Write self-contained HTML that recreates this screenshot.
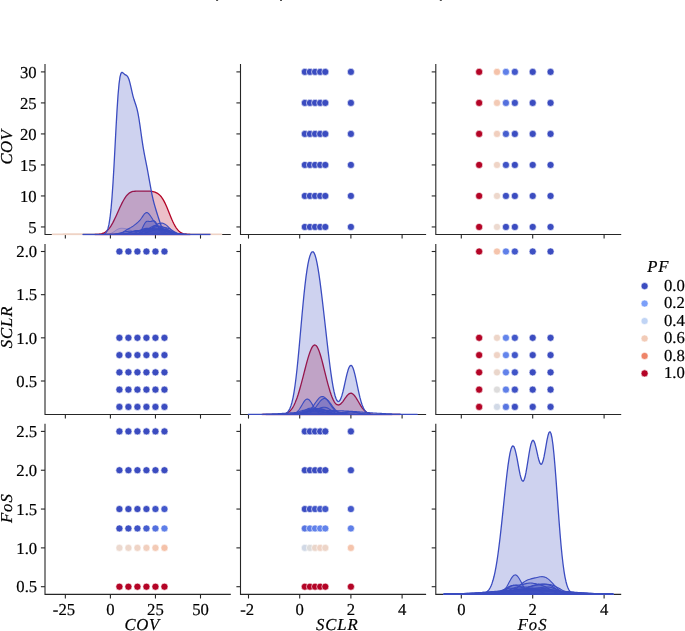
<!DOCTYPE html>
<html lang="en"><head><meta charset="utf-8"><title>Pairplot</title>
<style>html,body{margin:0;padding:0;background:#fff}svg text{font-family:"Liberation Serif","DejaVu Serif",serif;font-size:16.67px;fill:#000;stroke:#000;stroke-width:0.2px;text-rendering:geometricPrecision}body{width:685px;height:631px;overflow:hidden}</style>
</head><body>
<svg width="685" height="631" viewBox="0 0 685 631" style="display:block;will-change:transform">
<rect width="685" height="631" fill="#fff"/>
<rect x="216.1" y="0" width="2.0" height="1" fill="#505050"/>
<rect x="280.0" y="0" width="2.0" height="1" fill="#505050"/>
<rect x="439.8" y="0" width="2.0" height="1" fill="#505050"/>
<circle cx="304.82" cy="226.95" r="3.55" fill="#3b4cc0" stroke="#fff" stroke-width="0.6"/>
<circle cx="309.94" cy="226.95" r="3.55" fill="#3b4cc0" stroke="#fff" stroke-width="0.6"/>
<circle cx="315.06" cy="226.95" r="3.55" fill="#3b4cc0" stroke="#fff" stroke-width="0.6"/>
<circle cx="320.18" cy="226.95" r="3.55" fill="#3b4cc0" stroke="#fff" stroke-width="0.6"/>
<circle cx="325.30" cy="226.95" r="3.55" fill="#3b4cc0" stroke="#fff" stroke-width="0.6"/>
<circle cx="350.90" cy="226.95" r="3.55" fill="#3b4cc0" stroke="#fff" stroke-width="0.6"/>
<circle cx="304.82" cy="195.94" r="3.55" fill="#3b4cc0" stroke="#fff" stroke-width="0.6"/>
<circle cx="309.94" cy="195.94" r="3.55" fill="#3b4cc0" stroke="#fff" stroke-width="0.6"/>
<circle cx="315.06" cy="195.94" r="3.55" fill="#3b4cc0" stroke="#fff" stroke-width="0.6"/>
<circle cx="320.18" cy="195.94" r="3.55" fill="#3b4cc0" stroke="#fff" stroke-width="0.6"/>
<circle cx="325.30" cy="195.94" r="3.55" fill="#3b4cc0" stroke="#fff" stroke-width="0.6"/>
<circle cx="350.90" cy="195.94" r="3.55" fill="#3b4cc0" stroke="#fff" stroke-width="0.6"/>
<circle cx="304.82" cy="164.93" r="3.55" fill="#3b4cc0" stroke="#fff" stroke-width="0.6"/>
<circle cx="309.94" cy="164.93" r="3.55" fill="#3b4cc0" stroke="#fff" stroke-width="0.6"/>
<circle cx="315.06" cy="164.93" r="3.55" fill="#3b4cc0" stroke="#fff" stroke-width="0.6"/>
<circle cx="320.18" cy="164.93" r="3.55" fill="#3b4cc0" stroke="#fff" stroke-width="0.6"/>
<circle cx="325.30" cy="164.93" r="3.55" fill="#3b4cc0" stroke="#fff" stroke-width="0.6"/>
<circle cx="350.90" cy="164.93" r="3.55" fill="#3b4cc0" stroke="#fff" stroke-width="0.6"/>
<circle cx="304.82" cy="133.92" r="3.55" fill="#3b4cc0" stroke="#fff" stroke-width="0.6"/>
<circle cx="309.94" cy="133.92" r="3.55" fill="#3b4cc0" stroke="#fff" stroke-width="0.6"/>
<circle cx="315.06" cy="133.92" r="3.55" fill="#3b4cc0" stroke="#fff" stroke-width="0.6"/>
<circle cx="320.18" cy="133.92" r="3.55" fill="#3b4cc0" stroke="#fff" stroke-width="0.6"/>
<circle cx="325.30" cy="133.92" r="3.55" fill="#3b4cc0" stroke="#fff" stroke-width="0.6"/>
<circle cx="350.90" cy="133.92" r="3.55" fill="#3b4cc0" stroke="#fff" stroke-width="0.6"/>
<circle cx="304.82" cy="102.91" r="3.55" fill="#3b4cc0" stroke="#fff" stroke-width="0.6"/>
<circle cx="309.94" cy="102.91" r="3.55" fill="#3b4cc0" stroke="#fff" stroke-width="0.6"/>
<circle cx="315.06" cy="102.91" r="3.55" fill="#3b4cc0" stroke="#fff" stroke-width="0.6"/>
<circle cx="320.18" cy="102.91" r="3.55" fill="#3b4cc0" stroke="#fff" stroke-width="0.6"/>
<circle cx="325.30" cy="102.91" r="3.55" fill="#3b4cc0" stroke="#fff" stroke-width="0.6"/>
<circle cx="350.90" cy="102.91" r="3.55" fill="#3b4cc0" stroke="#fff" stroke-width="0.6"/>
<circle cx="304.82" cy="71.90" r="3.55" fill="#3b4cc0" stroke="#fff" stroke-width="0.6"/>
<circle cx="309.94" cy="71.90" r="3.55" fill="#3b4cc0" stroke="#fff" stroke-width="0.6"/>
<circle cx="315.06" cy="71.90" r="3.55" fill="#3b4cc0" stroke="#fff" stroke-width="0.6"/>
<circle cx="320.18" cy="71.90" r="3.55" fill="#3b4cc0" stroke="#fff" stroke-width="0.6"/>
<circle cx="325.30" cy="71.90" r="3.55" fill="#3b4cc0" stroke="#fff" stroke-width="0.6"/>
<circle cx="350.90" cy="71.90" r="3.55" fill="#3b4cc0" stroke="#fff" stroke-width="0.6"/>
<circle cx="479.15" cy="226.95" r="3.55" fill="#b40426" stroke="#fff" stroke-width="0.6"/>
<circle cx="497.00" cy="226.95" r="3.55" fill="#ecd9cf" stroke="#fff" stroke-width="0.6"/>
<circle cx="505.93" cy="226.95" r="3.55" fill="#3c4ec2" stroke="#fff" stroke-width="0.6"/>
<circle cx="514.85" cy="226.95" r="3.55" fill="#3b4cc0" stroke="#fff" stroke-width="0.6"/>
<circle cx="532.70" cy="226.95" r="3.55" fill="#3b4cc0" stroke="#fff" stroke-width="0.6"/>
<circle cx="550.55" cy="226.95" r="3.55" fill="#3b4cc0" stroke="#fff" stroke-width="0.6"/>
<circle cx="479.15" cy="195.94" r="3.55" fill="#b40426" stroke="#fff" stroke-width="0.6"/>
<circle cx="497.00" cy="195.94" r="3.55" fill="#edd7cb" stroke="#fff" stroke-width="0.6"/>
<circle cx="505.93" cy="195.94" r="3.55" fill="#3d50c3" stroke="#fff" stroke-width="0.6"/>
<circle cx="514.85" cy="195.94" r="3.55" fill="#3b4cc0" stroke="#fff" stroke-width="0.6"/>
<circle cx="532.70" cy="195.94" r="3.55" fill="#3b4cc0" stroke="#fff" stroke-width="0.6"/>
<circle cx="550.55" cy="195.94" r="3.55" fill="#3b4cc0" stroke="#fff" stroke-width="0.6"/>
<circle cx="479.15" cy="164.93" r="3.55" fill="#b40426" stroke="#fff" stroke-width="0.6"/>
<circle cx="497.00" cy="164.93" r="3.55" fill="#efd4c6" stroke="#fff" stroke-width="0.6"/>
<circle cx="505.93" cy="164.93" r="3.55" fill="#3f53c6" stroke="#fff" stroke-width="0.6"/>
<circle cx="514.85" cy="164.93" r="3.55" fill="#3b4cc0" stroke="#fff" stroke-width="0.6"/>
<circle cx="532.70" cy="164.93" r="3.55" fill="#3b4cc0" stroke="#fff" stroke-width="0.6"/>
<circle cx="550.55" cy="164.93" r="3.55" fill="#3b4cc0" stroke="#fff" stroke-width="0.6"/>
<circle cx="479.15" cy="133.92" r="3.55" fill="#b40426" stroke="#fff" stroke-width="0.6"/>
<circle cx="497.00" cy="133.92" r="3.55" fill="#f1cfbe" stroke="#fff" stroke-width="0.6"/>
<circle cx="505.93" cy="133.92" r="3.55" fill="#465ecf" stroke="#fff" stroke-width="0.6"/>
<circle cx="514.85" cy="133.92" r="3.55" fill="#3c4ec2" stroke="#fff" stroke-width="0.6"/>
<circle cx="532.70" cy="133.92" r="3.55" fill="#3b4cc0" stroke="#fff" stroke-width="0.6"/>
<circle cx="550.55" cy="133.92" r="3.55" fill="#3b4cc0" stroke="#fff" stroke-width="0.6"/>
<circle cx="479.15" cy="102.91" r="3.55" fill="#b40426" stroke="#fff" stroke-width="0.6"/>
<circle cx="497.00" cy="102.91" r="3.55" fill="#f3cab5" stroke="#fff" stroke-width="0.6"/>
<circle cx="505.93" cy="102.91" r="3.55" fill="#5470de" stroke="#fff" stroke-width="0.6"/>
<circle cx="514.85" cy="102.91" r="3.55" fill="#3f53c6" stroke="#fff" stroke-width="0.6"/>
<circle cx="532.70" cy="102.91" r="3.55" fill="#3b4cc0" stroke="#fff" stroke-width="0.6"/>
<circle cx="550.55" cy="102.91" r="3.55" fill="#3b4cc0" stroke="#fff" stroke-width="0.6"/>
<circle cx="479.15" cy="71.90" r="3.55" fill="#b40426" stroke="#fff" stroke-width="0.6"/>
<circle cx="497.00" cy="71.90" r="3.55" fill="#f5c2a9" stroke="#fff" stroke-width="0.6"/>
<circle cx="505.93" cy="71.90" r="3.55" fill="#5f7fe8" stroke="#fff" stroke-width="0.6"/>
<circle cx="514.85" cy="71.90" r="3.55" fill="#4358cb" stroke="#fff" stroke-width="0.6"/>
<circle cx="532.70" cy="71.90" r="3.55" fill="#3b4cc0" stroke="#fff" stroke-width="0.6"/>
<circle cx="550.55" cy="71.90" r="3.55" fill="#3b4cc0" stroke="#fff" stroke-width="0.6"/>
<circle cx="119.41" cy="406.90" r="3.55" fill="#3b4cc0" stroke="#fff" stroke-width="0.6"/>
<circle cx="128.42" cy="406.90" r="3.55" fill="#3b4cc0" stroke="#fff" stroke-width="0.6"/>
<circle cx="137.43" cy="406.90" r="3.55" fill="#3b4cc0" stroke="#fff" stroke-width="0.6"/>
<circle cx="146.44" cy="406.90" r="3.55" fill="#3b4cc0" stroke="#fff" stroke-width="0.6"/>
<circle cx="155.45" cy="406.90" r="3.55" fill="#3b4cc0" stroke="#fff" stroke-width="0.6"/>
<circle cx="164.46" cy="406.90" r="3.55" fill="#3b4cc0" stroke="#fff" stroke-width="0.6"/>
<circle cx="119.41" cy="389.63" r="3.55" fill="#3b4cc0" stroke="#fff" stroke-width="0.6"/>
<circle cx="128.42" cy="389.63" r="3.55" fill="#3b4cc0" stroke="#fff" stroke-width="0.6"/>
<circle cx="137.43" cy="389.63" r="3.55" fill="#3b4cc0" stroke="#fff" stroke-width="0.6"/>
<circle cx="146.44" cy="389.63" r="3.55" fill="#3b4cc0" stroke="#fff" stroke-width="0.6"/>
<circle cx="155.45" cy="389.63" r="3.55" fill="#3b4cc0" stroke="#fff" stroke-width="0.6"/>
<circle cx="164.46" cy="389.63" r="3.55" fill="#3b4cc0" stroke="#fff" stroke-width="0.6"/>
<circle cx="119.41" cy="372.37" r="3.55" fill="#3b4cc0" stroke="#fff" stroke-width="0.6"/>
<circle cx="128.42" cy="372.37" r="3.55" fill="#3b4cc0" stroke="#fff" stroke-width="0.6"/>
<circle cx="137.43" cy="372.37" r="3.55" fill="#3b4cc0" stroke="#fff" stroke-width="0.6"/>
<circle cx="146.44" cy="372.37" r="3.55" fill="#3b4cc0" stroke="#fff" stroke-width="0.6"/>
<circle cx="155.45" cy="372.37" r="3.55" fill="#3b4cc0" stroke="#fff" stroke-width="0.6"/>
<circle cx="164.46" cy="372.37" r="3.55" fill="#3b4cc0" stroke="#fff" stroke-width="0.6"/>
<circle cx="119.41" cy="355.10" r="3.55" fill="#3b4cc0" stroke="#fff" stroke-width="0.6"/>
<circle cx="128.42" cy="355.10" r="3.55" fill="#3b4cc0" stroke="#fff" stroke-width="0.6"/>
<circle cx="137.43" cy="355.10" r="3.55" fill="#3b4cc0" stroke="#fff" stroke-width="0.6"/>
<circle cx="146.44" cy="355.10" r="3.55" fill="#3b4cc0" stroke="#fff" stroke-width="0.6"/>
<circle cx="155.45" cy="355.10" r="3.55" fill="#3b4cc0" stroke="#fff" stroke-width="0.6"/>
<circle cx="164.46" cy="355.10" r="3.55" fill="#3b4cc0" stroke="#fff" stroke-width="0.6"/>
<circle cx="119.41" cy="337.83" r="3.55" fill="#3b4cc0" stroke="#fff" stroke-width="0.6"/>
<circle cx="128.42" cy="337.83" r="3.55" fill="#3b4cc0" stroke="#fff" stroke-width="0.6"/>
<circle cx="137.43" cy="337.83" r="3.55" fill="#3b4cc0" stroke="#fff" stroke-width="0.6"/>
<circle cx="146.44" cy="337.83" r="3.55" fill="#3b4cc0" stroke="#fff" stroke-width="0.6"/>
<circle cx="155.45" cy="337.83" r="3.55" fill="#3b4cc0" stroke="#fff" stroke-width="0.6"/>
<circle cx="164.46" cy="337.83" r="3.55" fill="#3b4cc0" stroke="#fff" stroke-width="0.6"/>
<circle cx="119.41" cy="251.50" r="3.55" fill="#3b4cc0" stroke="#fff" stroke-width="0.6"/>
<circle cx="128.42" cy="251.50" r="3.55" fill="#3b4cc0" stroke="#fff" stroke-width="0.6"/>
<circle cx="137.43" cy="251.50" r="3.55" fill="#3b4cc0" stroke="#fff" stroke-width="0.6"/>
<circle cx="146.44" cy="251.50" r="3.55" fill="#3b4cc0" stroke="#fff" stroke-width="0.6"/>
<circle cx="155.45" cy="251.50" r="3.55" fill="#3b4cc0" stroke="#fff" stroke-width="0.6"/>
<circle cx="164.46" cy="251.50" r="3.55" fill="#3b4cc0" stroke="#fff" stroke-width="0.6"/>
<circle cx="479.15" cy="406.90" r="3.55" fill="#b40426" stroke="#fff" stroke-width="0.6"/>
<circle cx="497.00" cy="406.90" r="3.55" fill="#d1d9e6" stroke="#fff" stroke-width="0.6"/>
<circle cx="505.93" cy="406.90" r="3.55" fill="#5875e1" stroke="#fff" stroke-width="0.6"/>
<circle cx="514.85" cy="406.90" r="3.55" fill="#3c4ec2" stroke="#fff" stroke-width="0.6"/>
<circle cx="532.70" cy="406.90" r="3.55" fill="#3b4cc0" stroke="#fff" stroke-width="0.6"/>
<circle cx="550.55" cy="406.90" r="3.55" fill="#3b4cc0" stroke="#fff" stroke-width="0.6"/>
<circle cx="479.15" cy="389.63" r="3.55" fill="#b40426" stroke="#fff" stroke-width="0.6"/>
<circle cx="497.00" cy="389.63" r="3.55" fill="#dddcdc" stroke="#fff" stroke-width="0.6"/>
<circle cx="505.93" cy="389.63" r="3.55" fill="#5f7fe8" stroke="#fff" stroke-width="0.6"/>
<circle cx="514.85" cy="389.63" r="3.55" fill="#3e51c5" stroke="#fff" stroke-width="0.6"/>
<circle cx="532.70" cy="389.63" r="3.55" fill="#3b4cc0" stroke="#fff" stroke-width="0.6"/>
<circle cx="550.55" cy="389.63" r="3.55" fill="#3b4cc0" stroke="#fff" stroke-width="0.6"/>
<circle cx="479.15" cy="372.37" r="3.55" fill="#b40426" stroke="#fff" stroke-width="0.6"/>
<circle cx="497.00" cy="372.37" r="3.55" fill="#ead6cb" stroke="#fff" stroke-width="0.6"/>
<circle cx="505.93" cy="372.37" r="3.55" fill="#6282ea" stroke="#fff" stroke-width="0.6"/>
<circle cx="514.85" cy="372.37" r="3.55" fill="#4055c8" stroke="#fff" stroke-width="0.6"/>
<circle cx="532.70" cy="372.37" r="3.55" fill="#3b4cc0" stroke="#fff" stroke-width="0.6"/>
<circle cx="550.55" cy="372.37" r="3.55" fill="#3b4cc0" stroke="#fff" stroke-width="0.6"/>
<circle cx="479.15" cy="355.10" r="3.55" fill="#b40426" stroke="#fff" stroke-width="0.6"/>
<circle cx="497.00" cy="355.10" r="3.55" fill="#efd3c5" stroke="#fff" stroke-width="0.6"/>
<circle cx="505.93" cy="355.10" r="3.55" fill="#6485ec" stroke="#fff" stroke-width="0.6"/>
<circle cx="514.85" cy="355.10" r="3.55" fill="#4257c9" stroke="#fff" stroke-width="0.6"/>
<circle cx="532.70" cy="355.10" r="3.55" fill="#3b4cc0" stroke="#fff" stroke-width="0.6"/>
<circle cx="550.55" cy="355.10" r="3.55" fill="#3b4cc0" stroke="#fff" stroke-width="0.6"/>
<circle cx="479.15" cy="337.83" r="3.55" fill="#b40426" stroke="#fff" stroke-width="0.6"/>
<circle cx="497.00" cy="337.83" r="3.55" fill="#edd5c8" stroke="#fff" stroke-width="0.6"/>
<circle cx="505.93" cy="337.83" r="3.55" fill="#6384eb" stroke="#fff" stroke-width="0.6"/>
<circle cx="514.85" cy="337.83" r="3.55" fill="#4257c9" stroke="#fff" stroke-width="0.6"/>
<circle cx="532.70" cy="337.83" r="3.55" fill="#3b4cc0" stroke="#fff" stroke-width="0.6"/>
<circle cx="550.55" cy="337.83" r="3.55" fill="#3b4cc0" stroke="#fff" stroke-width="0.6"/>
<circle cx="479.15" cy="251.50" r="3.55" fill="#b40426" stroke="#fff" stroke-width="0.6"/>
<circle cx="497.00" cy="251.50" r="3.55" fill="#f5c4ac" stroke="#fff" stroke-width="0.6"/>
<circle cx="505.93" cy="251.50" r="3.55" fill="#5f7fe8" stroke="#fff" stroke-width="0.6"/>
<circle cx="514.85" cy="251.50" r="3.55" fill="#4358cb" stroke="#fff" stroke-width="0.6"/>
<circle cx="532.70" cy="251.50" r="3.55" fill="#3d50c3" stroke="#fff" stroke-width="0.6"/>
<circle cx="550.55" cy="251.50" r="3.55" fill="#3b4cc0" stroke="#fff" stroke-width="0.6"/>
<circle cx="119.41" cy="586.70" r="3.55" fill="#b40426" stroke="#fff" stroke-width="0.6"/>
<circle cx="128.42" cy="586.70" r="3.55" fill="#b40426" stroke="#fff" stroke-width="0.6"/>
<circle cx="137.43" cy="586.70" r="3.55" fill="#b40426" stroke="#fff" stroke-width="0.6"/>
<circle cx="146.44" cy="586.70" r="3.55" fill="#b40426" stroke="#fff" stroke-width="0.6"/>
<circle cx="155.45" cy="586.70" r="3.55" fill="#b40426" stroke="#fff" stroke-width="0.6"/>
<circle cx="164.46" cy="586.70" r="3.55" fill="#b40426" stroke="#fff" stroke-width="0.6"/>
<circle cx="119.41" cy="547.88" r="3.55" fill="#ecd9cf" stroke="#fff" stroke-width="0.6"/>
<circle cx="128.42" cy="547.88" r="3.55" fill="#edd7cb" stroke="#fff" stroke-width="0.6"/>
<circle cx="137.43" cy="547.88" r="3.55" fill="#efd4c6" stroke="#fff" stroke-width="0.6"/>
<circle cx="146.44" cy="547.88" r="3.55" fill="#f1cfbe" stroke="#fff" stroke-width="0.6"/>
<circle cx="155.45" cy="547.88" r="3.55" fill="#f3cab5" stroke="#fff" stroke-width="0.6"/>
<circle cx="164.46" cy="547.88" r="3.55" fill="#f5c2a9" stroke="#fff" stroke-width="0.6"/>
<circle cx="119.41" cy="528.46" r="3.55" fill="#3c4ec2" stroke="#fff" stroke-width="0.6"/>
<circle cx="128.42" cy="528.46" r="3.55" fill="#3d50c3" stroke="#fff" stroke-width="0.6"/>
<circle cx="137.43" cy="528.46" r="3.55" fill="#3f53c6" stroke="#fff" stroke-width="0.6"/>
<circle cx="146.44" cy="528.46" r="3.55" fill="#465ecf" stroke="#fff" stroke-width="0.6"/>
<circle cx="155.45" cy="528.46" r="3.55" fill="#5470de" stroke="#fff" stroke-width="0.6"/>
<circle cx="164.46" cy="528.46" r="3.55" fill="#5f7fe8" stroke="#fff" stroke-width="0.6"/>
<circle cx="119.41" cy="509.05" r="3.55" fill="#3b4cc0" stroke="#fff" stroke-width="0.6"/>
<circle cx="128.42" cy="509.05" r="3.55" fill="#3b4cc0" stroke="#fff" stroke-width="0.6"/>
<circle cx="137.43" cy="509.05" r="3.55" fill="#3b4cc0" stroke="#fff" stroke-width="0.6"/>
<circle cx="146.44" cy="509.05" r="3.55" fill="#3c4ec2" stroke="#fff" stroke-width="0.6"/>
<circle cx="155.45" cy="509.05" r="3.55" fill="#3f53c6" stroke="#fff" stroke-width="0.6"/>
<circle cx="164.46" cy="509.05" r="3.55" fill="#4358cb" stroke="#fff" stroke-width="0.6"/>
<circle cx="119.41" cy="470.23" r="3.55" fill="#3b4cc0" stroke="#fff" stroke-width="0.6"/>
<circle cx="128.42" cy="470.23" r="3.55" fill="#3b4cc0" stroke="#fff" stroke-width="0.6"/>
<circle cx="137.43" cy="470.23" r="3.55" fill="#3b4cc0" stroke="#fff" stroke-width="0.6"/>
<circle cx="146.44" cy="470.23" r="3.55" fill="#3b4cc0" stroke="#fff" stroke-width="0.6"/>
<circle cx="155.45" cy="470.23" r="3.55" fill="#3b4cc0" stroke="#fff" stroke-width="0.6"/>
<circle cx="164.46" cy="470.23" r="3.55" fill="#3b4cc0" stroke="#fff" stroke-width="0.6"/>
<circle cx="119.41" cy="431.40" r="3.55" fill="#3b4cc0" stroke="#fff" stroke-width="0.6"/>
<circle cx="128.42" cy="431.40" r="3.55" fill="#3b4cc0" stroke="#fff" stroke-width="0.6"/>
<circle cx="137.43" cy="431.40" r="3.55" fill="#3b4cc0" stroke="#fff" stroke-width="0.6"/>
<circle cx="146.44" cy="431.40" r="3.55" fill="#3b4cc0" stroke="#fff" stroke-width="0.6"/>
<circle cx="155.45" cy="431.40" r="3.55" fill="#3b4cc0" stroke="#fff" stroke-width="0.6"/>
<circle cx="164.46" cy="431.40" r="3.55" fill="#3b4cc0" stroke="#fff" stroke-width="0.6"/>
<circle cx="304.82" cy="586.70" r="3.55" fill="#b40426" stroke="#fff" stroke-width="0.6"/>
<circle cx="309.94" cy="586.70" r="3.55" fill="#b40426" stroke="#fff" stroke-width="0.6"/>
<circle cx="315.06" cy="586.70" r="3.55" fill="#b40426" stroke="#fff" stroke-width="0.6"/>
<circle cx="320.18" cy="586.70" r="3.55" fill="#b40426" stroke="#fff" stroke-width="0.6"/>
<circle cx="325.30" cy="586.70" r="3.55" fill="#b40426" stroke="#fff" stroke-width="0.6"/>
<circle cx="350.90" cy="586.70" r="3.55" fill="#b40426" stroke="#fff" stroke-width="0.6"/>
<circle cx="304.82" cy="547.88" r="3.55" fill="#d1d9e6" stroke="#fff" stroke-width="0.6"/>
<circle cx="309.94" cy="547.88" r="3.55" fill="#dddcdc" stroke="#fff" stroke-width="0.6"/>
<circle cx="315.06" cy="547.88" r="3.55" fill="#ead6cb" stroke="#fff" stroke-width="0.6"/>
<circle cx="320.18" cy="547.88" r="3.55" fill="#efd3c5" stroke="#fff" stroke-width="0.6"/>
<circle cx="325.30" cy="547.88" r="3.55" fill="#edd5c8" stroke="#fff" stroke-width="0.6"/>
<circle cx="350.90" cy="547.88" r="3.55" fill="#f5c4ac" stroke="#fff" stroke-width="0.6"/>
<circle cx="304.82" cy="528.46" r="3.55" fill="#5875e1" stroke="#fff" stroke-width="0.6"/>
<circle cx="309.94" cy="528.46" r="3.55" fill="#5f7fe8" stroke="#fff" stroke-width="0.6"/>
<circle cx="315.06" cy="528.46" r="3.55" fill="#6282ea" stroke="#fff" stroke-width="0.6"/>
<circle cx="320.18" cy="528.46" r="3.55" fill="#6485ec" stroke="#fff" stroke-width="0.6"/>
<circle cx="325.30" cy="528.46" r="3.55" fill="#6384eb" stroke="#fff" stroke-width="0.6"/>
<circle cx="350.90" cy="528.46" r="3.55" fill="#5f7fe8" stroke="#fff" stroke-width="0.6"/>
<circle cx="304.82" cy="509.05" r="3.55" fill="#3c4ec2" stroke="#fff" stroke-width="0.6"/>
<circle cx="309.94" cy="509.05" r="3.55" fill="#3e51c5" stroke="#fff" stroke-width="0.6"/>
<circle cx="315.06" cy="509.05" r="3.55" fill="#4055c8" stroke="#fff" stroke-width="0.6"/>
<circle cx="320.18" cy="509.05" r="3.55" fill="#4257c9" stroke="#fff" stroke-width="0.6"/>
<circle cx="325.30" cy="509.05" r="3.55" fill="#4257c9" stroke="#fff" stroke-width="0.6"/>
<circle cx="350.90" cy="509.05" r="3.55" fill="#4358cb" stroke="#fff" stroke-width="0.6"/>
<circle cx="304.82" cy="470.23" r="3.55" fill="#3b4cc0" stroke="#fff" stroke-width="0.6"/>
<circle cx="309.94" cy="470.23" r="3.55" fill="#3b4cc0" stroke="#fff" stroke-width="0.6"/>
<circle cx="315.06" cy="470.23" r="3.55" fill="#3b4cc0" stroke="#fff" stroke-width="0.6"/>
<circle cx="320.18" cy="470.23" r="3.55" fill="#3b4cc0" stroke="#fff" stroke-width="0.6"/>
<circle cx="325.30" cy="470.23" r="3.55" fill="#3b4cc0" stroke="#fff" stroke-width="0.6"/>
<circle cx="350.90" cy="470.23" r="3.55" fill="#3d50c3" stroke="#fff" stroke-width="0.6"/>
<circle cx="304.82" cy="431.40" r="3.55" fill="#3b4cc0" stroke="#fff" stroke-width="0.6"/>
<circle cx="309.94" cy="431.40" r="3.55" fill="#3b4cc0" stroke="#fff" stroke-width="0.6"/>
<circle cx="315.06" cy="431.40" r="3.55" fill="#3b4cc0" stroke="#fff" stroke-width="0.6"/>
<circle cx="320.18" cy="431.40" r="3.55" fill="#3b4cc0" stroke="#fff" stroke-width="0.6"/>
<circle cx="325.30" cy="431.40" r="3.55" fill="#3b4cc0" stroke="#fff" stroke-width="0.6"/>
<circle cx="350.90" cy="431.40" r="3.55" fill="#3b4cc0" stroke="#fff" stroke-width="0.6"/>
<path d="M45.0,64.0 V234.5 H230.8" fill="none" stroke="#262626" stroke-width="1.1"/>
<path d="M65.35,234.5 v4.1" stroke="#262626" stroke-width="1.1"/>
<path d="M110.40,234.5 v4.1" stroke="#262626" stroke-width="1.1"/>
<path d="M155.45,234.5 v4.1" stroke="#262626" stroke-width="1.1"/>
<path d="M200.50,234.5 v4.1" stroke="#262626" stroke-width="1.1"/>
<path d="M45.0,226.95 h-4.1" stroke="#262626" stroke-width="1.1"/>
<path d="M45.0,195.94 h-4.1" stroke="#262626" stroke-width="1.1"/>
<path d="M45.0,164.93 h-4.1" stroke="#262626" stroke-width="1.1"/>
<path d="M45.0,133.92 h-4.1" stroke="#262626" stroke-width="1.1"/>
<path d="M45.0,102.91 h-4.1" stroke="#262626" stroke-width="1.1"/>
<path d="M45.0,71.90 h-4.1" stroke="#262626" stroke-width="1.1"/>
<path d="M240.5,64.0 V234.5 H426.1" fill="none" stroke="#262626" stroke-width="1.1"/>
<path d="M248.50,234.5 v4.1" stroke="#262626" stroke-width="1.1"/>
<path d="M299.70,234.5 v4.1" stroke="#262626" stroke-width="1.1"/>
<path d="M350.90,234.5 v4.1" stroke="#262626" stroke-width="1.1"/>
<path d="M402.10,234.5 v4.1" stroke="#262626" stroke-width="1.1"/>
<path d="M240.5,226.95 h-4.1" stroke="#262626" stroke-width="1.1"/>
<path d="M240.5,195.94 h-4.1" stroke="#262626" stroke-width="1.1"/>
<path d="M240.5,164.93 h-4.1" stroke="#262626" stroke-width="1.1"/>
<path d="M240.5,133.92 h-4.1" stroke="#262626" stroke-width="1.1"/>
<path d="M240.5,102.91 h-4.1" stroke="#262626" stroke-width="1.1"/>
<path d="M240.5,71.90 h-4.1" stroke="#262626" stroke-width="1.1"/>
<path d="M435.8,64.0 V234.5 H621.2" fill="none" stroke="#262626" stroke-width="1.1"/>
<path d="M461.30,234.5 v4.1" stroke="#262626" stroke-width="1.1"/>
<path d="M532.70,234.5 v4.1" stroke="#262626" stroke-width="1.1"/>
<path d="M604.10,234.5 v4.1" stroke="#262626" stroke-width="1.1"/>
<path d="M435.8,226.95 h-4.1" stroke="#262626" stroke-width="1.1"/>
<path d="M435.8,195.94 h-4.1" stroke="#262626" stroke-width="1.1"/>
<path d="M435.8,164.93 h-4.1" stroke="#262626" stroke-width="1.1"/>
<path d="M435.8,133.92 h-4.1" stroke="#262626" stroke-width="1.1"/>
<path d="M435.8,102.91 h-4.1" stroke="#262626" stroke-width="1.1"/>
<path d="M435.8,71.90 h-4.1" stroke="#262626" stroke-width="1.1"/>
<path d="M45.0,244.0 V414.5 H230.8" fill="none" stroke="#262626" stroke-width="1.1"/>
<path d="M65.35,414.5 v4.1" stroke="#262626" stroke-width="1.1"/>
<path d="M110.40,414.5 v4.1" stroke="#262626" stroke-width="1.1"/>
<path d="M155.45,414.5 v4.1" stroke="#262626" stroke-width="1.1"/>
<path d="M200.50,414.5 v4.1" stroke="#262626" stroke-width="1.1"/>
<path d="M45.0,381.00 h-4.1" stroke="#262626" stroke-width="1.1"/>
<path d="M45.0,337.83 h-4.1" stroke="#262626" stroke-width="1.1"/>
<path d="M45.0,294.67 h-4.1" stroke="#262626" stroke-width="1.1"/>
<path d="M45.0,251.50 h-4.1" stroke="#262626" stroke-width="1.1"/>
<path d="M240.5,244.0 V414.5 H426.1" fill="none" stroke="#262626" stroke-width="1.1"/>
<path d="M248.50,414.5 v4.1" stroke="#262626" stroke-width="1.1"/>
<path d="M299.70,414.5 v4.1" stroke="#262626" stroke-width="1.1"/>
<path d="M350.90,414.5 v4.1" stroke="#262626" stroke-width="1.1"/>
<path d="M402.10,414.5 v4.1" stroke="#262626" stroke-width="1.1"/>
<path d="M240.5,381.00 h-4.1" stroke="#262626" stroke-width="1.1"/>
<path d="M240.5,337.83 h-4.1" stroke="#262626" stroke-width="1.1"/>
<path d="M240.5,294.67 h-4.1" stroke="#262626" stroke-width="1.1"/>
<path d="M240.5,251.50 h-4.1" stroke="#262626" stroke-width="1.1"/>
<path d="M435.8,244.0 V414.5 H621.2" fill="none" stroke="#262626" stroke-width="1.1"/>
<path d="M461.30,414.5 v4.1" stroke="#262626" stroke-width="1.1"/>
<path d="M532.70,414.5 v4.1" stroke="#262626" stroke-width="1.1"/>
<path d="M604.10,414.5 v4.1" stroke="#262626" stroke-width="1.1"/>
<path d="M435.8,381.00 h-4.1" stroke="#262626" stroke-width="1.1"/>
<path d="M435.8,337.83 h-4.1" stroke="#262626" stroke-width="1.1"/>
<path d="M435.8,294.67 h-4.1" stroke="#262626" stroke-width="1.1"/>
<path d="M435.8,251.50 h-4.1" stroke="#262626" stroke-width="1.1"/>
<path d="M45.0,423.7 V594.4 H230.8" fill="none" stroke="#262626" stroke-width="1.1"/>
<path d="M65.35,594.4 v4.1" stroke="#262626" stroke-width="1.1"/>
<path d="M110.40,594.4 v4.1" stroke="#262626" stroke-width="1.1"/>
<path d="M155.45,594.4 v4.1" stroke="#262626" stroke-width="1.1"/>
<path d="M200.50,594.4 v4.1" stroke="#262626" stroke-width="1.1"/>
<path d="M45.0,586.70 h-4.1" stroke="#262626" stroke-width="1.1"/>
<path d="M45.0,547.88 h-4.1" stroke="#262626" stroke-width="1.1"/>
<path d="M45.0,509.05 h-4.1" stroke="#262626" stroke-width="1.1"/>
<path d="M45.0,470.23 h-4.1" stroke="#262626" stroke-width="1.1"/>
<path d="M45.0,431.40 h-4.1" stroke="#262626" stroke-width="1.1"/>
<path d="M240.5,423.7 V594.4 H426.1" fill="none" stroke="#262626" stroke-width="1.1"/>
<path d="M248.50,594.4 v4.1" stroke="#262626" stroke-width="1.1"/>
<path d="M299.70,594.4 v4.1" stroke="#262626" stroke-width="1.1"/>
<path d="M350.90,594.4 v4.1" stroke="#262626" stroke-width="1.1"/>
<path d="M402.10,594.4 v4.1" stroke="#262626" stroke-width="1.1"/>
<path d="M240.5,586.70 h-4.1" stroke="#262626" stroke-width="1.1"/>
<path d="M240.5,547.88 h-4.1" stroke="#262626" stroke-width="1.1"/>
<path d="M240.5,509.05 h-4.1" stroke="#262626" stroke-width="1.1"/>
<path d="M240.5,470.23 h-4.1" stroke="#262626" stroke-width="1.1"/>
<path d="M240.5,431.40 h-4.1" stroke="#262626" stroke-width="1.1"/>
<path d="M435.8,423.7 V594.4 H621.2" fill="none" stroke="#262626" stroke-width="1.1"/>
<path d="M461.30,594.4 v4.1" stroke="#262626" stroke-width="1.1"/>
<path d="M532.70,594.4 v4.1" stroke="#262626" stroke-width="1.1"/>
<path d="M604.10,594.4 v4.1" stroke="#262626" stroke-width="1.1"/>
<path d="M435.8,586.70 h-4.1" stroke="#262626" stroke-width="1.1"/>
<path d="M435.8,547.88 h-4.1" stroke="#262626" stroke-width="1.1"/>
<path d="M435.8,509.05 h-4.1" stroke="#262626" stroke-width="1.1"/>
<path d="M435.8,470.23 h-4.1" stroke="#262626" stroke-width="1.1"/>
<path d="M435.8,431.40 h-4.1" stroke="#262626" stroke-width="1.1"/>
<clipPath id="c0"><rect x="45.0" y="62.0" width="185.8" height="173.5"/></clipPath>
<clipPath id="c1"><rect x="240.5" y="242.0" width="185.60000000000002" height="173.5"/></clipPath>
<clipPath id="c2"><rect x="435.8" y="421.7" width="185.40000000000003" height="173.7"/></clipPath>
<g clip-path="url(#c0)">
<path d="M52.5,234.5 L52.5,234.24 53.5,234.23 54.5,234.23 55.5,234.22 56.5,234.22 57.5,234.21 58.5,234.20 59.5,234.20 60.5,234.19 61.5,234.18 62.5,234.18 63.5,234.17 64.5,234.16 65.5,234.16 66.5,234.15 67.5,234.14 68.5,234.14 69.5,234.13 70.5,234.12 71.5,234.11 72.5,234.11 73.5,234.10 74.5,234.09 75.5,234.09 76.5,234.08 77.5,234.07 78.5,234.06 79.5,234.06 80.5,234.05 81.5,234.04 82.5,234.04 83.5,234.03 84.5,234.02 85.5,234.02 86.5,234.01 87.5,234.00 88.5,234.00 89.5,233.99 90.5,233.98 91.5,233.97 92.5,233.97 93.5,233.96 94.5,233.96 95.5,233.95 96.5,233.94 97.5,233.94 98.5,233.93 99.5,233.92 100.5,233.92 101.5,233.91 102.5,233.91 103.5,233.90 104.5,233.90 105.5,233.89 106.5,233.88 107.5,233.88 108.5,233.87 109.5,233.87 110.5,233.87 111.5,233.86 112.5,233.86 113.5,233.85 114.5,233.85 115.5,233.84 116.5,233.84 117.5,233.84 118.5,233.83 119.5,233.83 120.5,233.83 121.5,233.82 122.5,233.82 123.5,233.82 124.5,233.82 125.5,233.81 126.5,233.81 127.5,233.81 128.5,233.81 129.5,233.81 130.5,233.80 131.5,233.80 132.5,233.80 133.5,233.80 134.5,233.80 135.5,233.80 136.5,233.80 137.5,233.80 138.5,233.80 139.5,233.80 140.5,233.80 141.5,233.80 142.5,233.80 143.5,233.80 144.5,233.81 145.5,233.81 146.5,233.81 147.5,233.81 148.5,233.81 149.5,233.82 150.5,233.82 151.5,233.82 152.5,233.82 153.5,233.83 154.5,233.83 155.5,233.83 156.5,233.84 157.5,233.84 158.5,233.84 159.5,233.85 160.5,233.85 161.5,233.86 162.5,233.86 163.5,233.87 164.5,233.87 165.5,233.87 166.5,233.88 167.5,233.88 168.5,233.89 169.5,233.90 170.5,233.90 171.5,233.91 172.5,233.91 173.5,233.92 174.5,233.92 175.5,233.93 176.5,233.94 177.5,233.94 178.5,233.95 179.5,233.96 180.5,233.96 181.5,233.97 182.5,233.97 183.5,233.98 184.5,233.99 185.5,234.00 186.5,234.00 187.5,234.01 188.5,234.02 189.5,234.02 190.5,234.03 191.5,234.04 192.5,234.04 193.5,234.05 194.5,234.06 195.5,234.06 196.5,234.07 197.5,234.08 198.5,234.09 199.5,234.09 200.5,234.10 201.5,234.11 202.5,234.11 203.5,234.12 204.5,234.13 205.5,234.14 206.5,234.14 207.5,234.15 208.5,234.16 209.5,234.16 210.5,234.17 211.5,234.18 212.5,234.18 213.5,234.19 214.5,234.20 215.5,234.20 216.5,234.21 217.5,234.22 218.5,234.22 219.5,234.23 220.5,234.23 221.5,234.24 L221.5,234.5 Z" fill="#efd3c5" fill-opacity="0.25" stroke="none"/>
<path d="M52.5,234.5 L52.5,234.24 53.5,234.23 54.5,234.23 55.5,234.22 56.5,234.22 57.5,234.21 58.5,234.20 59.5,234.20 60.5,234.19 61.5,234.18 62.5,234.18 63.5,234.17 64.5,234.16 65.5,234.16 66.5,234.15 67.5,234.14 68.5,234.14 69.5,234.13 70.5,234.12 71.5,234.11 72.5,234.11 73.5,234.10 74.5,234.09 75.5,234.09 76.5,234.08 77.5,234.07 78.5,234.06 79.5,234.06 80.5,234.05 81.5,234.04 82.5,234.04 83.5,234.03 84.5,234.02 85.5,234.02 86.5,234.01 87.5,234.00 88.5,234.00 89.5,233.99 90.5,233.98 91.5,233.97 92.5,233.97 93.5,233.96 94.5,233.96 95.5,233.95 96.5,233.94 97.5,233.94 98.5,233.93 99.5,233.92 100.5,233.92 101.5,233.91 102.5,233.91 103.5,233.90 104.5,233.90 105.5,233.89 106.5,233.88 107.5,233.88 108.5,233.87 109.5,233.87 110.5,233.87 111.5,233.86 112.5,233.86 113.5,233.85 114.5,233.85 115.5,233.84 116.5,233.84 117.5,233.84 118.5,233.83 119.5,233.83 120.5,233.83 121.5,233.82 122.5,233.82 123.5,233.82 124.5,233.82 125.5,233.81 126.5,233.81 127.5,233.81 128.5,233.81 129.5,233.81 130.5,233.80 131.5,233.80 132.5,233.80 133.5,233.80 134.5,233.80 135.5,233.80 136.5,233.80 137.5,233.80 138.5,233.80 139.5,233.80 140.5,233.80 141.5,233.80 142.5,233.80 143.5,233.80 144.5,233.81 145.5,233.81 146.5,233.81 147.5,233.81 148.5,233.81 149.5,233.82 150.5,233.82 151.5,233.82 152.5,233.82 153.5,233.83 154.5,233.83 155.5,233.83 156.5,233.84 157.5,233.84 158.5,233.84 159.5,233.85 160.5,233.85 161.5,233.86 162.5,233.86 163.5,233.87 164.5,233.87 165.5,233.87 166.5,233.88 167.5,233.88 168.5,233.89 169.5,233.90 170.5,233.90 171.5,233.91 172.5,233.91 173.5,233.92 174.5,233.92 175.5,233.93 176.5,233.94 177.5,233.94 178.5,233.95 179.5,233.96 180.5,233.96 181.5,233.97 182.5,233.97 183.5,233.98 184.5,233.99 185.5,234.00 186.5,234.00 187.5,234.01 188.5,234.02 189.5,234.02 190.5,234.03 191.5,234.04 192.5,234.04 193.5,234.05 194.5,234.06 195.5,234.06 196.5,234.07 197.5,234.08 198.5,234.09 199.5,234.09 200.5,234.10 201.5,234.11 202.5,234.11 203.5,234.12 204.5,234.13 205.5,234.14 206.5,234.14 207.5,234.15 208.5,234.16 209.5,234.16 210.5,234.17 211.5,234.18 212.5,234.18 213.5,234.19 214.5,234.20 215.5,234.20 216.5,234.21 217.5,234.22 218.5,234.22 219.5,234.23 220.5,234.23 221.5,234.24 L221.5,234.5 Z" fill="none" stroke="#efd3c5" stroke-width="1.6" stroke-linejoin="round"/>
<path d="M90.0,234.5 L90.0,234.50 91.0,234.50 92.0,234.50 93.0,234.50 94.0,234.50 95.0,234.50 96.0,234.50 97.0,234.50 98.0,234.50 99.0,234.50 100.0,234.50 101.0,234.50 102.0,234.49 103.0,234.48 104.0,234.47 105.0,234.44 106.0,234.39 107.0,234.31 108.0,234.19 109.0,234.00 110.0,233.73 111.0,233.37 112.0,232.90 113.0,232.34 114.0,231.69 115.0,231.00 116.0,230.30 117.0,229.66 118.0,229.11 119.0,228.70 120.0,228.43 121.0,228.30 122.0,228.28 123.0,228.34 124.0,228.46 125.0,228.60 126.0,228.77 127.0,228.99 128.0,229.27 129.0,229.63 130.0,230.07 131.0,230.59 132.0,231.16 133.0,231.75 134.0,232.32 135.0,232.84 136.0,233.29 137.0,233.65 138.0,233.93 139.0,234.13 140.0,234.27 141.0,234.37 142.0,234.42 143.0,234.46 144.0,234.48 145.0,234.49 146.0,234.49 147.0,234.50 148.0,234.50 149.0,234.50 150.0,234.50 151.0,234.50 152.0,234.50 153.0,234.50 154.0,234.50 155.0,234.50 156.0,234.50 157.0,234.50 158.0,234.50 159.0,234.50 160.0,234.50 L160.0,234.5 Z" fill="#aac7fd" fill-opacity="0.3" stroke="none"/>
<path d="M90.0,234.5 L90.0,234.50 91.0,234.50 92.0,234.50 93.0,234.50 94.0,234.50 95.0,234.50 96.0,234.50 97.0,234.50 98.0,234.50 99.0,234.50 100.0,234.50 101.0,234.50 102.0,234.49 103.0,234.48 104.0,234.47 105.0,234.44 106.0,234.39 107.0,234.31 108.0,234.19 109.0,234.00 110.0,233.73 111.0,233.37 112.0,232.90 113.0,232.34 114.0,231.69 115.0,231.00 116.0,230.30 117.0,229.66 118.0,229.11 119.0,228.70 120.0,228.43 121.0,228.30 122.0,228.28 123.0,228.34 124.0,228.46 125.0,228.60 126.0,228.77 127.0,228.99 128.0,229.27 129.0,229.63 130.0,230.07 131.0,230.59 132.0,231.16 133.0,231.75 134.0,232.32 135.0,232.84 136.0,233.29 137.0,233.65 138.0,233.93 139.0,234.13 140.0,234.27 141.0,234.37 142.0,234.42 143.0,234.46 144.0,234.48 145.0,234.49 146.0,234.49 147.0,234.50 148.0,234.50 149.0,234.50 150.0,234.50 151.0,234.50 152.0,234.50 153.0,234.50 154.0,234.50 155.0,234.50 156.0,234.50 157.0,234.50 158.0,234.50 159.0,234.50 160.0,234.50 L160.0,234.5 Z" fill="none" stroke="#aac7fd" stroke-width="1.0" stroke-linejoin="round"/>
<path d="M95.0,234.5 L95.0,234.44 96.0,234.40 97.0,234.35 98.0,234.28 99.0,234.17 100.0,234.03 101.0,233.84 102.0,233.58 103.0,233.24 104.0,232.80 105.0,232.25 106.0,231.58 107.0,230.75 108.0,229.77 109.0,228.62 110.0,227.30 111.0,225.81 112.0,224.15 113.0,222.34 114.0,220.39 115.0,218.33 116.0,216.18 117.0,213.97 118.0,211.73 119.0,209.50 120.0,207.30 121.0,205.18 122.0,203.14 123.0,201.23 124.0,199.47 125.0,197.87 126.0,196.44 127.0,195.21 128.0,194.16 129.0,193.31 130.0,192.62 131.0,192.11 132.0,191.73 133.0,191.48 134.0,191.32 135.0,191.23 136.0,191.19 137.0,191.18 138.0,191.18 139.0,191.18 140.0,191.18 141.0,191.16 142.0,191.13 143.0,191.10 144.0,191.07 145.0,191.04 146.0,191.03 147.0,191.03 148.0,191.05 149.0,191.10 150.0,191.18 151.0,191.30 152.0,191.44 153.0,191.64 154.0,191.88 155.0,192.19 156.0,192.57 157.0,193.06 158.0,193.67 159.0,194.43 160.0,195.36 161.0,196.48 162.0,197.81 163.0,199.36 164.0,201.12 165.0,203.09 166.0,205.25 167.0,207.56 168.0,209.99 169.0,212.47 170.0,214.97 171.0,217.42 172.0,219.78 173.0,222.00 174.0,224.04 175.0,225.89 176.0,227.53 177.0,228.94 178.0,230.14 179.0,231.14 180.0,231.95 181.0,232.60 182.0,233.11 183.0,233.50 184.0,233.79 185.0,234.01 186.0,234.16 187.0,234.27 188.0,234.35 189.0,234.40 190.0,234.44 L190.0,234.5 Z" fill="#b40426" fill-opacity="0.25" stroke="none"/>
<path d="M95.0,234.5 L95.0,234.44 96.0,234.40 97.0,234.35 98.0,234.28 99.0,234.17 100.0,234.03 101.0,233.84 102.0,233.58 103.0,233.24 104.0,232.80 105.0,232.25 106.0,231.58 107.0,230.75 108.0,229.77 109.0,228.62 110.0,227.30 111.0,225.81 112.0,224.15 113.0,222.34 114.0,220.39 115.0,218.33 116.0,216.18 117.0,213.97 118.0,211.73 119.0,209.50 120.0,207.30 121.0,205.18 122.0,203.14 123.0,201.23 124.0,199.47 125.0,197.87 126.0,196.44 127.0,195.21 128.0,194.16 129.0,193.31 130.0,192.62 131.0,192.11 132.0,191.73 133.0,191.48 134.0,191.32 135.0,191.23 136.0,191.19 137.0,191.18 138.0,191.18 139.0,191.18 140.0,191.18 141.0,191.16 142.0,191.13 143.0,191.10 144.0,191.07 145.0,191.04 146.0,191.03 147.0,191.03 148.0,191.05 149.0,191.10 150.0,191.18 151.0,191.30 152.0,191.44 153.0,191.64 154.0,191.88 155.0,192.19 156.0,192.57 157.0,193.06 158.0,193.67 159.0,194.43 160.0,195.36 161.0,196.48 162.0,197.81 163.0,199.36 164.0,201.12 165.0,203.09 166.0,205.25 167.0,207.56 168.0,209.99 169.0,212.47 170.0,214.97 171.0,217.42 172.0,219.78 173.0,222.00 174.0,224.04 175.0,225.89 176.0,227.53 177.0,228.94 178.0,230.14 179.0,231.14 180.0,231.95 181.0,232.60 182.0,233.11 183.0,233.50 184.0,233.79 185.0,234.01 186.0,234.16 187.0,234.27 188.0,234.35 189.0,234.40 190.0,234.44 L190.0,234.5 Z" fill="none" stroke="#b40426" stroke-width="1.3" stroke-linejoin="round"/>
<path d="M83.0,234.5 L83.0,234.50 84.0,234.50 85.0,234.50 86.0,234.50 87.0,234.50 88.0,234.50 89.0,234.50 90.0,234.50 91.0,234.50 92.0,234.50 93.0,234.50 94.0,234.50 95.0,234.50 96.0,234.50 97.0,234.50 98.0,234.50 99.0,234.49 100.0,234.48 101.0,234.46 102.0,234.40 103.0,234.28 104.0,234.03 105.0,233.53 106.0,232.63 107.0,231.03 108.0,228.38 109.0,224.20 110.0,217.97 111.0,209.19 112.0,197.54 113.0,182.98 114.0,165.92 115.0,147.25 116.0,128.30 117.0,110.59 118.0,95.55 119.0,84.21 120.0,76.91 121.0,73.27 122.0,72.33 123.0,72.88 124.0,73.86 125.0,74.64 126.0,75.16 127.0,75.81 128.0,77.13 129.0,79.54 130.0,83.08 131.0,87.41 132.0,91.93 133.0,96.08 134.0,99.58 135.0,102.55 136.0,105.45 137.0,108.88 138.0,113.35 139.0,119.00 140.0,125.64 141.0,132.78 142.0,139.84 143.0,146.38 144.0,152.23 145.0,157.49 146.0,162.46 147.0,167.48 148.0,172.75 149.0,178.29 150.0,183.94 151.0,189.43 152.0,194.53 153.0,199.08 154.0,203.09 155.0,206.67 156.0,209.98 157.0,213.19 158.0,216.35 159.0,219.47 160.0,222.46 161.0,225.22 162.0,227.63 163.0,229.63 164.0,231.20 165.0,232.36 166.0,233.18 167.0,233.72 168.0,234.06 169.0,234.27 170.0,234.38 171.0,234.44 172.0,234.47 173.0,234.49 174.0,234.49 175.0,234.50 176.0,234.50 177.0,234.50 178.0,234.50 179.0,234.50 180.0,234.50 181.0,234.50 182.0,234.50 183.0,234.50 184.0,234.50 185.0,234.50 186.0,234.50 187.0,234.50 188.0,234.50 189.0,234.50 190.0,234.50 191.0,234.50 192.0,234.50 193.0,234.50 194.0,234.50 195.0,234.50 196.0,234.50 197.0,234.50 198.0,234.50 199.0,234.50 200.0,234.50 201.0,234.50 202.0,234.50 203.0,234.50 204.0,234.50 205.0,234.50 206.0,234.50 207.0,234.50 208.0,234.50 209.0,234.50 210.0,234.50 L210.0,234.5 Z" fill="#3b4cc0" fill-opacity="0.25" stroke="none"/>
<path d="M83.0,234.5 L83.0,234.50 84.0,234.50 85.0,234.50 86.0,234.50 87.0,234.50 88.0,234.50 89.0,234.50 90.0,234.50 91.0,234.50 92.0,234.50 93.0,234.50 94.0,234.50 95.0,234.50 96.0,234.50 97.0,234.50 98.0,234.50 99.0,234.49 100.0,234.48 101.0,234.46 102.0,234.40 103.0,234.28 104.0,234.03 105.0,233.53 106.0,232.63 107.0,231.03 108.0,228.38 109.0,224.20 110.0,217.97 111.0,209.19 112.0,197.54 113.0,182.98 114.0,165.92 115.0,147.25 116.0,128.30 117.0,110.59 118.0,95.55 119.0,84.21 120.0,76.91 121.0,73.27 122.0,72.33 123.0,72.88 124.0,73.86 125.0,74.64 126.0,75.16 127.0,75.81 128.0,77.13 129.0,79.54 130.0,83.08 131.0,87.41 132.0,91.93 133.0,96.08 134.0,99.58 135.0,102.55 136.0,105.45 137.0,108.88 138.0,113.35 139.0,119.00 140.0,125.64 141.0,132.78 142.0,139.84 143.0,146.38 144.0,152.23 145.0,157.49 146.0,162.46 147.0,167.48 148.0,172.75 149.0,178.29 150.0,183.94 151.0,189.43 152.0,194.53 153.0,199.08 154.0,203.09 155.0,206.67 156.0,209.98 157.0,213.19 158.0,216.35 159.0,219.47 160.0,222.46 161.0,225.22 162.0,227.63 163.0,229.63 164.0,231.20 165.0,232.36 166.0,233.18 167.0,233.72 168.0,234.06 169.0,234.27 170.0,234.38 171.0,234.44 172.0,234.47 173.0,234.49 174.0,234.49 175.0,234.50 176.0,234.50 177.0,234.50 178.0,234.50 179.0,234.50 180.0,234.50 181.0,234.50 182.0,234.50 183.0,234.50 184.0,234.50 185.0,234.50 186.0,234.50 187.0,234.50 188.0,234.50 189.0,234.50 190.0,234.50 191.0,234.50 192.0,234.50 193.0,234.50 194.0,234.50 195.0,234.50 196.0,234.50 197.0,234.50 198.0,234.50 199.0,234.50 200.0,234.50 201.0,234.50 202.0,234.50 203.0,234.50 204.0,234.50 205.0,234.50 206.0,234.50 207.0,234.50 208.0,234.50 209.0,234.50 210.0,234.50 L210.0,234.5 Z" fill="none" stroke="#3b4cc0" stroke-width="1.3" stroke-linejoin="round"/>
<path d="M100.0,234.5 L100.0,234.50 101.0,234.50 102.0,234.50 103.0,234.50 104.0,234.50 105.0,234.50 106.0,234.50 107.0,234.50 108.0,234.50 109.0,234.50 110.0,234.50 111.0,234.50 112.0,234.49 113.0,234.48 114.0,234.47 115.0,234.44 116.0,234.38 117.0,234.29 118.0,234.15 119.0,233.94 120.0,233.64 121.0,233.25 122.0,232.76 123.0,232.18 124.0,231.53 125.0,230.85 126.0,230.18 127.0,229.54 128.0,228.96 129.0,228.42 130.0,227.90 131.0,227.37 132.0,226.79 133.0,226.14 134.0,225.43 135.0,224.66 136.0,223.86 137.0,223.04 138.0,222.16 139.0,221.19 140.0,220.07 141.0,218.78 142.0,217.35 143.0,215.85 144.0,214.45 145.0,213.34 146.0,212.67 147.0,212.57 148.0,213.03 149.0,214.00 150.0,215.30 151.0,216.78 152.0,218.29 153.0,219.73 154.0,221.08 155.0,222.36 156.0,223.63 157.0,224.93 158.0,226.26 159.0,227.62 160.0,228.95 161.0,230.20 162.0,231.30 163.0,232.22 164.0,232.94 165.0,233.49 166.0,233.87 167.0,234.13 168.0,234.29 169.0,234.39 170.0,234.44 171.0,234.47 172.0,234.49 173.0,234.49 174.0,234.50 175.0,234.50 176.0,234.50 177.0,234.50 178.0,234.50 179.0,234.50 180.0,234.50 181.0,234.50 182.0,234.50 183.0,234.50 184.0,234.50 185.0,234.50 186.0,234.50 187.0,234.50 188.0,234.50 189.0,234.50 190.0,234.50 191.0,234.50 192.0,234.50 193.0,234.50 194.0,234.50 195.0,234.50 196.0,234.50 197.0,234.50 198.0,234.50 199.0,234.50 200.0,234.50 201.0,234.50 202.0,234.50 203.0,234.50 204.0,234.50 205.0,234.50 L205.0,234.5 Z" fill="#3b4cc0" fill-opacity="0.25" stroke="none"/>
<path d="M100.0,234.5 L100.0,234.50 101.0,234.50 102.0,234.50 103.0,234.50 104.0,234.50 105.0,234.50 106.0,234.50 107.0,234.50 108.0,234.50 109.0,234.50 110.0,234.50 111.0,234.50 112.0,234.49 113.0,234.48 114.0,234.47 115.0,234.44 116.0,234.38 117.0,234.29 118.0,234.15 119.0,233.94 120.0,233.64 121.0,233.25 122.0,232.76 123.0,232.18 124.0,231.53 125.0,230.85 126.0,230.18 127.0,229.54 128.0,228.96 129.0,228.42 130.0,227.90 131.0,227.37 132.0,226.79 133.0,226.14 134.0,225.43 135.0,224.66 136.0,223.86 137.0,223.04 138.0,222.16 139.0,221.19 140.0,220.07 141.0,218.78 142.0,217.35 143.0,215.85 144.0,214.45 145.0,213.34 146.0,212.67 147.0,212.57 148.0,213.03 149.0,214.00 150.0,215.30 151.0,216.78 152.0,218.29 153.0,219.73 154.0,221.08 155.0,222.36 156.0,223.63 157.0,224.93 158.0,226.26 159.0,227.62 160.0,228.95 161.0,230.20 162.0,231.30 163.0,232.22 164.0,232.94 165.0,233.49 166.0,233.87 167.0,234.13 168.0,234.29 169.0,234.39 170.0,234.44 171.0,234.47 172.0,234.49 173.0,234.49 174.0,234.50 175.0,234.50 176.0,234.50 177.0,234.50 178.0,234.50 179.0,234.50 180.0,234.50 181.0,234.50 182.0,234.50 183.0,234.50 184.0,234.50 185.0,234.50 186.0,234.50 187.0,234.50 188.0,234.50 189.0,234.50 190.0,234.50 191.0,234.50 192.0,234.50 193.0,234.50 194.0,234.50 195.0,234.50 196.0,234.50 197.0,234.50 198.0,234.50 199.0,234.50 200.0,234.50 201.0,234.50 202.0,234.50 203.0,234.50 204.0,234.50 205.0,234.50 L205.0,234.5 Z" fill="none" stroke="#3b4cc0" stroke-width="1.1" stroke-linejoin="round"/>
<path d="M100.0,234.5 L100.0,234.50 101.0,234.50 102.0,234.50 103.0,234.50 104.0,234.50 105.0,234.50 106.0,234.50 107.0,234.50 108.0,234.50 109.0,234.50 110.0,234.50 111.0,234.50 112.0,234.50 113.0,234.50 114.0,234.50 115.0,234.50 116.0,234.50 117.0,234.50 118.0,234.50 119.0,234.50 120.0,234.50 121.0,234.50 122.0,234.50 123.0,234.50 124.0,234.50 125.0,234.50 126.0,234.50 127.0,234.50 128.0,234.50 129.0,234.50 130.0,234.50 131.0,234.50 132.0,234.50 133.0,234.49 134.0,234.47 135.0,234.42 136.0,234.32 137.0,234.10 138.0,233.71 139.0,233.05 140.0,232.03 141.0,230.59 142.0,228.78 143.0,226.74 144.0,224.71 145.0,222.99 146.0,221.80 147.0,221.24 148.0,221.18 149.0,221.36 150.0,221.50 151.0,221.40 152.0,221.10 153.0,220.80 154.0,220.83 155.0,221.43 156.0,222.70 157.0,224.52 158.0,226.64 159.0,228.75 160.0,230.60 161.0,232.05 162.0,233.07 163.0,233.73 164.0,234.12 165.0,234.32 166.0,234.42 167.0,234.47 168.0,234.49 169.0,234.50 170.0,234.50 171.0,234.50 172.0,234.50 173.0,234.50 174.0,234.50 175.0,234.50 176.0,234.50 177.0,234.50 178.0,234.50 179.0,234.50 180.0,234.50 181.0,234.50 182.0,234.50 183.0,234.50 184.0,234.50 185.0,234.50 186.0,234.50 187.0,234.50 188.0,234.50 189.0,234.50 190.0,234.50 191.0,234.50 192.0,234.50 193.0,234.50 194.0,234.50 195.0,234.50 196.0,234.50 197.0,234.50 198.0,234.50 199.0,234.50 200.0,234.50 201.0,234.50 202.0,234.50 203.0,234.50 204.0,234.50 205.0,234.50 L205.0,234.5 Z" fill="#3b4cc0" fill-opacity="0.25" stroke="none"/>
<path d="M100.0,234.5 L100.0,234.50 101.0,234.50 102.0,234.50 103.0,234.50 104.0,234.50 105.0,234.50 106.0,234.50 107.0,234.50 108.0,234.50 109.0,234.50 110.0,234.50 111.0,234.50 112.0,234.50 113.0,234.50 114.0,234.50 115.0,234.50 116.0,234.50 117.0,234.50 118.0,234.50 119.0,234.50 120.0,234.50 121.0,234.50 122.0,234.50 123.0,234.50 124.0,234.50 125.0,234.50 126.0,234.50 127.0,234.50 128.0,234.50 129.0,234.50 130.0,234.50 131.0,234.50 132.0,234.50 133.0,234.49 134.0,234.47 135.0,234.42 136.0,234.32 137.0,234.10 138.0,233.71 139.0,233.05 140.0,232.03 141.0,230.59 142.0,228.78 143.0,226.74 144.0,224.71 145.0,222.99 146.0,221.80 147.0,221.24 148.0,221.18 149.0,221.36 150.0,221.50 151.0,221.40 152.0,221.10 153.0,220.80 154.0,220.83 155.0,221.43 156.0,222.70 157.0,224.52 158.0,226.64 159.0,228.75 160.0,230.60 161.0,232.05 162.0,233.07 163.0,233.73 164.0,234.12 165.0,234.32 166.0,234.42 167.0,234.47 168.0,234.49 169.0,234.50 170.0,234.50 171.0,234.50 172.0,234.50 173.0,234.50 174.0,234.50 175.0,234.50 176.0,234.50 177.0,234.50 178.0,234.50 179.0,234.50 180.0,234.50 181.0,234.50 182.0,234.50 183.0,234.50 184.0,234.50 185.0,234.50 186.0,234.50 187.0,234.50 188.0,234.50 189.0,234.50 190.0,234.50 191.0,234.50 192.0,234.50 193.0,234.50 194.0,234.50 195.0,234.50 196.0,234.50 197.0,234.50 198.0,234.50 199.0,234.50 200.0,234.50 201.0,234.50 202.0,234.50 203.0,234.50 204.0,234.50 205.0,234.50 L205.0,234.5 Z" fill="none" stroke="#3b4cc0" stroke-width="1.1" stroke-linejoin="round"/>
<path d="M100.0,234.5 L100.0,234.50 101.0,234.50 102.0,234.50 103.0,234.50 104.0,234.50 105.0,234.50 106.0,234.50 107.0,234.50 108.0,234.50 109.0,234.50 110.0,234.50 111.0,234.50 112.0,234.50 113.0,234.50 114.0,234.50 115.0,234.50 116.0,234.50 117.0,234.50 118.0,234.50 119.0,234.50 120.0,234.50 121.0,234.50 122.0,234.50 123.0,234.50 124.0,234.50 125.0,234.50 126.0,234.50 127.0,234.50 128.0,234.50 129.0,234.50 130.0,234.49 131.0,234.49 132.0,234.48 133.0,234.45 134.0,234.41 135.0,234.34 136.0,234.22 137.0,234.05 138.0,233.80 139.0,233.46 140.0,233.02 141.0,232.51 142.0,231.93 143.0,231.32 144.0,230.72 145.0,230.16 146.0,229.65 147.0,229.19 148.0,228.75 149.0,228.29 150.0,227.78 151.0,227.23 152.0,226.66 153.0,226.13 154.0,225.71 155.0,225.47 156.0,225.47 157.0,225.69 158.0,226.09 159.0,226.61 160.0,227.18 161.0,227.73 162.0,228.24 163.0,228.72 164.0,229.18 165.0,229.66 166.0,230.19 167.0,230.77 168.0,231.38 169.0,231.98 170.0,232.56 171.0,233.07 172.0,233.49 173.0,233.82 174.0,234.07 175.0,234.24 176.0,234.35 177.0,234.42 178.0,234.46 179.0,234.48 180.0,234.49 181.0,234.50 182.0,234.50 183.0,234.50 184.0,234.50 185.0,234.50 186.0,234.50 187.0,234.50 188.0,234.50 189.0,234.50 190.0,234.50 191.0,234.50 192.0,234.50 193.0,234.50 194.0,234.50 195.0,234.50 196.0,234.50 197.0,234.50 198.0,234.50 199.0,234.50 200.0,234.50 201.0,234.50 202.0,234.50 203.0,234.50 204.0,234.50 205.0,234.50 L205.0,234.5 Z" fill="#3b4cc0" fill-opacity="0.25" stroke="none"/>
<path d="M100.0,234.5 L100.0,234.50 101.0,234.50 102.0,234.50 103.0,234.50 104.0,234.50 105.0,234.50 106.0,234.50 107.0,234.50 108.0,234.50 109.0,234.50 110.0,234.50 111.0,234.50 112.0,234.50 113.0,234.50 114.0,234.50 115.0,234.50 116.0,234.50 117.0,234.50 118.0,234.50 119.0,234.50 120.0,234.50 121.0,234.50 122.0,234.50 123.0,234.50 124.0,234.50 125.0,234.50 126.0,234.50 127.0,234.50 128.0,234.50 129.0,234.50 130.0,234.49 131.0,234.49 132.0,234.48 133.0,234.45 134.0,234.41 135.0,234.34 136.0,234.22 137.0,234.05 138.0,233.80 139.0,233.46 140.0,233.02 141.0,232.51 142.0,231.93 143.0,231.32 144.0,230.72 145.0,230.16 146.0,229.65 147.0,229.19 148.0,228.75 149.0,228.29 150.0,227.78 151.0,227.23 152.0,226.66 153.0,226.13 154.0,225.71 155.0,225.47 156.0,225.47 157.0,225.69 158.0,226.09 159.0,226.61 160.0,227.18 161.0,227.73 162.0,228.24 163.0,228.72 164.0,229.18 165.0,229.66 166.0,230.19 167.0,230.77 168.0,231.38 169.0,231.98 170.0,232.56 171.0,233.07 172.0,233.49 173.0,233.82 174.0,234.07 175.0,234.24 176.0,234.35 177.0,234.42 178.0,234.46 179.0,234.48 180.0,234.49 181.0,234.50 182.0,234.50 183.0,234.50 184.0,234.50 185.0,234.50 186.0,234.50 187.0,234.50 188.0,234.50 189.0,234.50 190.0,234.50 191.0,234.50 192.0,234.50 193.0,234.50 194.0,234.50 195.0,234.50 196.0,234.50 197.0,234.50 198.0,234.50 199.0,234.50 200.0,234.50 201.0,234.50 202.0,234.50 203.0,234.50 204.0,234.50 205.0,234.50 L205.0,234.5 Z" fill="none" stroke="#3b4cc0" stroke-width="1.1" stroke-linejoin="round"/>
<path d="M100.0,234.5 L100.0,234.50 101.0,234.50 102.0,234.50 103.0,234.50 104.0,234.50 105.0,234.50 106.0,234.50 107.0,234.50 108.0,234.50 109.0,234.50 110.0,234.50 111.0,234.50 112.0,234.50 113.0,234.50 114.0,234.50 115.0,234.50 116.0,234.50 117.0,234.50 118.0,234.50 119.0,234.50 120.0,234.50 121.0,234.50 122.0,234.50 123.0,234.50 124.0,234.50 125.0,234.50 126.0,234.50 127.0,234.50 128.0,234.50 129.0,234.50 130.0,234.50 131.0,234.50 132.0,234.50 133.0,234.49 134.0,234.49 135.0,234.48 136.0,234.47 137.0,234.44 138.0,234.41 139.0,234.35 140.0,234.27 141.0,234.15 142.0,233.98 143.0,233.74 144.0,233.44 145.0,233.05 146.0,232.57 147.0,232.00 148.0,231.33 149.0,230.58 150.0,229.77 151.0,228.92 152.0,228.05 153.0,227.19 154.0,226.36 155.0,225.60 156.0,224.91 157.0,224.31 158.0,223.81 159.0,223.43 160.0,223.18 161.0,223.06 162.0,223.09 163.0,223.29 164.0,223.65 165.0,224.17 166.0,224.86 167.0,225.67 168.0,226.59 169.0,227.57 170.0,228.57 171.0,229.54 172.0,230.46 173.0,231.29 174.0,232.02 175.0,232.63 176.0,233.13 177.0,233.52 178.0,233.82 179.0,234.04 180.0,234.20 181.0,234.31 182.0,234.38 183.0,234.43 184.0,234.46 185.0,234.48 186.0,234.49 187.0,234.49 188.0,234.50 189.0,234.50 190.0,234.50 191.0,234.50 192.0,234.50 193.0,234.50 194.0,234.50 195.0,234.50 196.0,234.50 197.0,234.50 198.0,234.50 199.0,234.50 200.0,234.50 201.0,234.50 202.0,234.50 203.0,234.50 204.0,234.50 205.0,234.50 L205.0,234.5 Z" fill="#3b4cc0" fill-opacity="0.25" stroke="none"/>
<path d="M100.0,234.5 L100.0,234.50 101.0,234.50 102.0,234.50 103.0,234.50 104.0,234.50 105.0,234.50 106.0,234.50 107.0,234.50 108.0,234.50 109.0,234.50 110.0,234.50 111.0,234.50 112.0,234.50 113.0,234.50 114.0,234.50 115.0,234.50 116.0,234.50 117.0,234.50 118.0,234.50 119.0,234.50 120.0,234.50 121.0,234.50 122.0,234.50 123.0,234.50 124.0,234.50 125.0,234.50 126.0,234.50 127.0,234.50 128.0,234.50 129.0,234.50 130.0,234.50 131.0,234.50 132.0,234.50 133.0,234.49 134.0,234.49 135.0,234.48 136.0,234.47 137.0,234.44 138.0,234.41 139.0,234.35 140.0,234.27 141.0,234.15 142.0,233.98 143.0,233.74 144.0,233.44 145.0,233.05 146.0,232.57 147.0,232.00 148.0,231.33 149.0,230.58 150.0,229.77 151.0,228.92 152.0,228.05 153.0,227.19 154.0,226.36 155.0,225.60 156.0,224.91 157.0,224.31 158.0,223.81 159.0,223.43 160.0,223.18 161.0,223.06 162.0,223.09 163.0,223.29 164.0,223.65 165.0,224.17 166.0,224.86 167.0,225.67 168.0,226.59 169.0,227.57 170.0,228.57 171.0,229.54 172.0,230.46 173.0,231.29 174.0,232.02 175.0,232.63 176.0,233.13 177.0,233.52 178.0,233.82 179.0,234.04 180.0,234.20 181.0,234.31 182.0,234.38 183.0,234.43 184.0,234.46 185.0,234.48 186.0,234.49 187.0,234.49 188.0,234.50 189.0,234.50 190.0,234.50 191.0,234.50 192.0,234.50 193.0,234.50 194.0,234.50 195.0,234.50 196.0,234.50 197.0,234.50 198.0,234.50 199.0,234.50 200.0,234.50 201.0,234.50 202.0,234.50 203.0,234.50 204.0,234.50 205.0,234.50 L205.0,234.5 Z" fill="none" stroke="#3b4cc0" stroke-width="1.1" stroke-linejoin="round"/>
<path d="M100.0,234.5 L100.0,234.50 101.0,234.50 102.0,234.50 103.0,234.50 104.0,234.50 105.0,234.50 106.0,234.50 107.0,234.50 108.0,234.50 109.0,234.50 110.0,234.50 111.0,234.50 112.0,234.50 113.0,234.50 114.0,234.50 115.0,234.50 116.0,234.50 117.0,234.50 118.0,234.50 119.0,234.50 120.0,234.50 121.0,234.50 122.0,234.50 123.0,234.50 124.0,234.50 125.0,234.50 126.0,234.49 127.0,234.49 128.0,234.48 129.0,234.47 130.0,234.46 131.0,234.43 132.0,234.39 133.0,234.34 134.0,234.26 135.0,234.15 136.0,234.01 137.0,233.82 138.0,233.59 139.0,233.30 140.0,232.97 141.0,232.58 142.0,232.15 143.0,231.69 144.0,231.21 145.0,230.75 146.0,230.31 147.0,229.91 148.0,229.59 149.0,229.35 150.0,229.19 151.0,229.11 152.0,229.09 153.0,229.13 154.0,229.18 155.0,229.23 156.0,229.24 157.0,229.21 158.0,229.11 159.0,228.94 160.0,228.72 161.0,228.47 162.0,228.21 163.0,227.98 164.0,227.81 165.0,227.73 166.0,227.76 167.0,227.91 168.0,228.19 169.0,228.59 170.0,229.08 171.0,229.64 172.0,230.24 173.0,230.85 174.0,231.45 175.0,232.00 176.0,232.51 177.0,232.95 178.0,233.32 179.0,233.62 180.0,233.86 181.0,234.05 182.0,234.19 183.0,234.29 184.0,234.36 185.0,234.41 186.0,234.44 187.0,234.46 188.0,234.48 189.0,234.49 190.0,234.49 191.0,234.50 192.0,234.50 193.0,234.50 194.0,234.50 195.0,234.50 196.0,234.50 197.0,234.50 198.0,234.50 199.0,234.50 200.0,234.50 201.0,234.50 202.0,234.50 203.0,234.50 204.0,234.50 205.0,234.50 L205.0,234.5 Z" fill="#3b4cc0" fill-opacity="0.25" stroke="none"/>
<path d="M100.0,234.5 L100.0,234.50 101.0,234.50 102.0,234.50 103.0,234.50 104.0,234.50 105.0,234.50 106.0,234.50 107.0,234.50 108.0,234.50 109.0,234.50 110.0,234.50 111.0,234.50 112.0,234.50 113.0,234.50 114.0,234.50 115.0,234.50 116.0,234.50 117.0,234.50 118.0,234.50 119.0,234.50 120.0,234.50 121.0,234.50 122.0,234.50 123.0,234.50 124.0,234.50 125.0,234.50 126.0,234.49 127.0,234.49 128.0,234.48 129.0,234.47 130.0,234.46 131.0,234.43 132.0,234.39 133.0,234.34 134.0,234.26 135.0,234.15 136.0,234.01 137.0,233.82 138.0,233.59 139.0,233.30 140.0,232.97 141.0,232.58 142.0,232.15 143.0,231.69 144.0,231.21 145.0,230.75 146.0,230.31 147.0,229.91 148.0,229.59 149.0,229.35 150.0,229.19 151.0,229.11 152.0,229.09 153.0,229.13 154.0,229.18 155.0,229.23 156.0,229.24 157.0,229.21 158.0,229.11 159.0,228.94 160.0,228.72 161.0,228.47 162.0,228.21 163.0,227.98 164.0,227.81 165.0,227.73 166.0,227.76 167.0,227.91 168.0,228.19 169.0,228.59 170.0,229.08 171.0,229.64 172.0,230.24 173.0,230.85 174.0,231.45 175.0,232.00 176.0,232.51 177.0,232.95 178.0,233.32 179.0,233.62 180.0,233.86 181.0,234.05 182.0,234.19 183.0,234.29 184.0,234.36 185.0,234.41 186.0,234.44 187.0,234.46 188.0,234.48 189.0,234.49 190.0,234.49 191.0,234.50 192.0,234.50 193.0,234.50 194.0,234.50 195.0,234.50 196.0,234.50 197.0,234.50 198.0,234.50 199.0,234.50 200.0,234.50 201.0,234.50 202.0,234.50 203.0,234.50 204.0,234.50 205.0,234.50 L205.0,234.5 Z" fill="none" stroke="#3b4cc0" stroke-width="1.1" stroke-linejoin="round"/>
<path d="M100.0,234.5 L100.0,234.50 101.0,234.50 102.0,234.50 103.0,234.50 104.0,234.50 105.0,234.50 106.0,234.50 107.0,234.50 108.0,234.50 109.0,234.50 110.0,234.50 111.0,234.50 112.0,234.50 113.0,234.50 114.0,234.50 115.0,234.50 116.0,234.49 117.0,234.49 118.0,234.48 119.0,234.46 120.0,234.44 121.0,234.40 122.0,234.35 123.0,234.28 124.0,234.17 125.0,234.03 126.0,233.84 127.0,233.61 128.0,233.33 129.0,233.00 130.0,232.63 131.0,232.23 132.0,231.83 133.0,231.44 134.0,231.08 135.0,230.79 136.0,230.58 137.0,230.46 138.0,230.43 139.0,230.50 140.0,230.64 141.0,230.83 142.0,231.04 143.0,231.22 144.0,231.35 145.0,231.38 146.0,231.31 147.0,231.12 148.0,230.80 149.0,230.37 150.0,229.85 151.0,229.27 152.0,228.66 153.0,228.07 154.0,227.52 155.0,227.04 156.0,226.66 157.0,226.38 158.0,226.21 159.0,226.15 160.0,226.19 161.0,226.34 162.0,226.58 163.0,226.91 164.0,227.32 165.0,227.80 166.0,228.36 167.0,228.96 168.0,229.60 169.0,230.25 170.0,230.89 171.0,231.51 172.0,232.07 173.0,232.58 174.0,233.02 175.0,233.39 176.0,233.69 177.0,233.92 178.0,234.10 179.0,234.23 180.0,234.32 181.0,234.39 182.0,234.43 183.0,234.46 184.0,234.47 185.0,234.49 186.0,234.49 187.0,234.50 188.0,234.50 189.0,234.50 190.0,234.50 191.0,234.50 192.0,234.50 193.0,234.50 194.0,234.50 195.0,234.50 196.0,234.50 197.0,234.50 198.0,234.50 199.0,234.50 200.0,234.50 201.0,234.50 202.0,234.50 203.0,234.50 204.0,234.50 205.0,234.50 L205.0,234.5 Z" fill="#3b4cc0" fill-opacity="0.25" stroke="none"/>
<path d="M100.0,234.5 L100.0,234.50 101.0,234.50 102.0,234.50 103.0,234.50 104.0,234.50 105.0,234.50 106.0,234.50 107.0,234.50 108.0,234.50 109.0,234.50 110.0,234.50 111.0,234.50 112.0,234.50 113.0,234.50 114.0,234.50 115.0,234.50 116.0,234.49 117.0,234.49 118.0,234.48 119.0,234.46 120.0,234.44 121.0,234.40 122.0,234.35 123.0,234.28 124.0,234.17 125.0,234.03 126.0,233.84 127.0,233.61 128.0,233.33 129.0,233.00 130.0,232.63 131.0,232.23 132.0,231.83 133.0,231.44 134.0,231.08 135.0,230.79 136.0,230.58 137.0,230.46 138.0,230.43 139.0,230.50 140.0,230.64 141.0,230.83 142.0,231.04 143.0,231.22 144.0,231.35 145.0,231.38 146.0,231.31 147.0,231.12 148.0,230.80 149.0,230.37 150.0,229.85 151.0,229.27 152.0,228.66 153.0,228.07 154.0,227.52 155.0,227.04 156.0,226.66 157.0,226.38 158.0,226.21 159.0,226.15 160.0,226.19 161.0,226.34 162.0,226.58 163.0,226.91 164.0,227.32 165.0,227.80 166.0,228.36 167.0,228.96 168.0,229.60 169.0,230.25 170.0,230.89 171.0,231.51 172.0,232.07 173.0,232.58 174.0,233.02 175.0,233.39 176.0,233.69 177.0,233.92 178.0,234.10 179.0,234.23 180.0,234.32 181.0,234.39 182.0,234.43 183.0,234.46 184.0,234.47 185.0,234.49 186.0,234.49 187.0,234.50 188.0,234.50 189.0,234.50 190.0,234.50 191.0,234.50 192.0,234.50 193.0,234.50 194.0,234.50 195.0,234.50 196.0,234.50 197.0,234.50 198.0,234.50 199.0,234.50 200.0,234.50 201.0,234.50 202.0,234.50 203.0,234.50 204.0,234.50 205.0,234.50 L205.0,234.5 Z" fill="none" stroke="#3b4cc0" stroke-width="1.1" stroke-linejoin="round"/>
<path d="M100.0,234.5 L100.0,234.50 101.0,234.50 102.0,234.50 103.0,234.50 104.0,234.50 105.0,234.50 106.0,234.50 107.0,234.50 108.0,234.50 109.0,234.50 110.0,234.50 111.0,234.50 112.0,234.50 113.0,234.50 114.0,234.50 115.0,234.50 116.0,234.50 117.0,234.50 118.0,234.50 119.0,234.50 120.0,234.50 121.0,234.49 122.0,234.49 123.0,234.48 124.0,234.46 125.0,234.44 126.0,234.41 127.0,234.37 128.0,234.31 129.0,234.23 130.0,234.11 131.0,233.97 132.0,233.78 133.0,233.54 134.0,233.25 135.0,232.91 136.0,232.51 137.0,232.06 138.0,231.58 139.0,231.06 140.0,230.54 141.0,230.03 142.0,229.55 143.0,229.12 144.0,228.77 145.0,228.52 146.0,228.36 147.0,228.30 148.0,228.34 149.0,228.47 150.0,228.66 151.0,228.89 152.0,229.13 153.0,229.36 154.0,229.55 155.0,229.69 156.0,229.77 157.0,229.78 158.0,229.73 159.0,229.64 160.0,229.52 161.0,229.41 162.0,229.31 163.0,229.25 164.0,229.26 165.0,229.34 166.0,229.49 167.0,229.73 168.0,230.04 169.0,230.40 170.0,230.81 171.0,231.24 172.0,231.68 173.0,232.10 174.0,232.51 175.0,232.88 176.0,233.20 177.0,233.48 178.0,233.72 179.0,233.91 180.0,234.07 181.0,234.19 182.0,234.28 183.0,234.35 184.0,234.40 185.0,234.43 186.0,234.46 187.0,234.47 188.0,234.48 189.0,234.49 190.0,234.49 191.0,234.50 192.0,234.50 193.0,234.50 194.0,234.50 195.0,234.50 196.0,234.50 197.0,234.50 198.0,234.50 199.0,234.50 200.0,234.50 201.0,234.50 202.0,234.50 203.0,234.50 204.0,234.50 205.0,234.50 L205.0,234.5 Z" fill="#3b4cc0" fill-opacity="0.25" stroke="none"/>
<path d="M100.0,234.5 L100.0,234.50 101.0,234.50 102.0,234.50 103.0,234.50 104.0,234.50 105.0,234.50 106.0,234.50 107.0,234.50 108.0,234.50 109.0,234.50 110.0,234.50 111.0,234.50 112.0,234.50 113.0,234.50 114.0,234.50 115.0,234.50 116.0,234.50 117.0,234.50 118.0,234.50 119.0,234.50 120.0,234.50 121.0,234.49 122.0,234.49 123.0,234.48 124.0,234.46 125.0,234.44 126.0,234.41 127.0,234.37 128.0,234.31 129.0,234.23 130.0,234.11 131.0,233.97 132.0,233.78 133.0,233.54 134.0,233.25 135.0,232.91 136.0,232.51 137.0,232.06 138.0,231.58 139.0,231.06 140.0,230.54 141.0,230.03 142.0,229.55 143.0,229.12 144.0,228.77 145.0,228.52 146.0,228.36 147.0,228.30 148.0,228.34 149.0,228.47 150.0,228.66 151.0,228.89 152.0,229.13 153.0,229.36 154.0,229.55 155.0,229.69 156.0,229.77 157.0,229.78 158.0,229.73 159.0,229.64 160.0,229.52 161.0,229.41 162.0,229.31 163.0,229.25 164.0,229.26 165.0,229.34 166.0,229.49 167.0,229.73 168.0,230.04 169.0,230.40 170.0,230.81 171.0,231.24 172.0,231.68 173.0,232.10 174.0,232.51 175.0,232.88 176.0,233.20 177.0,233.48 178.0,233.72 179.0,233.91 180.0,234.07 181.0,234.19 182.0,234.28 183.0,234.35 184.0,234.40 185.0,234.43 186.0,234.46 187.0,234.47 188.0,234.48 189.0,234.49 190.0,234.49 191.0,234.50 192.0,234.50 193.0,234.50 194.0,234.50 195.0,234.50 196.0,234.50 197.0,234.50 198.0,234.50 199.0,234.50 200.0,234.50 201.0,234.50 202.0,234.50 203.0,234.50 204.0,234.50 205.0,234.50 L205.0,234.5 Z" fill="none" stroke="#3b4cc0" stroke-width="1.1" stroke-linejoin="round"/>
<path d="M100.0,234.5 L100.0,234.50 101.0,234.50 102.0,234.50 103.0,234.50 104.0,234.49 105.0,234.49 106.0,234.48 107.0,234.47 108.0,234.46 109.0,234.44 110.0,234.41 111.0,234.36 112.0,234.31 113.0,234.23 114.0,234.14 115.0,234.02 116.0,233.87 117.0,233.70 118.0,233.50 119.0,233.28 120.0,233.04 121.0,232.78 122.0,232.51 123.0,232.26 124.0,232.01 125.0,231.79 126.0,231.61 127.0,231.46 128.0,231.36 129.0,231.31 130.0,231.29 131.0,231.30 132.0,231.33 133.0,231.36 134.0,231.38 135.0,231.37 136.0,231.33 137.0,231.24 138.0,231.11 139.0,230.92 140.0,230.70 141.0,230.45 142.0,230.19 143.0,229.92 144.0,229.68 145.0,229.46 146.0,229.27 147.0,229.13 148.0,229.02 149.0,228.95 150.0,228.91 151.0,228.89 152.0,228.88 153.0,228.88 154.0,228.88 155.0,228.90 156.0,228.92 157.0,228.96 158.0,229.04 159.0,229.15 160.0,229.32 161.0,229.53 162.0,229.80 163.0,230.12 164.0,230.49 165.0,230.88 166.0,231.29 167.0,231.71 168.0,232.12 169.0,232.51 170.0,232.86 171.0,233.18 172.0,233.46 173.0,233.69 174.0,233.89 175.0,234.05 176.0,234.17 177.0,234.26 178.0,234.33 179.0,234.39 180.0,234.42 181.0,234.45 182.0,234.47 183.0,234.48 184.0,234.49 185.0,234.49 186.0,234.50 187.0,234.50 188.0,234.50 189.0,234.50 190.0,234.50 191.0,234.50 192.0,234.50 193.0,234.50 194.0,234.50 195.0,234.50 196.0,234.50 197.0,234.50 198.0,234.50 199.0,234.50 200.0,234.50 201.0,234.50 202.0,234.50 203.0,234.50 204.0,234.50 205.0,234.50 L205.0,234.5 Z" fill="#3b4cc0" fill-opacity="0.25" stroke="none"/>
<path d="M100.0,234.5 L100.0,234.50 101.0,234.50 102.0,234.50 103.0,234.50 104.0,234.49 105.0,234.49 106.0,234.48 107.0,234.47 108.0,234.46 109.0,234.44 110.0,234.41 111.0,234.36 112.0,234.31 113.0,234.23 114.0,234.14 115.0,234.02 116.0,233.87 117.0,233.70 118.0,233.50 119.0,233.28 120.0,233.04 121.0,232.78 122.0,232.51 123.0,232.26 124.0,232.01 125.0,231.79 126.0,231.61 127.0,231.46 128.0,231.36 129.0,231.31 130.0,231.29 131.0,231.30 132.0,231.33 133.0,231.36 134.0,231.38 135.0,231.37 136.0,231.33 137.0,231.24 138.0,231.11 139.0,230.92 140.0,230.70 141.0,230.45 142.0,230.19 143.0,229.92 144.0,229.68 145.0,229.46 146.0,229.27 147.0,229.13 148.0,229.02 149.0,228.95 150.0,228.91 151.0,228.89 152.0,228.88 153.0,228.88 154.0,228.88 155.0,228.90 156.0,228.92 157.0,228.96 158.0,229.04 159.0,229.15 160.0,229.32 161.0,229.53 162.0,229.80 163.0,230.12 164.0,230.49 165.0,230.88 166.0,231.29 167.0,231.71 168.0,232.12 169.0,232.51 170.0,232.86 171.0,233.18 172.0,233.46 173.0,233.69 174.0,233.89 175.0,234.05 176.0,234.17 177.0,234.26 178.0,234.33 179.0,234.39 180.0,234.42 181.0,234.45 182.0,234.47 183.0,234.48 184.0,234.49 185.0,234.49 186.0,234.50 187.0,234.50 188.0,234.50 189.0,234.50 190.0,234.50 191.0,234.50 192.0,234.50 193.0,234.50 194.0,234.50 195.0,234.50 196.0,234.50 197.0,234.50 198.0,234.50 199.0,234.50 200.0,234.50 201.0,234.50 202.0,234.50 203.0,234.50 204.0,234.50 205.0,234.50 L205.0,234.5 Z" fill="none" stroke="#3b4cc0" stroke-width="1.1" stroke-linejoin="round"/>
<path d="M100.0,234.5 L100.0,234.50 101.0,234.50 102.0,234.50 103.0,234.50 104.0,234.50 105.0,234.50 106.0,234.50 107.0,234.50 108.0,234.50 109.0,234.50 110.0,234.50 111.0,234.50 112.0,234.50 113.0,234.50 114.0,234.50 115.0,234.50 116.0,234.50 117.0,234.50 118.0,234.50 119.0,234.50 120.0,234.50 121.0,234.50 122.0,234.50 123.0,234.50 124.0,234.50 125.0,234.50 126.0,234.50 127.0,234.49 128.0,234.49 129.0,234.49 130.0,234.48 131.0,234.47 132.0,234.46 133.0,234.44 134.0,234.42 135.0,234.38 136.0,234.34 137.0,234.29 138.0,234.22 139.0,234.14 140.0,234.03 141.0,233.91 142.0,233.76 143.0,233.58 144.0,233.37 145.0,233.13 146.0,232.86 147.0,232.56 148.0,232.24 149.0,231.89 150.0,231.53 151.0,231.16 152.0,230.79 153.0,230.44 154.0,230.10 155.0,229.79 156.0,229.52 157.0,229.30 158.0,229.13 159.0,229.03 160.0,229.00 161.0,229.03 162.0,229.13 163.0,229.30 164.0,229.52 165.0,229.79 166.0,230.10 167.0,230.44 168.0,230.79 169.0,231.16 170.0,231.53 171.0,231.89 172.0,232.24 173.0,232.56 174.0,232.86 175.0,233.13 176.0,233.37 177.0,233.58 178.0,233.76 179.0,233.91 180.0,234.03 181.0,234.14 182.0,234.22 183.0,234.29 184.0,234.34 185.0,234.38 186.0,234.42 187.0,234.44 188.0,234.46 189.0,234.47 190.0,234.48 191.0,234.49 192.0,234.49 193.0,234.49 194.0,234.50 195.0,234.50 196.0,234.50 197.0,234.50 198.0,234.50 199.0,234.50 200.0,234.50 201.0,234.50 202.0,234.50 203.0,234.50 204.0,234.50 205.0,234.50 L205.0,234.5 Z" fill="#3b4cc0" fill-opacity="0.25" stroke="none"/>
<path d="M100.0,234.5 L100.0,234.50 101.0,234.50 102.0,234.50 103.0,234.50 104.0,234.50 105.0,234.50 106.0,234.50 107.0,234.50 108.0,234.50 109.0,234.50 110.0,234.50 111.0,234.50 112.0,234.50 113.0,234.50 114.0,234.50 115.0,234.50 116.0,234.50 117.0,234.50 118.0,234.50 119.0,234.50 120.0,234.50 121.0,234.50 122.0,234.50 123.0,234.50 124.0,234.50 125.0,234.50 126.0,234.50 127.0,234.49 128.0,234.49 129.0,234.49 130.0,234.48 131.0,234.47 132.0,234.46 133.0,234.44 134.0,234.42 135.0,234.38 136.0,234.34 137.0,234.29 138.0,234.22 139.0,234.14 140.0,234.03 141.0,233.91 142.0,233.76 143.0,233.58 144.0,233.37 145.0,233.13 146.0,232.86 147.0,232.56 148.0,232.24 149.0,231.89 150.0,231.53 151.0,231.16 152.0,230.79 153.0,230.44 154.0,230.10 155.0,229.79 156.0,229.52 157.0,229.30 158.0,229.13 159.0,229.03 160.0,229.00 161.0,229.03 162.0,229.13 163.0,229.30 164.0,229.52 165.0,229.79 166.0,230.10 167.0,230.44 168.0,230.79 169.0,231.16 170.0,231.53 171.0,231.89 172.0,232.24 173.0,232.56 174.0,232.86 175.0,233.13 176.0,233.37 177.0,233.58 178.0,233.76 179.0,233.91 180.0,234.03 181.0,234.14 182.0,234.22 183.0,234.29 184.0,234.34 185.0,234.38 186.0,234.42 187.0,234.44 188.0,234.46 189.0,234.47 190.0,234.48 191.0,234.49 192.0,234.49 193.0,234.49 194.0,234.50 195.0,234.50 196.0,234.50 197.0,234.50 198.0,234.50 199.0,234.50 200.0,234.50 201.0,234.50 202.0,234.50 203.0,234.50 204.0,234.50 205.0,234.50 L205.0,234.5 Z" fill="none" stroke="#3b4cc0" stroke-width="1.1" stroke-linejoin="round"/>
<path d="M100.0,234.5 L100.0,234.50 101.0,234.50 102.0,234.50 103.0,234.50 104.0,234.50 105.0,234.50 106.0,234.50 107.0,234.50 108.0,234.49 109.0,234.49 110.0,234.49 111.0,234.48 112.0,234.47 113.0,234.46 114.0,234.45 115.0,234.43 116.0,234.40 117.0,234.37 118.0,234.32 119.0,234.27 120.0,234.20 121.0,234.12 122.0,234.02 123.0,233.91 124.0,233.78 125.0,233.62 126.0,233.45 127.0,233.25 128.0,233.04 129.0,232.82 130.0,232.58 131.0,232.33 132.0,232.07 133.0,231.82 134.0,231.57 135.0,231.33 136.0,231.10 137.0,230.89 138.0,230.70 139.0,230.54 140.0,230.39 141.0,230.27 142.0,230.16 143.0,230.07 144.0,229.99 145.0,229.92 146.0,229.85 147.0,229.78 148.0,229.71 149.0,229.65 150.0,229.58 151.0,229.52 152.0,229.46 153.0,229.41 154.0,229.38 155.0,229.37 156.0,229.39 157.0,229.44 158.0,229.53 159.0,229.65 160.0,229.81 161.0,230.01 162.0,230.25 163.0,230.51 164.0,230.80 165.0,231.10 166.0,231.41 167.0,231.73 168.0,232.04 169.0,232.35 170.0,232.64 171.0,232.91 172.0,233.15 173.0,233.37 174.0,233.57 175.0,233.74 176.0,233.89 177.0,234.01 178.0,234.12 179.0,234.20 180.0,234.27 181.0,234.33 182.0,234.37 183.0,234.40 184.0,234.43 185.0,234.45 186.0,234.46 187.0,234.47 188.0,234.48 189.0,234.49 190.0,234.49 191.0,234.49 192.0,234.50 193.0,234.50 194.0,234.50 195.0,234.50 196.0,234.50 197.0,234.50 198.0,234.50 199.0,234.50 200.0,234.50 201.0,234.50 202.0,234.50 203.0,234.50 204.0,234.50 205.0,234.50 L205.0,234.5 Z" fill="#3b4cc0" fill-opacity="0.25" stroke="none"/>
<path d="M100.0,234.5 L100.0,234.50 101.0,234.50 102.0,234.50 103.0,234.50 104.0,234.50 105.0,234.50 106.0,234.50 107.0,234.50 108.0,234.49 109.0,234.49 110.0,234.49 111.0,234.48 112.0,234.47 113.0,234.46 114.0,234.45 115.0,234.43 116.0,234.40 117.0,234.37 118.0,234.32 119.0,234.27 120.0,234.20 121.0,234.12 122.0,234.02 123.0,233.91 124.0,233.78 125.0,233.62 126.0,233.45 127.0,233.25 128.0,233.04 129.0,232.82 130.0,232.58 131.0,232.33 132.0,232.07 133.0,231.82 134.0,231.57 135.0,231.33 136.0,231.10 137.0,230.89 138.0,230.70 139.0,230.54 140.0,230.39 141.0,230.27 142.0,230.16 143.0,230.07 144.0,229.99 145.0,229.92 146.0,229.85 147.0,229.78 148.0,229.71 149.0,229.65 150.0,229.58 151.0,229.52 152.0,229.46 153.0,229.41 154.0,229.38 155.0,229.37 156.0,229.39 157.0,229.44 158.0,229.53 159.0,229.65 160.0,229.81 161.0,230.01 162.0,230.25 163.0,230.51 164.0,230.80 165.0,231.10 166.0,231.41 167.0,231.73 168.0,232.04 169.0,232.35 170.0,232.64 171.0,232.91 172.0,233.15 173.0,233.37 174.0,233.57 175.0,233.74 176.0,233.89 177.0,234.01 178.0,234.12 179.0,234.20 180.0,234.27 181.0,234.33 182.0,234.37 183.0,234.40 184.0,234.43 185.0,234.45 186.0,234.46 187.0,234.47 188.0,234.48 189.0,234.49 190.0,234.49 191.0,234.49 192.0,234.50 193.0,234.50 194.0,234.50 195.0,234.50 196.0,234.50 197.0,234.50 198.0,234.50 199.0,234.50 200.0,234.50 201.0,234.50 202.0,234.50 203.0,234.50 204.0,234.50 205.0,234.50 L205.0,234.5 Z" fill="none" stroke="#3b4cc0" stroke-width="1.1" stroke-linejoin="round"/>
</g>
<g clip-path="url(#c1)">
<path d="M262.0,414.5 L262.0,414.50 263.0,414.50 264.0,414.50 265.0,414.50 266.0,414.50 267.0,414.50 268.0,414.50 269.0,414.50 270.0,414.50 271.0,414.50 272.0,414.50 273.0,414.50 274.0,414.50 275.0,414.49 276.0,414.49 277.0,414.48 278.0,414.46 279.0,414.44 280.0,414.41 281.0,414.35 282.0,414.28 283.0,414.17 284.0,414.01 285.0,413.79 286.0,413.49 287.0,413.09 288.0,412.56 289.0,411.87 290.0,411.00 291.0,409.93 292.0,408.61 293.0,407.04 294.0,405.19 295.0,403.05 296.0,400.62 297.0,397.92 298.0,394.94 299.0,391.72 300.0,388.28 301.0,384.66 302.0,380.90 303.0,377.05 304.0,373.14 305.0,369.24 306.0,365.40 307.0,361.67 308.0,358.14 309.0,354.86 310.0,351.93 311.0,349.42 312.0,347.40 313.0,345.95 314.0,345.13 315.0,344.96 316.0,345.47 317.0,346.65 318.0,348.45 319.0,350.84 320.0,353.73 321.0,357.03 322.0,360.67 323.0,364.53 324.0,368.54 325.0,372.60 326.0,376.64 327.0,380.58 328.0,384.37 329.0,387.95 330.0,391.27 331.0,394.31 332.0,397.01 333.0,399.35 334.0,401.30 335.0,402.85 336.0,403.98 337.0,404.69 338.0,404.99 339.0,404.89 340.0,404.43 341.0,403.63 342.0,402.57 343.0,401.30 344.0,399.89 345.0,398.44 346.0,397.03 347.0,395.75 348.0,394.66 349.0,393.85 350.0,393.37 351.0,393.24 352.0,393.49 353.0,394.10 354.0,395.04 355.0,396.27 356.0,397.72 357.0,399.34 358.0,401.04 359.0,402.77 360.0,404.45 361.0,406.05 362.0,407.52 363.0,408.84 364.0,409.99 365.0,410.97 366.0,411.79 367.0,412.46 368.0,412.99 369.0,413.40 370.0,413.71 371.0,413.95 372.0,414.12 373.0,414.24 374.0,414.33 375.0,414.39 376.0,414.43 377.0,414.45 378.0,414.47 379.0,414.48 380.0,414.49 381.0,414.49 382.0,414.50 383.0,414.50 384.0,414.50 385.0,414.50 386.0,414.50 387.0,414.50 388.0,414.50 389.0,414.50 390.0,414.50 391.0,414.50 392.0,414.50 393.0,414.50 394.0,414.50 395.0,414.50 396.0,414.50 397.0,414.50 398.0,414.50 399.0,414.50 400.0,414.50 L400.0,414.5 Z" fill="#b40426" fill-opacity="0.25" stroke="none"/>
<path d="M262.0,414.5 L262.0,414.50 263.0,414.50 264.0,414.50 265.0,414.50 266.0,414.50 267.0,414.50 268.0,414.50 269.0,414.50 270.0,414.50 271.0,414.50 272.0,414.50 273.0,414.50 274.0,414.50 275.0,414.49 276.0,414.49 277.0,414.48 278.0,414.46 279.0,414.44 280.0,414.41 281.0,414.35 282.0,414.28 283.0,414.17 284.0,414.01 285.0,413.79 286.0,413.49 287.0,413.09 288.0,412.56 289.0,411.87 290.0,411.00 291.0,409.93 292.0,408.61 293.0,407.04 294.0,405.19 295.0,403.05 296.0,400.62 297.0,397.92 298.0,394.94 299.0,391.72 300.0,388.28 301.0,384.66 302.0,380.90 303.0,377.05 304.0,373.14 305.0,369.24 306.0,365.40 307.0,361.67 308.0,358.14 309.0,354.86 310.0,351.93 311.0,349.42 312.0,347.40 313.0,345.95 314.0,345.13 315.0,344.96 316.0,345.47 317.0,346.65 318.0,348.45 319.0,350.84 320.0,353.73 321.0,357.03 322.0,360.67 323.0,364.53 324.0,368.54 325.0,372.60 326.0,376.64 327.0,380.58 328.0,384.37 329.0,387.95 330.0,391.27 331.0,394.31 332.0,397.01 333.0,399.35 334.0,401.30 335.0,402.85 336.0,403.98 337.0,404.69 338.0,404.99 339.0,404.89 340.0,404.43 341.0,403.63 342.0,402.57 343.0,401.30 344.0,399.89 345.0,398.44 346.0,397.03 347.0,395.75 348.0,394.66 349.0,393.85 350.0,393.37 351.0,393.24 352.0,393.49 353.0,394.10 354.0,395.04 355.0,396.27 356.0,397.72 357.0,399.34 358.0,401.04 359.0,402.77 360.0,404.45 361.0,406.05 362.0,407.52 363.0,408.84 364.0,409.99 365.0,410.97 366.0,411.79 367.0,412.46 368.0,412.99 369.0,413.40 370.0,413.71 371.0,413.95 372.0,414.12 373.0,414.24 374.0,414.33 375.0,414.39 376.0,414.43 377.0,414.45 378.0,414.47 379.0,414.48 380.0,414.49 381.0,414.49 382.0,414.50 383.0,414.50 384.0,414.50 385.0,414.50 386.0,414.50 387.0,414.50 388.0,414.50 389.0,414.50 390.0,414.50 391.0,414.50 392.0,414.50 393.0,414.50 394.0,414.50 395.0,414.50 396.0,414.50 397.0,414.50 398.0,414.50 399.0,414.50 400.0,414.50 L400.0,414.5 Z" fill="none" stroke="#b40426" stroke-width="1.3" stroke-linejoin="round"/>
<path d="M248.3,414.5 L248.3,414.40 249.3,414.39 250.3,414.38 251.3,414.37 252.3,414.36 253.3,414.35 254.3,414.33 255.3,414.32 256.3,414.30 257.3,414.29 258.3,414.27 259.3,414.25 260.3,414.23 261.3,414.21 262.3,414.19 263.3,414.17 264.3,414.14 265.3,414.12 266.3,414.09 267.3,414.06 268.3,414.03 269.3,414.00 270.3,413.96 271.3,413.93 272.3,413.89 273.3,413.85 274.3,413.81 275.3,413.77 276.3,413.72 277.3,413.68 278.3,413.63 279.3,413.58 280.3,413.53 281.3,413.47 282.3,413.42 283.3,413.36 284.3,413.30 285.3,413.24 286.3,413.18 287.3,413.12 288.3,413.05 289.3,412.98 290.3,412.92 291.3,412.85 292.3,412.78 293.3,412.71 294.3,412.63 295.3,412.56 296.3,412.48 297.3,412.41 298.3,412.33 299.3,412.26 300.3,412.18 301.3,412.11 302.3,412.03 303.3,411.95 304.3,411.88 305.3,411.80 306.3,411.73 307.3,411.66 308.3,411.59 309.3,411.52 310.3,411.45 311.3,411.38 312.3,411.31 313.3,411.25 314.3,411.19 315.3,411.13 316.3,411.07 317.3,411.02 318.3,410.97 319.3,410.92 320.3,410.88 321.3,410.83 322.3,410.80 323.3,410.76 324.3,410.73 325.3,410.70 326.3,410.68 327.3,410.66 328.3,410.65 329.3,410.63 330.3,410.63 331.3,410.62 332.3,410.62 333.3,410.63 334.3,410.64 335.3,410.65 336.3,410.66 337.3,410.68 338.3,410.71 339.3,410.74 340.3,410.77 341.3,410.80 342.3,410.84 343.3,410.88 344.3,410.93 345.3,410.98 346.3,411.03 347.3,411.08 348.3,411.14 349.3,411.20 350.3,411.26 351.3,411.33 352.3,411.39 353.3,411.46 354.3,411.53 355.3,411.60 356.3,411.67 357.3,411.74 358.3,411.82 359.3,411.89 360.3,411.97 361.3,412.04 362.3,412.12 363.3,412.19 364.3,412.27 365.3,412.35 366.3,412.42 367.3,412.50 368.3,412.57 369.3,412.64 370.3,412.72 371.3,412.79 372.3,412.86 373.3,412.93 374.3,412.99 375.3,413.06 376.3,413.12 377.3,413.19 378.3,413.25 379.3,413.31 380.3,413.37 381.3,413.42 382.3,413.48 383.3,413.53 384.3,413.58 385.3,413.63 386.3,413.68 387.3,413.73 388.3,413.77 389.3,413.81 390.3,413.85 391.3,413.89 392.3,413.93 393.3,413.96 394.3,414.00 395.3,414.03 396.3,414.06 397.3,414.09 398.3,414.12 399.3,414.14 400.3,414.17 401.3,414.19 402.3,414.21 403.3,414.23 404.3,414.25 405.3,414.27 406.3,414.29 407.3,414.30 408.3,414.32 409.3,414.33 410.3,414.35 411.3,414.36 412.3,414.37 413.3,414.38 414.3,414.39 415.3,414.40 416.3,414.41 417.3,414.42 L417.3,414.5 Z" fill="#3b4cc0" fill-opacity="0.25" stroke="none"/>
<path d="M248.3,414.5 L248.3,414.40 249.3,414.39 250.3,414.38 251.3,414.37 252.3,414.36 253.3,414.35 254.3,414.33 255.3,414.32 256.3,414.30 257.3,414.29 258.3,414.27 259.3,414.25 260.3,414.23 261.3,414.21 262.3,414.19 263.3,414.17 264.3,414.14 265.3,414.12 266.3,414.09 267.3,414.06 268.3,414.03 269.3,414.00 270.3,413.96 271.3,413.93 272.3,413.89 273.3,413.85 274.3,413.81 275.3,413.77 276.3,413.72 277.3,413.68 278.3,413.63 279.3,413.58 280.3,413.53 281.3,413.47 282.3,413.42 283.3,413.36 284.3,413.30 285.3,413.24 286.3,413.18 287.3,413.12 288.3,413.05 289.3,412.98 290.3,412.92 291.3,412.85 292.3,412.78 293.3,412.71 294.3,412.63 295.3,412.56 296.3,412.48 297.3,412.41 298.3,412.33 299.3,412.26 300.3,412.18 301.3,412.11 302.3,412.03 303.3,411.95 304.3,411.88 305.3,411.80 306.3,411.73 307.3,411.66 308.3,411.59 309.3,411.52 310.3,411.45 311.3,411.38 312.3,411.31 313.3,411.25 314.3,411.19 315.3,411.13 316.3,411.07 317.3,411.02 318.3,410.97 319.3,410.92 320.3,410.88 321.3,410.83 322.3,410.80 323.3,410.76 324.3,410.73 325.3,410.70 326.3,410.68 327.3,410.66 328.3,410.65 329.3,410.63 330.3,410.63 331.3,410.62 332.3,410.62 333.3,410.63 334.3,410.64 335.3,410.65 336.3,410.66 337.3,410.68 338.3,410.71 339.3,410.74 340.3,410.77 341.3,410.80 342.3,410.84 343.3,410.88 344.3,410.93 345.3,410.98 346.3,411.03 347.3,411.08 348.3,411.14 349.3,411.20 350.3,411.26 351.3,411.33 352.3,411.39 353.3,411.46 354.3,411.53 355.3,411.60 356.3,411.67 357.3,411.74 358.3,411.82 359.3,411.89 360.3,411.97 361.3,412.04 362.3,412.12 363.3,412.19 364.3,412.27 365.3,412.35 366.3,412.42 367.3,412.50 368.3,412.57 369.3,412.64 370.3,412.72 371.3,412.79 372.3,412.86 373.3,412.93 374.3,412.99 375.3,413.06 376.3,413.12 377.3,413.19 378.3,413.25 379.3,413.31 380.3,413.37 381.3,413.42 382.3,413.48 383.3,413.53 384.3,413.58 385.3,413.63 386.3,413.68 387.3,413.73 388.3,413.77 389.3,413.81 390.3,413.85 391.3,413.89 392.3,413.93 393.3,413.96 394.3,414.00 395.3,414.03 396.3,414.06 397.3,414.09 398.3,414.12 399.3,414.14 400.3,414.17 401.3,414.19 402.3,414.21 403.3,414.23 404.3,414.25 405.3,414.27 406.3,414.29 407.3,414.30 408.3,414.32 409.3,414.33 410.3,414.35 411.3,414.36 412.3,414.37 413.3,414.38 414.3,414.39 415.3,414.40 416.3,414.41 417.3,414.42 L417.3,414.5 Z" fill="none" stroke="#3b4cc0" stroke-width="1.1" stroke-linejoin="round"/>
<path d="M266.0,414.5 L266.0,414.50 267.0,414.50 268.0,414.50 269.0,414.50 270.0,414.50 271.0,414.50 272.0,414.50 273.0,414.50 274.0,414.50 275.0,414.50 276.0,414.50 277.0,414.49 278.0,414.49 279.0,414.47 280.0,414.45 281.0,414.41 282.0,414.34 283.0,414.22 284.0,414.04 285.0,413.74 286.0,413.29 287.0,412.61 288.0,411.62 289.0,410.21 290.0,408.26 291.0,405.64 292.0,402.20 293.0,397.81 294.0,392.35 295.0,385.77 296.0,378.04 297.0,369.21 298.0,359.41 299.0,348.84 300.0,337.75 301.0,326.46 302.0,315.26 303.0,304.47 304.0,294.36 305.0,285.13 306.0,276.94 307.0,269.88 308.0,263.97 309.0,259.22 310.0,255.63 311.0,253.19 312.0,251.90 313.0,251.77 314.0,252.81 315.0,255.02 316.0,258.39 317.0,262.84 318.0,268.29 319.0,274.63 320.0,281.70 321.0,289.38 322.0,297.52 323.0,306.00 324.0,314.71 325.0,323.55 326.0,332.42 327.0,341.24 328.0,349.88 329.0,358.25 330.0,366.21 331.0,373.62 332.0,380.37 333.0,386.32 334.0,391.39 335.0,395.50 336.0,398.57 337.0,400.59 338.0,401.54 339.0,401.42 340.0,400.27 341.0,398.15 342.0,395.17 343.0,391.47 344.0,387.24 345.0,382.72 346.0,378.19 347.0,373.95 348.0,370.30 349.0,367.51 350.0,365.80 351.0,365.31 352.0,366.08 353.0,368.05 354.0,371.07 355.0,374.94 356.0,379.38 357.0,384.12 358.0,388.90 359.0,393.47 360.0,397.67 361.0,401.37 362.0,404.53 363.0,407.11 364.0,409.17 365.0,410.75 366.0,411.93 367.0,412.79 368.0,413.38 369.0,413.79 370.0,414.06 371.0,414.24 372.0,414.35 373.0,414.41 374.0,414.45 375.0,414.47 376.0,414.49 377.0,414.49 378.0,414.50 379.0,414.50 380.0,414.50 381.0,414.50 382.0,414.50 383.0,414.50 384.0,414.50 385.0,414.50 386.0,414.50 387.0,414.50 388.0,414.50 389.0,414.50 390.0,414.50 391.0,414.50 392.0,414.50 L392.0,414.5 Z" fill="#3b4cc0" fill-opacity="0.25" stroke="none"/>
<path d="M266.0,414.5 L266.0,414.50 267.0,414.50 268.0,414.50 269.0,414.50 270.0,414.50 271.0,414.50 272.0,414.50 273.0,414.50 274.0,414.50 275.0,414.50 276.0,414.50 277.0,414.49 278.0,414.49 279.0,414.47 280.0,414.45 281.0,414.41 282.0,414.34 283.0,414.22 284.0,414.04 285.0,413.74 286.0,413.29 287.0,412.61 288.0,411.62 289.0,410.21 290.0,408.26 291.0,405.64 292.0,402.20 293.0,397.81 294.0,392.35 295.0,385.77 296.0,378.04 297.0,369.21 298.0,359.41 299.0,348.84 300.0,337.75 301.0,326.46 302.0,315.26 303.0,304.47 304.0,294.36 305.0,285.13 306.0,276.94 307.0,269.88 308.0,263.97 309.0,259.22 310.0,255.63 311.0,253.19 312.0,251.90 313.0,251.77 314.0,252.81 315.0,255.02 316.0,258.39 317.0,262.84 318.0,268.29 319.0,274.63 320.0,281.70 321.0,289.38 322.0,297.52 323.0,306.00 324.0,314.71 325.0,323.55 326.0,332.42 327.0,341.24 328.0,349.88 329.0,358.25 330.0,366.21 331.0,373.62 332.0,380.37 333.0,386.32 334.0,391.39 335.0,395.50 336.0,398.57 337.0,400.59 338.0,401.54 339.0,401.42 340.0,400.27 341.0,398.15 342.0,395.17 343.0,391.47 344.0,387.24 345.0,382.72 346.0,378.19 347.0,373.95 348.0,370.30 349.0,367.51 350.0,365.80 351.0,365.31 352.0,366.08 353.0,368.05 354.0,371.07 355.0,374.94 356.0,379.38 357.0,384.12 358.0,388.90 359.0,393.47 360.0,397.67 361.0,401.37 362.0,404.53 363.0,407.11 364.0,409.17 365.0,410.75 366.0,411.93 367.0,412.79 368.0,413.38 369.0,413.79 370.0,414.06 371.0,414.24 372.0,414.35 373.0,414.41 374.0,414.45 375.0,414.47 376.0,414.49 377.0,414.49 378.0,414.50 379.0,414.50 380.0,414.50 381.0,414.50 382.0,414.50 383.0,414.50 384.0,414.50 385.0,414.50 386.0,414.50 387.0,414.50 388.0,414.50 389.0,414.50 390.0,414.50 391.0,414.50 392.0,414.50 L392.0,414.5 Z" fill="none" stroke="#3b4cc0" stroke-width="1.3" stroke-linejoin="round"/>
<path d="M270.0,414.5 L270.0,414.50 271.0,414.50 272.0,414.50 273.0,414.50 274.0,414.50 275.0,414.50 276.0,414.50 277.0,414.50 278.0,414.50 279.0,414.50 280.0,414.50 281.0,414.50 282.0,414.50 283.0,414.50 284.0,414.50 285.0,414.50 286.0,414.49 287.0,414.49 288.0,414.47 289.0,414.45 290.0,414.41 291.0,414.34 292.0,414.22 293.0,414.03 294.0,413.75 295.0,413.34 296.0,412.76 297.0,411.99 298.0,410.98 299.0,409.74 300.0,408.28 301.0,406.65 302.0,404.92 303.0,403.21 304.0,401.64 305.0,400.34 306.0,399.44 307.0,399.02 308.0,399.13 309.0,399.75 310.0,400.82 311.0,402.24 312.0,403.89 313.0,405.62 314.0,407.32 315.0,408.89 316.0,410.27 317.0,411.41 318.0,412.32 319.0,413.02 320.0,413.52 321.0,413.88 322.0,414.12 323.0,414.27 324.0,414.37 325.0,414.43 326.0,414.46 327.0,414.48 328.0,414.49 329.0,414.50 330.0,414.50 331.0,414.50 332.0,414.50 333.0,414.50 334.0,414.50 335.0,414.50 336.0,414.50 337.0,414.50 338.0,414.50 339.0,414.50 340.0,414.50 341.0,414.50 342.0,414.50 343.0,414.50 344.0,414.50 345.0,414.50 346.0,414.50 347.0,414.50 348.0,414.50 349.0,414.50 350.0,414.50 351.0,414.50 352.0,414.50 353.0,414.50 354.0,414.50 355.0,414.50 356.0,414.50 357.0,414.50 358.0,414.50 359.0,414.50 360.0,414.50 361.0,414.50 362.0,414.50 363.0,414.50 364.0,414.50 365.0,414.50 366.0,414.50 367.0,414.50 368.0,414.50 369.0,414.50 370.0,414.50 371.0,414.50 372.0,414.50 373.0,414.50 374.0,414.50 375.0,414.50 376.0,414.50 377.0,414.50 378.0,414.50 379.0,414.50 380.0,414.50 381.0,414.50 382.0,414.50 383.0,414.50 384.0,414.50 385.0,414.50 386.0,414.50 387.0,414.50 388.0,414.50 389.0,414.50 390.0,414.50 L390.0,414.5 Z" fill="#3b4cc0" fill-opacity="0.25" stroke="none"/>
<path d="M270.0,414.5 L270.0,414.50 271.0,414.50 272.0,414.50 273.0,414.50 274.0,414.50 275.0,414.50 276.0,414.50 277.0,414.50 278.0,414.50 279.0,414.50 280.0,414.50 281.0,414.50 282.0,414.50 283.0,414.50 284.0,414.50 285.0,414.50 286.0,414.49 287.0,414.49 288.0,414.47 289.0,414.45 290.0,414.41 291.0,414.34 292.0,414.22 293.0,414.03 294.0,413.75 295.0,413.34 296.0,412.76 297.0,411.99 298.0,410.98 299.0,409.74 300.0,408.28 301.0,406.65 302.0,404.92 303.0,403.21 304.0,401.64 305.0,400.34 306.0,399.44 307.0,399.02 308.0,399.13 309.0,399.75 310.0,400.82 311.0,402.24 312.0,403.89 313.0,405.62 314.0,407.32 315.0,408.89 316.0,410.27 317.0,411.41 318.0,412.32 319.0,413.02 320.0,413.52 321.0,413.88 322.0,414.12 323.0,414.27 324.0,414.37 325.0,414.43 326.0,414.46 327.0,414.48 328.0,414.49 329.0,414.50 330.0,414.50 331.0,414.50 332.0,414.50 333.0,414.50 334.0,414.50 335.0,414.50 336.0,414.50 337.0,414.50 338.0,414.50 339.0,414.50 340.0,414.50 341.0,414.50 342.0,414.50 343.0,414.50 344.0,414.50 345.0,414.50 346.0,414.50 347.0,414.50 348.0,414.50 349.0,414.50 350.0,414.50 351.0,414.50 352.0,414.50 353.0,414.50 354.0,414.50 355.0,414.50 356.0,414.50 357.0,414.50 358.0,414.50 359.0,414.50 360.0,414.50 361.0,414.50 362.0,414.50 363.0,414.50 364.0,414.50 365.0,414.50 366.0,414.50 367.0,414.50 368.0,414.50 369.0,414.50 370.0,414.50 371.0,414.50 372.0,414.50 373.0,414.50 374.0,414.50 375.0,414.50 376.0,414.50 377.0,414.50 378.0,414.50 379.0,414.50 380.0,414.50 381.0,414.50 382.0,414.50 383.0,414.50 384.0,414.50 385.0,414.50 386.0,414.50 387.0,414.50 388.0,414.50 389.0,414.50 390.0,414.50 L390.0,414.5 Z" fill="none" stroke="#3b4cc0" stroke-width="1.1" stroke-linejoin="round"/>
<path d="M270.0,414.5 L270.0,414.50 271.0,414.50 272.0,414.50 273.0,414.50 274.0,414.50 275.0,414.50 276.0,414.50 277.0,414.50 278.0,414.50 279.0,414.50 280.0,414.50 281.0,414.50 282.0,414.50 283.0,414.50 284.0,414.50 285.0,414.50 286.0,414.50 287.0,414.50 288.0,414.50 289.0,414.50 290.0,414.50 291.0,414.50 292.0,414.50 293.0,414.49 294.0,414.49 295.0,414.48 296.0,414.47 297.0,414.45 298.0,414.42 299.0,414.37 300.0,414.31 301.0,414.21 302.0,414.08 303.0,413.90 304.0,413.65 305.0,413.33 306.0,412.91 307.0,412.38 308.0,411.72 309.0,410.92 310.0,409.98 311.0,408.89 312.0,407.67 313.0,406.33 314.0,404.90 315.0,403.43 316.0,401.97 317.0,400.57 318.0,399.30 319.0,398.20 320.0,397.35 321.0,396.78 322.0,396.51 323.0,396.58 324.0,396.97 325.0,397.66 326.0,398.62 327.0,399.79 328.0,401.12 329.0,402.55 330.0,404.02 331.0,405.48 332.0,406.88 333.0,408.17 334.0,409.34 335.0,410.37 336.0,411.26 337.0,412.00 338.0,412.60 339.0,413.09 340.0,413.47 341.0,413.76 342.0,413.98 343.0,414.14 344.0,414.26 345.0,414.34 346.0,414.39 347.0,414.43 348.0,414.46 349.0,414.47 350.0,414.48 351.0,414.49 352.0,414.49 353.0,414.50 354.0,414.50 355.0,414.50 356.0,414.50 357.0,414.50 358.0,414.50 359.0,414.50 360.0,414.50 361.0,414.50 362.0,414.50 363.0,414.50 364.0,414.50 365.0,414.50 366.0,414.50 367.0,414.50 368.0,414.50 369.0,414.50 370.0,414.50 371.0,414.50 372.0,414.50 373.0,414.50 374.0,414.50 375.0,414.50 376.0,414.50 377.0,414.50 378.0,414.50 379.0,414.50 380.0,414.50 381.0,414.50 382.0,414.50 383.0,414.50 384.0,414.50 385.0,414.50 386.0,414.50 387.0,414.50 388.0,414.50 389.0,414.50 390.0,414.50 L390.0,414.5 Z" fill="#3b4cc0" fill-opacity="0.25" stroke="none"/>
<path d="M270.0,414.5 L270.0,414.50 271.0,414.50 272.0,414.50 273.0,414.50 274.0,414.50 275.0,414.50 276.0,414.50 277.0,414.50 278.0,414.50 279.0,414.50 280.0,414.50 281.0,414.50 282.0,414.50 283.0,414.50 284.0,414.50 285.0,414.50 286.0,414.50 287.0,414.50 288.0,414.50 289.0,414.50 290.0,414.50 291.0,414.50 292.0,414.50 293.0,414.49 294.0,414.49 295.0,414.48 296.0,414.47 297.0,414.45 298.0,414.42 299.0,414.37 300.0,414.31 301.0,414.21 302.0,414.08 303.0,413.90 304.0,413.65 305.0,413.33 306.0,412.91 307.0,412.38 308.0,411.72 309.0,410.92 310.0,409.98 311.0,408.89 312.0,407.67 313.0,406.33 314.0,404.90 315.0,403.43 316.0,401.97 317.0,400.57 318.0,399.30 319.0,398.20 320.0,397.35 321.0,396.78 322.0,396.51 323.0,396.58 324.0,396.97 325.0,397.66 326.0,398.62 327.0,399.79 328.0,401.12 329.0,402.55 330.0,404.02 331.0,405.48 332.0,406.88 333.0,408.17 334.0,409.34 335.0,410.37 336.0,411.26 337.0,412.00 338.0,412.60 339.0,413.09 340.0,413.47 341.0,413.76 342.0,413.98 343.0,414.14 344.0,414.26 345.0,414.34 346.0,414.39 347.0,414.43 348.0,414.46 349.0,414.47 350.0,414.48 351.0,414.49 352.0,414.49 353.0,414.50 354.0,414.50 355.0,414.50 356.0,414.50 357.0,414.50 358.0,414.50 359.0,414.50 360.0,414.50 361.0,414.50 362.0,414.50 363.0,414.50 364.0,414.50 365.0,414.50 366.0,414.50 367.0,414.50 368.0,414.50 369.0,414.50 370.0,414.50 371.0,414.50 372.0,414.50 373.0,414.50 374.0,414.50 375.0,414.50 376.0,414.50 377.0,414.50 378.0,414.50 379.0,414.50 380.0,414.50 381.0,414.50 382.0,414.50 383.0,414.50 384.0,414.50 385.0,414.50 386.0,414.50 387.0,414.50 388.0,414.50 389.0,414.50 390.0,414.50 L390.0,414.5 Z" fill="none" stroke="#3b4cc0" stroke-width="1.1" stroke-linejoin="round"/>
<path d="M270.0,414.5 L270.0,414.50 271.0,414.50 272.0,414.50 273.0,414.50 274.0,414.50 275.0,414.50 276.0,414.50 277.0,414.50 278.0,414.50 279.0,414.50 280.0,414.50 281.0,414.50 282.0,414.50 283.0,414.50 284.0,414.50 285.0,414.50 286.0,414.50 287.0,414.50 288.0,414.50 289.0,414.50 290.0,414.50 291.0,414.50 292.0,414.50 293.0,414.50 294.0,414.50 295.0,414.50 296.0,414.50 297.0,414.49 298.0,414.49 299.0,414.48 300.0,414.47 301.0,414.44 302.0,414.41 303.0,414.36 304.0,414.28 305.0,414.17 306.0,414.01 307.0,413.80 308.0,413.51 309.0,413.12 310.0,412.63 311.0,412.01 312.0,411.25 313.0,410.35 314.0,409.31 315.0,408.13 316.0,406.85 317.0,405.49 318.0,404.10 319.0,402.75 320.0,401.49 321.0,400.38 322.0,399.49 323.0,398.86 324.0,398.54 325.0,398.54 326.0,398.86 327.0,399.49 328.0,400.38 329.0,401.49 330.0,402.75 331.0,404.10 332.0,405.49 333.0,406.85 334.0,408.13 335.0,409.31 336.0,410.35 337.0,411.25 338.0,412.01 339.0,412.63 340.0,413.12 341.0,413.51 342.0,413.80 343.0,414.01 344.0,414.17 345.0,414.28 346.0,414.36 347.0,414.41 348.0,414.44 349.0,414.47 350.0,414.48 351.0,414.49 352.0,414.49 353.0,414.50 354.0,414.50 355.0,414.50 356.0,414.50 357.0,414.50 358.0,414.50 359.0,414.50 360.0,414.50 361.0,414.50 362.0,414.50 363.0,414.50 364.0,414.50 365.0,414.50 366.0,414.50 367.0,414.50 368.0,414.50 369.0,414.50 370.0,414.50 371.0,414.50 372.0,414.50 373.0,414.50 374.0,414.50 375.0,414.50 376.0,414.50 377.0,414.50 378.0,414.50 379.0,414.50 380.0,414.50 381.0,414.50 382.0,414.50 383.0,414.50 384.0,414.50 385.0,414.50 386.0,414.50 387.0,414.50 388.0,414.50 389.0,414.50 390.0,414.50 L390.0,414.5 Z" fill="#3b4cc0" fill-opacity="0.25" stroke="none"/>
<path d="M270.0,414.5 L270.0,414.50 271.0,414.50 272.0,414.50 273.0,414.50 274.0,414.50 275.0,414.50 276.0,414.50 277.0,414.50 278.0,414.50 279.0,414.50 280.0,414.50 281.0,414.50 282.0,414.50 283.0,414.50 284.0,414.50 285.0,414.50 286.0,414.50 287.0,414.50 288.0,414.50 289.0,414.50 290.0,414.50 291.0,414.50 292.0,414.50 293.0,414.50 294.0,414.50 295.0,414.50 296.0,414.50 297.0,414.49 298.0,414.49 299.0,414.48 300.0,414.47 301.0,414.44 302.0,414.41 303.0,414.36 304.0,414.28 305.0,414.17 306.0,414.01 307.0,413.80 308.0,413.51 309.0,413.12 310.0,412.63 311.0,412.01 312.0,411.25 313.0,410.35 314.0,409.31 315.0,408.13 316.0,406.85 317.0,405.49 318.0,404.10 319.0,402.75 320.0,401.49 321.0,400.38 322.0,399.49 323.0,398.86 324.0,398.54 325.0,398.54 326.0,398.86 327.0,399.49 328.0,400.38 329.0,401.49 330.0,402.75 331.0,404.10 332.0,405.49 333.0,406.85 334.0,408.13 335.0,409.31 336.0,410.35 337.0,411.25 338.0,412.01 339.0,412.63 340.0,413.12 341.0,413.51 342.0,413.80 343.0,414.01 344.0,414.17 345.0,414.28 346.0,414.36 347.0,414.41 348.0,414.44 349.0,414.47 350.0,414.48 351.0,414.49 352.0,414.49 353.0,414.50 354.0,414.50 355.0,414.50 356.0,414.50 357.0,414.50 358.0,414.50 359.0,414.50 360.0,414.50 361.0,414.50 362.0,414.50 363.0,414.50 364.0,414.50 365.0,414.50 366.0,414.50 367.0,414.50 368.0,414.50 369.0,414.50 370.0,414.50 371.0,414.50 372.0,414.50 373.0,414.50 374.0,414.50 375.0,414.50 376.0,414.50 377.0,414.50 378.0,414.50 379.0,414.50 380.0,414.50 381.0,414.50 382.0,414.50 383.0,414.50 384.0,414.50 385.0,414.50 386.0,414.50 387.0,414.50 388.0,414.50 389.0,414.50 390.0,414.50 L390.0,414.5 Z" fill="none" stroke="#3b4cc0" stroke-width="1.1" stroke-linejoin="round"/>
<path d="M270.0,414.5 L270.0,414.50 271.0,414.50 272.0,414.50 273.0,414.50 274.0,414.50 275.0,414.50 276.0,414.50 277.0,414.50 278.0,414.50 279.0,414.50 280.0,414.50 281.0,414.50 282.0,414.50 283.0,414.50 284.0,414.50 285.0,414.50 286.0,414.50 287.0,414.50 288.0,414.49 289.0,414.49 290.0,414.48 291.0,414.46 292.0,414.43 293.0,414.39 294.0,414.33 295.0,414.24 296.0,414.11 297.0,413.93 298.0,413.69 299.0,413.38 300.0,413.00 301.0,412.55 302.0,412.03 303.0,411.45 304.0,410.85 305.0,410.23 306.0,409.65 307.0,409.13 308.0,408.70 309.0,408.38 310.0,408.19 311.0,408.12 312.0,408.15 313.0,408.26 314.0,408.39 315.0,408.51 316.0,408.59 317.0,408.58 318.0,408.49 319.0,408.31 320.0,408.06 321.0,407.78 322.0,407.51 323.0,407.30 324.0,407.20 325.0,407.24 326.0,407.43 327.0,407.77 328.0,408.26 329.0,408.85 330.0,409.53 331.0,410.24 332.0,410.95 333.0,411.62 334.0,412.23 335.0,412.75 336.0,413.20 337.0,413.55 338.0,413.83 339.0,414.04 340.0,414.19 341.0,414.30 342.0,414.37 343.0,414.42 344.0,414.45 345.0,414.47 346.0,414.48 347.0,414.49 348.0,414.50 349.0,414.50 350.0,414.50 351.0,414.50 352.0,414.50 353.0,414.50 354.0,414.50 355.0,414.50 356.0,414.50 357.0,414.50 358.0,414.50 359.0,414.50 360.0,414.50 361.0,414.50 362.0,414.50 363.0,414.50 364.0,414.50 365.0,414.50 366.0,414.50 367.0,414.50 368.0,414.50 369.0,414.50 370.0,414.50 371.0,414.50 372.0,414.50 373.0,414.50 374.0,414.50 375.0,414.50 376.0,414.50 377.0,414.50 378.0,414.50 379.0,414.50 380.0,414.50 381.0,414.50 382.0,414.50 383.0,414.50 384.0,414.50 385.0,414.50 386.0,414.50 387.0,414.50 388.0,414.50 389.0,414.50 390.0,414.50 L390.0,414.5 Z" fill="#3b4cc0" fill-opacity="0.25" stroke="none"/>
<path d="M270.0,414.5 L270.0,414.50 271.0,414.50 272.0,414.50 273.0,414.50 274.0,414.50 275.0,414.50 276.0,414.50 277.0,414.50 278.0,414.50 279.0,414.50 280.0,414.50 281.0,414.50 282.0,414.50 283.0,414.50 284.0,414.50 285.0,414.50 286.0,414.50 287.0,414.50 288.0,414.49 289.0,414.49 290.0,414.48 291.0,414.46 292.0,414.43 293.0,414.39 294.0,414.33 295.0,414.24 296.0,414.11 297.0,413.93 298.0,413.69 299.0,413.38 300.0,413.00 301.0,412.55 302.0,412.03 303.0,411.45 304.0,410.85 305.0,410.23 306.0,409.65 307.0,409.13 308.0,408.70 309.0,408.38 310.0,408.19 311.0,408.12 312.0,408.15 313.0,408.26 314.0,408.39 315.0,408.51 316.0,408.59 317.0,408.58 318.0,408.49 319.0,408.31 320.0,408.06 321.0,407.78 322.0,407.51 323.0,407.30 324.0,407.20 325.0,407.24 326.0,407.43 327.0,407.77 328.0,408.26 329.0,408.85 330.0,409.53 331.0,410.24 332.0,410.95 333.0,411.62 334.0,412.23 335.0,412.75 336.0,413.20 337.0,413.55 338.0,413.83 339.0,414.04 340.0,414.19 341.0,414.30 342.0,414.37 343.0,414.42 344.0,414.45 345.0,414.47 346.0,414.48 347.0,414.49 348.0,414.50 349.0,414.50 350.0,414.50 351.0,414.50 352.0,414.50 353.0,414.50 354.0,414.50 355.0,414.50 356.0,414.50 357.0,414.50 358.0,414.50 359.0,414.50 360.0,414.50 361.0,414.50 362.0,414.50 363.0,414.50 364.0,414.50 365.0,414.50 366.0,414.50 367.0,414.50 368.0,414.50 369.0,414.50 370.0,414.50 371.0,414.50 372.0,414.50 373.0,414.50 374.0,414.50 375.0,414.50 376.0,414.50 377.0,414.50 378.0,414.50 379.0,414.50 380.0,414.50 381.0,414.50 382.0,414.50 383.0,414.50 384.0,414.50 385.0,414.50 386.0,414.50 387.0,414.50 388.0,414.50 389.0,414.50 390.0,414.50 L390.0,414.5 Z" fill="none" stroke="#3b4cc0" stroke-width="1.1" stroke-linejoin="round"/>
<path d="M270.0,414.5 L270.0,414.50 271.0,414.50 272.0,414.50 273.0,414.50 274.0,414.50 275.0,414.50 276.0,414.50 277.0,414.50 278.0,414.50 279.0,414.50 280.0,414.50 281.0,414.50 282.0,414.50 283.0,414.50 284.0,414.50 285.0,414.50 286.0,414.49 287.0,414.49 288.0,414.48 289.0,414.47 290.0,414.46 291.0,414.44 292.0,414.42 293.0,414.39 294.0,414.34 295.0,414.28 296.0,414.20 297.0,414.10 298.0,413.98 299.0,413.82 300.0,413.64 301.0,413.42 302.0,413.16 303.0,412.88 304.0,412.56 305.0,412.21 306.0,411.84 307.0,411.47 308.0,411.09 309.0,410.73 310.0,410.39 311.0,410.09 312.0,409.84 313.0,409.65 314.0,409.54 315.0,409.50 316.0,409.54 317.0,409.65 318.0,409.84 319.0,410.09 320.0,410.38 321.0,410.72 322.0,411.08 323.0,411.46 324.0,411.83 325.0,412.19 326.0,412.52 327.0,412.83 328.0,413.10 329.0,413.32 330.0,413.51 331.0,413.64 332.0,413.74 333.0,413.79 334.0,413.80 335.0,413.76 336.0,413.69 337.0,413.58 338.0,413.45 339.0,413.28 340.0,413.09 341.0,412.88 342.0,412.66 343.0,412.44 344.0,412.23 345.0,412.03 346.0,411.85 347.0,411.70 348.0,411.59 349.0,411.52 350.0,411.50 351.0,411.52 352.0,411.59 353.0,411.70 354.0,411.85 355.0,412.03 356.0,412.24 357.0,412.45 358.0,412.68 359.0,412.91 360.0,413.13 361.0,413.33 362.0,413.53 363.0,413.70 364.0,413.85 365.0,413.98 366.0,414.09 367.0,414.19 368.0,414.26 369.0,414.32 370.0,414.37 371.0,414.40 372.0,414.43 373.0,414.45 374.0,414.47 375.0,414.48 376.0,414.48 377.0,414.49 378.0,414.49 379.0,414.50 380.0,414.50 381.0,414.50 382.0,414.50 383.0,414.50 384.0,414.50 385.0,414.50 386.0,414.50 387.0,414.50 388.0,414.50 389.0,414.50 390.0,414.50 L390.0,414.5 Z" fill="#3b4cc0" fill-opacity="0.25" stroke="none"/>
<path d="M270.0,414.5 L270.0,414.50 271.0,414.50 272.0,414.50 273.0,414.50 274.0,414.50 275.0,414.50 276.0,414.50 277.0,414.50 278.0,414.50 279.0,414.50 280.0,414.50 281.0,414.50 282.0,414.50 283.0,414.50 284.0,414.50 285.0,414.50 286.0,414.49 287.0,414.49 288.0,414.48 289.0,414.47 290.0,414.46 291.0,414.44 292.0,414.42 293.0,414.39 294.0,414.34 295.0,414.28 296.0,414.20 297.0,414.10 298.0,413.98 299.0,413.82 300.0,413.64 301.0,413.42 302.0,413.16 303.0,412.88 304.0,412.56 305.0,412.21 306.0,411.84 307.0,411.47 308.0,411.09 309.0,410.73 310.0,410.39 311.0,410.09 312.0,409.84 313.0,409.65 314.0,409.54 315.0,409.50 316.0,409.54 317.0,409.65 318.0,409.84 319.0,410.09 320.0,410.38 321.0,410.72 322.0,411.08 323.0,411.46 324.0,411.83 325.0,412.19 326.0,412.52 327.0,412.83 328.0,413.10 329.0,413.32 330.0,413.51 331.0,413.64 332.0,413.74 333.0,413.79 334.0,413.80 335.0,413.76 336.0,413.69 337.0,413.58 338.0,413.45 339.0,413.28 340.0,413.09 341.0,412.88 342.0,412.66 343.0,412.44 344.0,412.23 345.0,412.03 346.0,411.85 347.0,411.70 348.0,411.59 349.0,411.52 350.0,411.50 351.0,411.52 352.0,411.59 353.0,411.70 354.0,411.85 355.0,412.03 356.0,412.24 357.0,412.45 358.0,412.68 359.0,412.91 360.0,413.13 361.0,413.33 362.0,413.53 363.0,413.70 364.0,413.85 365.0,413.98 366.0,414.09 367.0,414.19 368.0,414.26 369.0,414.32 370.0,414.37 371.0,414.40 372.0,414.43 373.0,414.45 374.0,414.47 375.0,414.48 376.0,414.48 377.0,414.49 378.0,414.49 379.0,414.50 380.0,414.50 381.0,414.50 382.0,414.50 383.0,414.50 384.0,414.50 385.0,414.50 386.0,414.50 387.0,414.50 388.0,414.50 389.0,414.50 390.0,414.50 L390.0,414.5 Z" fill="none" stroke="#3b4cc0" stroke-width="1.1" stroke-linejoin="round"/>
<path d="M270.0,414.5 L270.0,414.50 271.0,414.50 272.0,414.50 273.0,414.50 274.0,414.50 275.0,414.50 276.0,414.50 277.0,414.50 278.0,414.50 279.0,414.50 280.0,414.49 281.0,414.49 282.0,414.48 283.0,414.47 284.0,414.46 285.0,414.43 286.0,414.40 287.0,414.35 288.0,414.29 289.0,414.21 290.0,414.10 291.0,413.96 292.0,413.79 293.0,413.58 294.0,413.33 295.0,413.05 296.0,412.74 297.0,412.40 298.0,412.04 299.0,411.67 300.0,411.32 301.0,410.98 302.0,410.67 303.0,410.40 304.0,410.17 305.0,410.00 306.0,409.86 307.0,409.77 308.0,409.70 309.0,409.65 310.0,409.60 311.0,409.54 312.0,409.47 313.0,409.39 314.0,409.29 315.0,409.18 316.0,409.09 317.0,409.02 318.0,408.99 319.0,409.01 320.0,409.10 321.0,409.26 322.0,409.49 323.0,409.79 324.0,410.15 325.0,410.56 326.0,410.99 327.0,411.43 328.0,411.87 329.0,412.28 330.0,412.66 331.0,413.00 332.0,413.28 333.0,413.52 334.0,413.69 335.0,413.81 336.0,413.88 337.0,413.90 338.0,413.87 339.0,413.80 340.0,413.69 341.0,413.54 342.0,413.37 343.0,413.18 344.0,412.97 345.0,412.76 346.0,412.56 347.0,412.37 348.0,412.22 349.0,412.10 350.0,412.02 351.0,412.00 352.0,412.03 353.0,412.10 354.0,412.22 355.0,412.38 356.0,412.56 357.0,412.77 358.0,412.98 359.0,413.20 360.0,413.41 361.0,413.60 362.0,413.77 363.0,413.92 364.0,414.05 365.0,414.16 366.0,414.25 367.0,414.32 368.0,414.37 369.0,414.41 370.0,414.44 371.0,414.46 372.0,414.47 373.0,414.48 374.0,414.49 375.0,414.49 376.0,414.50 377.0,414.50 378.0,414.50 379.0,414.50 380.0,414.50 381.0,414.50 382.0,414.50 383.0,414.50 384.0,414.50 385.0,414.50 386.0,414.50 387.0,414.50 388.0,414.50 389.0,414.50 390.0,414.50 L390.0,414.5 Z" fill="#3b4cc0" fill-opacity="0.25" stroke="none"/>
<path d="M270.0,414.5 L270.0,414.50 271.0,414.50 272.0,414.50 273.0,414.50 274.0,414.50 275.0,414.50 276.0,414.50 277.0,414.50 278.0,414.50 279.0,414.50 280.0,414.49 281.0,414.49 282.0,414.48 283.0,414.47 284.0,414.46 285.0,414.43 286.0,414.40 287.0,414.35 288.0,414.29 289.0,414.21 290.0,414.10 291.0,413.96 292.0,413.79 293.0,413.58 294.0,413.33 295.0,413.05 296.0,412.74 297.0,412.40 298.0,412.04 299.0,411.67 300.0,411.32 301.0,410.98 302.0,410.67 303.0,410.40 304.0,410.17 305.0,410.00 306.0,409.86 307.0,409.77 308.0,409.70 309.0,409.65 310.0,409.60 311.0,409.54 312.0,409.47 313.0,409.39 314.0,409.29 315.0,409.18 316.0,409.09 317.0,409.02 318.0,408.99 319.0,409.01 320.0,409.10 321.0,409.26 322.0,409.49 323.0,409.79 324.0,410.15 325.0,410.56 326.0,410.99 327.0,411.43 328.0,411.87 329.0,412.28 330.0,412.66 331.0,413.00 332.0,413.28 333.0,413.52 334.0,413.69 335.0,413.81 336.0,413.88 337.0,413.90 338.0,413.87 339.0,413.80 340.0,413.69 341.0,413.54 342.0,413.37 343.0,413.18 344.0,412.97 345.0,412.76 346.0,412.56 347.0,412.37 348.0,412.22 349.0,412.10 350.0,412.02 351.0,412.00 352.0,412.03 353.0,412.10 354.0,412.22 355.0,412.38 356.0,412.56 357.0,412.77 358.0,412.98 359.0,413.20 360.0,413.41 361.0,413.60 362.0,413.77 363.0,413.92 364.0,414.05 365.0,414.16 366.0,414.25 367.0,414.32 368.0,414.37 369.0,414.41 370.0,414.44 371.0,414.46 372.0,414.47 373.0,414.48 374.0,414.49 375.0,414.49 376.0,414.50 377.0,414.50 378.0,414.50 379.0,414.50 380.0,414.50 381.0,414.50 382.0,414.50 383.0,414.50 384.0,414.50 385.0,414.50 386.0,414.50 387.0,414.50 388.0,414.50 389.0,414.50 390.0,414.50 L390.0,414.5 Z" fill="none" stroke="#3b4cc0" stroke-width="1.1" stroke-linejoin="round"/>
<path d="M270.0,414.5 L270.0,414.50 271.0,414.50 272.0,414.50 273.0,414.50 274.0,414.50 275.0,414.50 276.0,414.50 277.0,414.50 278.0,414.50 279.0,414.50 280.0,414.50 281.0,414.50 282.0,414.50 283.0,414.50 284.0,414.50 285.0,414.49 286.0,414.49 287.0,414.48 288.0,414.48 289.0,414.47 290.0,414.45 291.0,414.43 292.0,414.41 293.0,414.37 294.0,414.33 295.0,414.27 296.0,414.20 297.0,414.11 298.0,413.99 299.0,413.85 300.0,413.69 301.0,413.49 302.0,413.26 303.0,413.00 304.0,412.71 305.0,412.39 306.0,412.03 307.0,411.66 308.0,411.26 309.0,410.86 310.0,410.46 311.0,410.07 312.0,409.70 313.0,409.36 314.0,409.06 315.0,408.82 316.0,408.65 317.0,408.54 318.0,408.50 319.0,408.54 320.0,408.65 321.0,408.82 322.0,409.06 323.0,409.36 324.0,409.70 325.0,410.07 326.0,410.46 327.0,410.86 328.0,411.26 329.0,411.66 330.0,412.03 331.0,412.39 332.0,412.71 333.0,413.00 334.0,413.26 335.0,413.49 336.0,413.69 337.0,413.85 338.0,413.99 339.0,414.11 340.0,414.20 341.0,414.27 342.0,414.33 343.0,414.37 344.0,414.41 345.0,414.43 346.0,414.45 347.0,414.47 348.0,414.48 349.0,414.48 350.0,414.49 351.0,414.49 352.0,414.50 353.0,414.50 354.0,414.50 355.0,414.50 356.0,414.50 357.0,414.50 358.0,414.50 359.0,414.50 360.0,414.50 361.0,414.50 362.0,414.50 363.0,414.50 364.0,414.50 365.0,414.50 366.0,414.50 367.0,414.50 368.0,414.50 369.0,414.50 370.0,414.50 371.0,414.50 372.0,414.50 373.0,414.50 374.0,414.50 375.0,414.50 376.0,414.50 377.0,414.50 378.0,414.50 379.0,414.50 380.0,414.50 381.0,414.50 382.0,414.50 383.0,414.50 384.0,414.50 385.0,414.50 386.0,414.50 387.0,414.50 388.0,414.50 389.0,414.50 390.0,414.50 L390.0,414.5 Z" fill="#3b4cc0" fill-opacity="0.25" stroke="none"/>
<path d="M270.0,414.5 L270.0,414.50 271.0,414.50 272.0,414.50 273.0,414.50 274.0,414.50 275.0,414.50 276.0,414.50 277.0,414.50 278.0,414.50 279.0,414.50 280.0,414.50 281.0,414.50 282.0,414.50 283.0,414.50 284.0,414.50 285.0,414.49 286.0,414.49 287.0,414.48 288.0,414.48 289.0,414.47 290.0,414.45 291.0,414.43 292.0,414.41 293.0,414.37 294.0,414.33 295.0,414.27 296.0,414.20 297.0,414.11 298.0,413.99 299.0,413.85 300.0,413.69 301.0,413.49 302.0,413.26 303.0,413.00 304.0,412.71 305.0,412.39 306.0,412.03 307.0,411.66 308.0,411.26 309.0,410.86 310.0,410.46 311.0,410.07 312.0,409.70 313.0,409.36 314.0,409.06 315.0,408.82 316.0,408.65 317.0,408.54 318.0,408.50 319.0,408.54 320.0,408.65 321.0,408.82 322.0,409.06 323.0,409.36 324.0,409.70 325.0,410.07 326.0,410.46 327.0,410.86 328.0,411.26 329.0,411.66 330.0,412.03 331.0,412.39 332.0,412.71 333.0,413.00 334.0,413.26 335.0,413.49 336.0,413.69 337.0,413.85 338.0,413.99 339.0,414.11 340.0,414.20 341.0,414.27 342.0,414.33 343.0,414.37 344.0,414.41 345.0,414.43 346.0,414.45 347.0,414.47 348.0,414.48 349.0,414.48 350.0,414.49 351.0,414.49 352.0,414.50 353.0,414.50 354.0,414.50 355.0,414.50 356.0,414.50 357.0,414.50 358.0,414.50 359.0,414.50 360.0,414.50 361.0,414.50 362.0,414.50 363.0,414.50 364.0,414.50 365.0,414.50 366.0,414.50 367.0,414.50 368.0,414.50 369.0,414.50 370.0,414.50 371.0,414.50 372.0,414.50 373.0,414.50 374.0,414.50 375.0,414.50 376.0,414.50 377.0,414.50 378.0,414.50 379.0,414.50 380.0,414.50 381.0,414.50 382.0,414.50 383.0,414.50 384.0,414.50 385.0,414.50 386.0,414.50 387.0,414.50 388.0,414.50 389.0,414.50 390.0,414.50 L390.0,414.5 Z" fill="none" stroke="#3b4cc0" stroke-width="1.1" stroke-linejoin="round"/>
<path d="M270.0,414.5 L270.0,414.50 271.0,414.50 272.0,414.50 273.0,414.50 274.0,414.50 275.0,414.50 276.0,414.50 277.0,414.50 278.0,414.50 279.0,414.50 280.0,414.50 281.0,414.50 282.0,414.50 283.0,414.50 284.0,414.50 285.0,414.50 286.0,414.49 287.0,414.49 288.0,414.49 289.0,414.48 290.0,414.46 291.0,414.44 292.0,414.42 293.0,414.37 294.0,414.32 295.0,414.24 296.0,414.13 297.0,414.00 298.0,413.82 299.0,413.61 300.0,413.35 301.0,413.05 302.0,412.70 303.0,412.31 304.0,411.90 305.0,411.47 306.0,411.04 307.0,410.62 308.0,410.25 309.0,409.94 310.0,409.69 311.0,409.54 312.0,409.49 313.0,409.53 314.0,409.67 315.0,409.89 316.0,410.18 317.0,410.52 318.0,410.88 319.0,411.25 320.0,411.60 321.0,411.91 322.0,412.16 323.0,412.36 324.0,412.48 325.0,412.53 326.0,412.51 327.0,412.44 328.0,412.31 329.0,412.16 330.0,411.99 331.0,411.83 332.0,411.68 333.0,411.56 334.0,411.49 335.0,411.48 336.0,411.52 337.0,411.61 338.0,411.76 339.0,411.95 340.0,412.17 341.0,412.42 342.0,412.68 343.0,412.94 344.0,413.19 345.0,413.42 346.0,413.63 347.0,413.81 348.0,413.97 349.0,414.09 350.0,414.20 351.0,414.28 352.0,414.34 353.0,414.39 354.0,414.42 355.0,414.45 356.0,414.47 357.0,414.48 358.0,414.49 359.0,414.49 360.0,414.49 361.0,414.50 362.0,414.50 363.0,414.50 364.0,414.50 365.0,414.50 366.0,414.50 367.0,414.50 368.0,414.50 369.0,414.50 370.0,414.50 371.0,414.50 372.0,414.50 373.0,414.50 374.0,414.50 375.0,414.50 376.0,414.50 377.0,414.50 378.0,414.50 379.0,414.50 380.0,414.50 381.0,414.50 382.0,414.50 383.0,414.50 384.0,414.50 385.0,414.50 386.0,414.50 387.0,414.50 388.0,414.50 389.0,414.50 390.0,414.50 L390.0,414.5 Z" fill="#3b4cc0" fill-opacity="0.25" stroke="none"/>
<path d="M270.0,414.5 L270.0,414.50 271.0,414.50 272.0,414.50 273.0,414.50 274.0,414.50 275.0,414.50 276.0,414.50 277.0,414.50 278.0,414.50 279.0,414.50 280.0,414.50 281.0,414.50 282.0,414.50 283.0,414.50 284.0,414.50 285.0,414.50 286.0,414.49 287.0,414.49 288.0,414.49 289.0,414.48 290.0,414.46 291.0,414.44 292.0,414.42 293.0,414.37 294.0,414.32 295.0,414.24 296.0,414.13 297.0,414.00 298.0,413.82 299.0,413.61 300.0,413.35 301.0,413.05 302.0,412.70 303.0,412.31 304.0,411.90 305.0,411.47 306.0,411.04 307.0,410.62 308.0,410.25 309.0,409.94 310.0,409.69 311.0,409.54 312.0,409.49 313.0,409.53 314.0,409.67 315.0,409.89 316.0,410.18 317.0,410.52 318.0,410.88 319.0,411.25 320.0,411.60 321.0,411.91 322.0,412.16 323.0,412.36 324.0,412.48 325.0,412.53 326.0,412.51 327.0,412.44 328.0,412.31 329.0,412.16 330.0,411.99 331.0,411.83 332.0,411.68 333.0,411.56 334.0,411.49 335.0,411.48 336.0,411.52 337.0,411.61 338.0,411.76 339.0,411.95 340.0,412.17 341.0,412.42 342.0,412.68 343.0,412.94 344.0,413.19 345.0,413.42 346.0,413.63 347.0,413.81 348.0,413.97 349.0,414.09 350.0,414.20 351.0,414.28 352.0,414.34 353.0,414.39 354.0,414.42 355.0,414.45 356.0,414.47 357.0,414.48 358.0,414.49 359.0,414.49 360.0,414.49 361.0,414.50 362.0,414.50 363.0,414.50 364.0,414.50 365.0,414.50 366.0,414.50 367.0,414.50 368.0,414.50 369.0,414.50 370.0,414.50 371.0,414.50 372.0,414.50 373.0,414.50 374.0,414.50 375.0,414.50 376.0,414.50 377.0,414.50 378.0,414.50 379.0,414.50 380.0,414.50 381.0,414.50 382.0,414.50 383.0,414.50 384.0,414.50 385.0,414.50 386.0,414.50 387.0,414.50 388.0,414.50 389.0,414.50 390.0,414.50 L390.0,414.5 Z" fill="none" stroke="#3b4cc0" stroke-width="1.1" stroke-linejoin="round"/>
</g>
<g clip-path="url(#c2)">
<path d="M470.0,594.4 L470.0,594.40 471.0,594.40 472.0,594.39 473.0,594.39 474.0,594.39 475.0,594.38 476.0,594.36 477.0,594.34 478.0,594.31 479.0,594.26 480.0,594.18 481.0,594.08 482.0,593.93 483.0,593.72 484.0,593.43 485.0,593.03 486.0,592.49 487.0,591.77 488.0,590.82 489.0,589.58 490.0,587.98 491.0,585.95 492.0,583.42 493.0,580.31 494.0,576.54 495.0,572.06 496.0,566.81 497.0,560.78 498.0,553.98 499.0,546.43 500.0,538.21 501.0,529.41 502.0,520.17 503.0,510.64 504.0,501.00 505.0,491.46 506.0,482.23 507.0,473.55 508.0,465.65 509.0,458.80 510.0,453.21 511.0,449.10 512.0,446.63 513.0,445.88 514.0,446.84 515.0,449.40 516.0,453.32 517.0,458.24 518.0,463.71 519.0,469.20 520.0,474.17 521.0,478.11 522.0,480.57 523.0,481.27 524.0,480.06 525.0,477.03 526.0,472.42 527.0,466.66 528.0,460.32 529.0,454.02 530.0,448.39 531.0,443.97 532.0,441.19 533.0,440.27 534.0,441.21 535.0,443.80 536.0,447.62 537.0,452.11 538.0,456.64 539.0,460.55 540.0,463.27 541.0,464.37 542.0,463.63 543.0,461.06 544.0,456.90 545.0,451.60 546.0,445.79 547.0,440.20 548.0,435.55 549.0,432.55 550.0,431.74 551.0,433.50 552.0,438.00 553.0,445.15 554.0,454.71 555.0,466.22 556.0,479.15 557.0,492.87 558.0,506.79 559.0,520.36 560.0,533.12 561.0,544.73 562.0,554.98 563.0,563.77 564.0,571.09 565.0,577.03 566.0,581.73 567.0,585.35 568.0,588.07 569.0,590.06 570.0,591.49 571.0,592.49 572.0,593.17 573.0,593.63 574.0,593.92 575.0,594.11 576.0,594.23 577.0,594.30 578.0,594.34 579.0,594.37 580.0,594.38 581.0,594.39 582.0,594.40 583.0,594.40 584.0,594.40 585.0,594.40 586.0,594.40 587.0,594.40 588.0,594.40 589.0,594.40 590.0,594.40 L590.0,594.4 Z" fill="#3b4cc0" fill-opacity="0.25" stroke="none"/>
<path d="M470.0,594.4 L470.0,594.40 471.0,594.40 472.0,594.39 473.0,594.39 474.0,594.39 475.0,594.38 476.0,594.36 477.0,594.34 478.0,594.31 479.0,594.26 480.0,594.18 481.0,594.08 482.0,593.93 483.0,593.72 484.0,593.43 485.0,593.03 486.0,592.49 487.0,591.77 488.0,590.82 489.0,589.58 490.0,587.98 491.0,585.95 492.0,583.42 493.0,580.31 494.0,576.54 495.0,572.06 496.0,566.81 497.0,560.78 498.0,553.98 499.0,546.43 500.0,538.21 501.0,529.41 502.0,520.17 503.0,510.64 504.0,501.00 505.0,491.46 506.0,482.23 507.0,473.55 508.0,465.65 509.0,458.80 510.0,453.21 511.0,449.10 512.0,446.63 513.0,445.88 514.0,446.84 515.0,449.40 516.0,453.32 517.0,458.24 518.0,463.71 519.0,469.20 520.0,474.17 521.0,478.11 522.0,480.57 523.0,481.27 524.0,480.06 525.0,477.03 526.0,472.42 527.0,466.66 528.0,460.32 529.0,454.02 530.0,448.39 531.0,443.97 532.0,441.19 533.0,440.27 534.0,441.21 535.0,443.80 536.0,447.62 537.0,452.11 538.0,456.64 539.0,460.55 540.0,463.27 541.0,464.37 542.0,463.63 543.0,461.06 544.0,456.90 545.0,451.60 546.0,445.79 547.0,440.20 548.0,435.55 549.0,432.55 550.0,431.74 551.0,433.50 552.0,438.00 553.0,445.15 554.0,454.71 555.0,466.22 556.0,479.15 557.0,492.87 558.0,506.79 559.0,520.36 560.0,533.12 561.0,544.73 562.0,554.98 563.0,563.77 564.0,571.09 565.0,577.03 566.0,581.73 567.0,585.35 568.0,588.07 569.0,590.06 570.0,591.49 571.0,592.49 572.0,593.17 573.0,593.63 574.0,593.92 575.0,594.11 576.0,594.23 577.0,594.30 578.0,594.34 579.0,594.37 580.0,594.38 581.0,594.39 582.0,594.40 583.0,594.40 584.0,594.40 585.0,594.40 586.0,594.40 587.0,594.40 588.0,594.40 589.0,594.40 590.0,594.40 L590.0,594.4 Z" fill="none" stroke="#3b4cc0" stroke-width="1.3" stroke-linejoin="round"/>
<path d="M444.0,594.4 L444.0,594.40 445.0,594.40 446.0,594.40 447.0,594.40 448.0,594.40 449.0,594.40 450.0,594.40 451.0,594.40 452.0,594.40 453.0,594.40 454.0,594.40 455.0,594.40 456.0,594.40 457.0,594.40 458.0,594.40 459.0,594.40 460.0,594.40 461.0,594.40 462.0,594.40 463.0,594.40 464.0,594.40 465.0,594.40 466.0,594.40 467.0,594.40 468.0,594.40 469.0,594.40 470.0,594.40 471.0,594.40 472.0,594.40 473.0,594.40 474.0,594.40 475.0,594.40 476.0,594.40 477.0,594.40 478.0,594.40 479.0,594.40 480.0,594.40 481.0,594.40 482.0,594.40 483.0,594.40 484.0,594.40 485.0,594.40 486.0,594.40 487.0,594.40 488.0,594.40 489.0,594.40 490.0,594.39 491.0,594.39 492.0,594.38 493.0,594.37 494.0,594.34 495.0,594.30 496.0,594.24 497.0,594.14 498.0,593.98 499.0,593.76 500.0,593.43 501.0,592.98 502.0,592.38 503.0,591.59 504.0,590.59 505.0,589.36 506.0,587.92 507.0,586.27 508.0,584.46 509.0,582.57 510.0,580.68 511.0,578.90 512.0,577.33 513.0,576.09 514.0,575.26 515.0,574.91 516.0,575.06 517.0,575.70 518.0,576.79 519.0,578.24 520.0,579.95 521.0,581.81 522.0,583.71 523.0,585.56 524.0,587.28 525.0,588.81 526.0,590.12 527.0,591.21 528.0,592.09 529.0,592.76 530.0,593.27 531.0,593.64 532.0,593.90 533.0,594.08 534.0,594.20 535.0,594.28 536.0,594.33 537.0,594.36 538.0,594.38 539.0,594.39 540.0,594.39 541.0,594.40 542.0,594.40 543.0,594.40 544.0,594.40 545.0,594.40 546.0,594.40 547.0,594.40 548.0,594.40 549.0,594.40 550.0,594.40 551.0,594.40 552.0,594.40 553.0,594.40 554.0,594.40 555.0,594.40 556.0,594.40 557.0,594.40 558.0,594.40 559.0,594.40 560.0,594.40 561.0,594.40 562.0,594.40 563.0,594.40 564.0,594.40 565.0,594.40 566.0,594.40 567.0,594.40 568.0,594.40 569.0,594.40 570.0,594.40 571.0,594.40 572.0,594.40 573.0,594.40 574.0,594.40 575.0,594.40 576.0,594.40 577.0,594.40 578.0,594.40 579.0,594.40 580.0,594.40 581.0,594.40 582.0,594.40 583.0,594.40 584.0,594.40 585.0,594.40 586.0,594.40 587.0,594.40 588.0,594.40 589.0,594.40 590.0,594.40 591.0,594.40 592.0,594.40 593.0,594.40 594.0,594.40 595.0,594.40 596.0,594.40 597.0,594.40 598.0,594.40 599.0,594.40 600.0,594.40 601.0,594.40 602.0,594.40 603.0,594.40 604.0,594.40 605.0,594.40 606.0,594.40 607.0,594.40 608.0,594.40 609.0,594.40 610.0,594.40 611.0,594.40 612.0,594.40 613.0,594.40 L613.0,594.4 Z" fill="#3b4cc0" fill-opacity="0.25" stroke="none"/>
<path d="M444.0,594.4 L444.0,594.40 445.0,594.40 446.0,594.40 447.0,594.40 448.0,594.40 449.0,594.40 450.0,594.40 451.0,594.40 452.0,594.40 453.0,594.40 454.0,594.40 455.0,594.40 456.0,594.40 457.0,594.40 458.0,594.40 459.0,594.40 460.0,594.40 461.0,594.40 462.0,594.40 463.0,594.40 464.0,594.40 465.0,594.40 466.0,594.40 467.0,594.40 468.0,594.40 469.0,594.40 470.0,594.40 471.0,594.40 472.0,594.40 473.0,594.40 474.0,594.40 475.0,594.40 476.0,594.40 477.0,594.40 478.0,594.40 479.0,594.40 480.0,594.40 481.0,594.40 482.0,594.40 483.0,594.40 484.0,594.40 485.0,594.40 486.0,594.40 487.0,594.40 488.0,594.40 489.0,594.40 490.0,594.39 491.0,594.39 492.0,594.38 493.0,594.37 494.0,594.34 495.0,594.30 496.0,594.24 497.0,594.14 498.0,593.98 499.0,593.76 500.0,593.43 501.0,592.98 502.0,592.38 503.0,591.59 504.0,590.59 505.0,589.36 506.0,587.92 507.0,586.27 508.0,584.46 509.0,582.57 510.0,580.68 511.0,578.90 512.0,577.33 513.0,576.09 514.0,575.26 515.0,574.91 516.0,575.06 517.0,575.70 518.0,576.79 519.0,578.24 520.0,579.95 521.0,581.81 522.0,583.71 523.0,585.56 524.0,587.28 525.0,588.81 526.0,590.12 527.0,591.21 528.0,592.09 529.0,592.76 530.0,593.27 531.0,593.64 532.0,593.90 533.0,594.08 534.0,594.20 535.0,594.28 536.0,594.33 537.0,594.36 538.0,594.38 539.0,594.39 540.0,594.39 541.0,594.40 542.0,594.40 543.0,594.40 544.0,594.40 545.0,594.40 546.0,594.40 547.0,594.40 548.0,594.40 549.0,594.40 550.0,594.40 551.0,594.40 552.0,594.40 553.0,594.40 554.0,594.40 555.0,594.40 556.0,594.40 557.0,594.40 558.0,594.40 559.0,594.40 560.0,594.40 561.0,594.40 562.0,594.40 563.0,594.40 564.0,594.40 565.0,594.40 566.0,594.40 567.0,594.40 568.0,594.40 569.0,594.40 570.0,594.40 571.0,594.40 572.0,594.40 573.0,594.40 574.0,594.40 575.0,594.40 576.0,594.40 577.0,594.40 578.0,594.40 579.0,594.40 580.0,594.40 581.0,594.40 582.0,594.40 583.0,594.40 584.0,594.40 585.0,594.40 586.0,594.40 587.0,594.40 588.0,594.40 589.0,594.40 590.0,594.40 591.0,594.40 592.0,594.40 593.0,594.40 594.0,594.40 595.0,594.40 596.0,594.40 597.0,594.40 598.0,594.40 599.0,594.40 600.0,594.40 601.0,594.40 602.0,594.40 603.0,594.40 604.0,594.40 605.0,594.40 606.0,594.40 607.0,594.40 608.0,594.40 609.0,594.40 610.0,594.40 611.0,594.40 612.0,594.40 613.0,594.40 L613.0,594.4 Z" fill="none" stroke="#3b4cc0" stroke-width="1.1" stroke-linejoin="round"/>
<path d="M444.0,594.4 L444.0,594.40 445.0,594.40 446.0,594.40 447.0,594.40 448.0,594.40 449.0,594.40 450.0,594.40 451.0,594.40 452.0,594.40 453.0,594.40 454.0,594.40 455.0,594.40 456.0,594.40 457.0,594.40 458.0,594.40 459.0,594.40 460.0,594.40 461.0,594.40 462.0,594.40 463.0,594.40 464.0,594.40 465.0,594.40 466.0,594.40 467.0,594.40 468.0,594.40 469.0,594.40 470.0,594.40 471.0,594.40 472.0,594.40 473.0,594.40 474.0,594.40 475.0,594.40 476.0,594.40 477.0,594.40 478.0,594.40 479.0,594.40 480.0,594.40 481.0,594.40 482.0,594.40 483.0,594.40 484.0,594.40 485.0,594.40 486.0,594.40 487.0,594.40 488.0,594.40 489.0,594.40 490.0,594.40 491.0,594.40 492.0,594.39 493.0,594.39 494.0,594.39 495.0,594.38 496.0,594.37 497.0,594.35 498.0,594.33 499.0,594.31 500.0,594.27 501.0,594.21 502.0,594.15 503.0,594.06 504.0,593.94 505.0,593.79 506.0,593.61 507.0,593.38 508.0,593.10 509.0,592.77 510.0,592.38 511.0,591.92 512.0,591.39 513.0,590.79 514.0,590.13 515.0,589.41 516.0,588.63 517.0,587.80 518.0,586.95 519.0,586.08 520.0,585.20 521.0,584.35 522.0,583.52 523.0,582.74 524.0,582.02 525.0,581.37 526.0,580.79 527.0,580.29 528.0,579.85 529.0,579.48 530.0,579.16 531.0,578.88 532.0,578.62 533.0,578.38 534.0,578.14 535.0,577.90 536.0,577.66 537.0,577.42 538.0,577.19 539.0,576.98 540.0,576.80 541.0,576.69 542.0,576.65 543.0,576.71 544.0,576.88 545.0,577.18 546.0,577.60 547.0,578.16 548.0,578.85 549.0,579.66 550.0,580.57 551.0,581.57 552.0,582.62 553.0,583.71 554.0,584.80 555.0,585.89 556.0,586.94 557.0,587.94 558.0,588.87 559.0,589.73 560.0,590.50 561.0,591.18 562.0,591.77 563.0,592.28 564.0,592.72 565.0,593.08 566.0,593.37 567.0,593.61 568.0,593.80 569.0,593.95 570.0,594.07 571.0,594.16 572.0,594.23 573.0,594.28 574.0,594.31 575.0,594.34 576.0,594.36 577.0,594.37 578.0,594.38 579.0,594.39 580.0,594.39 581.0,594.39 582.0,594.40 583.0,594.40 584.0,594.40 585.0,594.40 586.0,594.40 587.0,594.40 588.0,594.40 589.0,594.40 590.0,594.40 591.0,594.40 592.0,594.40 593.0,594.40 594.0,594.40 595.0,594.40 596.0,594.40 597.0,594.40 598.0,594.40 599.0,594.40 600.0,594.40 601.0,594.40 602.0,594.40 603.0,594.40 604.0,594.40 605.0,594.40 606.0,594.40 607.0,594.40 608.0,594.40 609.0,594.40 610.0,594.40 611.0,594.40 612.0,594.40 613.0,594.40 L613.0,594.4 Z" fill="#3b4cc0" fill-opacity="0.25" stroke="none"/>
<path d="M444.0,594.4 L444.0,594.40 445.0,594.40 446.0,594.40 447.0,594.40 448.0,594.40 449.0,594.40 450.0,594.40 451.0,594.40 452.0,594.40 453.0,594.40 454.0,594.40 455.0,594.40 456.0,594.40 457.0,594.40 458.0,594.40 459.0,594.40 460.0,594.40 461.0,594.40 462.0,594.40 463.0,594.40 464.0,594.40 465.0,594.40 466.0,594.40 467.0,594.40 468.0,594.40 469.0,594.40 470.0,594.40 471.0,594.40 472.0,594.40 473.0,594.40 474.0,594.40 475.0,594.40 476.0,594.40 477.0,594.40 478.0,594.40 479.0,594.40 480.0,594.40 481.0,594.40 482.0,594.40 483.0,594.40 484.0,594.40 485.0,594.40 486.0,594.40 487.0,594.40 488.0,594.40 489.0,594.40 490.0,594.40 491.0,594.40 492.0,594.39 493.0,594.39 494.0,594.39 495.0,594.38 496.0,594.37 497.0,594.35 498.0,594.33 499.0,594.31 500.0,594.27 501.0,594.21 502.0,594.15 503.0,594.06 504.0,593.94 505.0,593.79 506.0,593.61 507.0,593.38 508.0,593.10 509.0,592.77 510.0,592.38 511.0,591.92 512.0,591.39 513.0,590.79 514.0,590.13 515.0,589.41 516.0,588.63 517.0,587.80 518.0,586.95 519.0,586.08 520.0,585.20 521.0,584.35 522.0,583.52 523.0,582.74 524.0,582.02 525.0,581.37 526.0,580.79 527.0,580.29 528.0,579.85 529.0,579.48 530.0,579.16 531.0,578.88 532.0,578.62 533.0,578.38 534.0,578.14 535.0,577.90 536.0,577.66 537.0,577.42 538.0,577.19 539.0,576.98 540.0,576.80 541.0,576.69 542.0,576.65 543.0,576.71 544.0,576.88 545.0,577.18 546.0,577.60 547.0,578.16 548.0,578.85 549.0,579.66 550.0,580.57 551.0,581.57 552.0,582.62 553.0,583.71 554.0,584.80 555.0,585.89 556.0,586.94 557.0,587.94 558.0,588.87 559.0,589.73 560.0,590.50 561.0,591.18 562.0,591.77 563.0,592.28 564.0,592.72 565.0,593.08 566.0,593.37 567.0,593.61 568.0,593.80 569.0,593.95 570.0,594.07 571.0,594.16 572.0,594.23 573.0,594.28 574.0,594.31 575.0,594.34 576.0,594.36 577.0,594.37 578.0,594.38 579.0,594.39 580.0,594.39 581.0,594.39 582.0,594.40 583.0,594.40 584.0,594.40 585.0,594.40 586.0,594.40 587.0,594.40 588.0,594.40 589.0,594.40 590.0,594.40 591.0,594.40 592.0,594.40 593.0,594.40 594.0,594.40 595.0,594.40 596.0,594.40 597.0,594.40 598.0,594.40 599.0,594.40 600.0,594.40 601.0,594.40 602.0,594.40 603.0,594.40 604.0,594.40 605.0,594.40 606.0,594.40 607.0,594.40 608.0,594.40 609.0,594.40 610.0,594.40 611.0,594.40 612.0,594.40 613.0,594.40 L613.0,594.4 Z" fill="none" stroke="#3b4cc0" stroke-width="1.1" stroke-linejoin="round"/>
<path d="M444.0,594.4 L444.0,594.40 445.0,594.40 446.0,594.40 447.0,594.40 448.0,594.40 449.0,594.40 450.0,594.40 451.0,594.40 452.0,594.40 453.0,594.40 454.0,594.40 455.0,594.40 456.0,594.40 457.0,594.40 458.0,594.40 459.0,594.40 460.0,594.40 461.0,594.40 462.0,594.40 463.0,594.40 464.0,594.40 465.0,594.40 466.0,594.40 467.0,594.40 468.0,594.40 469.0,594.40 470.0,594.40 471.0,594.40 472.0,594.40 473.0,594.40 474.0,594.40 475.0,594.40 476.0,594.40 477.0,594.40 478.0,594.40 479.0,594.40 480.0,594.40 481.0,594.40 482.0,594.39 483.0,594.39 484.0,594.38 485.0,594.37 486.0,594.36 487.0,594.34 488.0,594.31 489.0,594.27 490.0,594.22 491.0,594.14 492.0,594.05 493.0,593.92 494.0,593.76 495.0,593.56 496.0,593.32 497.0,593.02 498.0,592.67 499.0,592.26 500.0,591.79 501.0,591.28 502.0,590.72 503.0,590.12 504.0,589.50 505.0,588.87 506.0,588.25 507.0,587.66 508.0,587.11 509.0,586.62 510.0,586.21 511.0,585.87 512.0,585.60 513.0,585.42 514.0,585.29 515.0,585.22 516.0,585.17 517.0,585.14 518.0,585.11 519.0,585.05 520.0,584.95 521.0,584.81 522.0,584.63 523.0,584.40 524.0,584.15 525.0,583.89 526.0,583.64 527.0,583.41 528.0,583.23 529.0,583.10 530.0,583.05 531.0,583.06 532.0,583.14 533.0,583.27 534.0,583.45 535.0,583.64 536.0,583.84 537.0,584.02 538.0,584.17 539.0,584.28 540.0,584.35 541.0,584.37 542.0,584.35 543.0,584.32 544.0,584.29 545.0,584.29 546.0,584.32 547.0,584.42 548.0,584.60 549.0,584.87 550.0,585.24 551.0,585.69 552.0,586.23 553.0,586.84 554.0,587.50 555.0,588.19 556.0,588.89 557.0,589.59 558.0,590.26 559.0,590.89 560.0,591.47 561.0,591.99 562.0,592.45 563.0,592.85 564.0,593.18 565.0,593.46 566.0,593.68 567.0,593.86 568.0,594.00 569.0,594.11 570.0,594.19 571.0,594.26 572.0,594.30 573.0,594.33 574.0,594.35 575.0,594.37 576.0,594.38 577.0,594.39 578.0,594.39 579.0,594.40 580.0,594.40 581.0,594.40 582.0,594.40 583.0,594.40 584.0,594.40 585.0,594.40 586.0,594.40 587.0,594.40 588.0,594.40 589.0,594.40 590.0,594.40 591.0,594.40 592.0,594.40 593.0,594.40 594.0,594.40 595.0,594.40 596.0,594.40 597.0,594.40 598.0,594.40 599.0,594.40 600.0,594.40 601.0,594.40 602.0,594.40 603.0,594.40 604.0,594.40 605.0,594.40 606.0,594.40 607.0,594.40 608.0,594.40 609.0,594.40 610.0,594.40 611.0,594.40 612.0,594.40 613.0,594.40 L613.0,594.4 Z" fill="#3b4cc0" fill-opacity="0.25" stroke="none"/>
<path d="M444.0,594.4 L444.0,594.40 445.0,594.40 446.0,594.40 447.0,594.40 448.0,594.40 449.0,594.40 450.0,594.40 451.0,594.40 452.0,594.40 453.0,594.40 454.0,594.40 455.0,594.40 456.0,594.40 457.0,594.40 458.0,594.40 459.0,594.40 460.0,594.40 461.0,594.40 462.0,594.40 463.0,594.40 464.0,594.40 465.0,594.40 466.0,594.40 467.0,594.40 468.0,594.40 469.0,594.40 470.0,594.40 471.0,594.40 472.0,594.40 473.0,594.40 474.0,594.40 475.0,594.40 476.0,594.40 477.0,594.40 478.0,594.40 479.0,594.40 480.0,594.40 481.0,594.40 482.0,594.39 483.0,594.39 484.0,594.38 485.0,594.37 486.0,594.36 487.0,594.34 488.0,594.31 489.0,594.27 490.0,594.22 491.0,594.14 492.0,594.05 493.0,593.92 494.0,593.76 495.0,593.56 496.0,593.32 497.0,593.02 498.0,592.67 499.0,592.26 500.0,591.79 501.0,591.28 502.0,590.72 503.0,590.12 504.0,589.50 505.0,588.87 506.0,588.25 507.0,587.66 508.0,587.11 509.0,586.62 510.0,586.21 511.0,585.87 512.0,585.60 513.0,585.42 514.0,585.29 515.0,585.22 516.0,585.17 517.0,585.14 518.0,585.11 519.0,585.05 520.0,584.95 521.0,584.81 522.0,584.63 523.0,584.40 524.0,584.15 525.0,583.89 526.0,583.64 527.0,583.41 528.0,583.23 529.0,583.10 530.0,583.05 531.0,583.06 532.0,583.14 533.0,583.27 534.0,583.45 535.0,583.64 536.0,583.84 537.0,584.02 538.0,584.17 539.0,584.28 540.0,584.35 541.0,584.37 542.0,584.35 543.0,584.32 544.0,584.29 545.0,584.29 546.0,584.32 547.0,584.42 548.0,584.60 549.0,584.87 550.0,585.24 551.0,585.69 552.0,586.23 553.0,586.84 554.0,587.50 555.0,588.19 556.0,588.89 557.0,589.59 558.0,590.26 559.0,590.89 560.0,591.47 561.0,591.99 562.0,592.45 563.0,592.85 564.0,593.18 565.0,593.46 566.0,593.68 567.0,593.86 568.0,594.00 569.0,594.11 570.0,594.19 571.0,594.26 572.0,594.30 573.0,594.33 574.0,594.35 575.0,594.37 576.0,594.38 577.0,594.39 578.0,594.39 579.0,594.40 580.0,594.40 581.0,594.40 582.0,594.40 583.0,594.40 584.0,594.40 585.0,594.40 586.0,594.40 587.0,594.40 588.0,594.40 589.0,594.40 590.0,594.40 591.0,594.40 592.0,594.40 593.0,594.40 594.0,594.40 595.0,594.40 596.0,594.40 597.0,594.40 598.0,594.40 599.0,594.40 600.0,594.40 601.0,594.40 602.0,594.40 603.0,594.40 604.0,594.40 605.0,594.40 606.0,594.40 607.0,594.40 608.0,594.40 609.0,594.40 610.0,594.40 611.0,594.40 612.0,594.40 613.0,594.40 L613.0,594.4 Z" fill="none" stroke="#3b4cc0" stroke-width="1.1" stroke-linejoin="round"/>
<path d="M444.0,594.4 L444.0,594.40 445.0,594.40 446.0,594.40 447.0,594.40 448.0,594.40 449.0,594.40 450.0,594.40 451.0,594.40 452.0,594.40 453.0,594.40 454.0,594.40 455.0,594.40 456.0,594.40 457.0,594.40 458.0,594.40 459.0,594.40 460.0,594.40 461.0,594.40 462.0,594.40 463.0,594.40 464.0,594.40 465.0,594.40 466.0,594.40 467.0,594.40 468.0,594.40 469.0,594.40 470.0,594.40 471.0,594.40 472.0,594.40 473.0,594.40 474.0,594.40 475.0,594.40 476.0,594.40 477.0,594.39 478.0,594.39 479.0,594.38 480.0,594.38 481.0,594.37 482.0,594.35 483.0,594.33 484.0,594.31 485.0,594.27 486.0,594.23 487.0,594.17 488.0,594.10 489.0,594.01 490.0,593.89 491.0,593.75 492.0,593.59 493.0,593.39 494.0,593.16 495.0,592.90 496.0,592.61 497.0,592.28 498.0,591.93 499.0,591.55 500.0,591.16 501.0,590.75 502.0,590.35 503.0,589.95 504.0,589.57 505.0,589.23 506.0,588.92 507.0,588.66 508.0,588.46 509.0,588.31 510.0,588.23 511.0,588.21 512.0,588.24 513.0,588.32 514.0,588.44 515.0,588.58 516.0,588.73 517.0,588.88 518.0,589.01 519.0,589.10 520.0,589.15 521.0,589.15 522.0,589.08 523.0,588.95 524.0,588.76 525.0,588.50 526.0,588.19 527.0,587.83 528.0,587.45 529.0,587.04 530.0,586.63 531.0,586.23 532.0,585.85 533.0,585.50 534.0,585.20 535.0,584.93 536.0,584.71 537.0,584.53 538.0,584.40 539.0,584.30 540.0,584.23 541.0,584.19 542.0,584.16 543.0,584.15 544.0,584.15 545.0,584.17 546.0,584.20 547.0,584.25 548.0,584.33 549.0,584.45 550.0,584.60 551.0,584.80 552.0,585.06 553.0,585.37 554.0,585.73 555.0,586.16 556.0,586.63 557.0,587.14 558.0,587.69 559.0,588.26 560.0,588.84 561.0,589.42 562.0,590.00 563.0,590.55 564.0,591.07 565.0,591.55 566.0,591.99 567.0,592.39 568.0,592.74 569.0,593.05 570.0,593.31 571.0,593.54 572.0,593.72 573.0,593.87 574.0,594.00 575.0,594.09 576.0,594.17 577.0,594.23 578.0,594.28 579.0,594.31 580.0,594.34 581.0,594.36 582.0,594.37 583.0,594.38 584.0,594.39 585.0,594.39 586.0,594.39 587.0,594.40 588.0,594.40 589.0,594.40 590.0,594.40 591.0,594.40 592.0,594.40 593.0,594.40 594.0,594.40 595.0,594.40 596.0,594.40 597.0,594.40 598.0,594.40 599.0,594.40 600.0,594.40 601.0,594.40 602.0,594.40 603.0,594.40 604.0,594.40 605.0,594.40 606.0,594.40 607.0,594.40 608.0,594.40 609.0,594.40 610.0,594.40 611.0,594.40 612.0,594.40 613.0,594.40 L613.0,594.4 Z" fill="#3b4cc0" fill-opacity="0.25" stroke="none"/>
<path d="M444.0,594.4 L444.0,594.40 445.0,594.40 446.0,594.40 447.0,594.40 448.0,594.40 449.0,594.40 450.0,594.40 451.0,594.40 452.0,594.40 453.0,594.40 454.0,594.40 455.0,594.40 456.0,594.40 457.0,594.40 458.0,594.40 459.0,594.40 460.0,594.40 461.0,594.40 462.0,594.40 463.0,594.40 464.0,594.40 465.0,594.40 466.0,594.40 467.0,594.40 468.0,594.40 469.0,594.40 470.0,594.40 471.0,594.40 472.0,594.40 473.0,594.40 474.0,594.40 475.0,594.40 476.0,594.40 477.0,594.39 478.0,594.39 479.0,594.38 480.0,594.38 481.0,594.37 482.0,594.35 483.0,594.33 484.0,594.31 485.0,594.27 486.0,594.23 487.0,594.17 488.0,594.10 489.0,594.01 490.0,593.89 491.0,593.75 492.0,593.59 493.0,593.39 494.0,593.16 495.0,592.90 496.0,592.61 497.0,592.28 498.0,591.93 499.0,591.55 500.0,591.16 501.0,590.75 502.0,590.35 503.0,589.95 504.0,589.57 505.0,589.23 506.0,588.92 507.0,588.66 508.0,588.46 509.0,588.31 510.0,588.23 511.0,588.21 512.0,588.24 513.0,588.32 514.0,588.44 515.0,588.58 516.0,588.73 517.0,588.88 518.0,589.01 519.0,589.10 520.0,589.15 521.0,589.15 522.0,589.08 523.0,588.95 524.0,588.76 525.0,588.50 526.0,588.19 527.0,587.83 528.0,587.45 529.0,587.04 530.0,586.63 531.0,586.23 532.0,585.85 533.0,585.50 534.0,585.20 535.0,584.93 536.0,584.71 537.0,584.53 538.0,584.40 539.0,584.30 540.0,584.23 541.0,584.19 542.0,584.16 543.0,584.15 544.0,584.15 545.0,584.17 546.0,584.20 547.0,584.25 548.0,584.33 549.0,584.45 550.0,584.60 551.0,584.80 552.0,585.06 553.0,585.37 554.0,585.73 555.0,586.16 556.0,586.63 557.0,587.14 558.0,587.69 559.0,588.26 560.0,588.84 561.0,589.42 562.0,590.00 563.0,590.55 564.0,591.07 565.0,591.55 566.0,591.99 567.0,592.39 568.0,592.74 569.0,593.05 570.0,593.31 571.0,593.54 572.0,593.72 573.0,593.87 574.0,594.00 575.0,594.09 576.0,594.17 577.0,594.23 578.0,594.28 579.0,594.31 580.0,594.34 581.0,594.36 582.0,594.37 583.0,594.38 584.0,594.39 585.0,594.39 586.0,594.39 587.0,594.40 588.0,594.40 589.0,594.40 590.0,594.40 591.0,594.40 592.0,594.40 593.0,594.40 594.0,594.40 595.0,594.40 596.0,594.40 597.0,594.40 598.0,594.40 599.0,594.40 600.0,594.40 601.0,594.40 602.0,594.40 603.0,594.40 604.0,594.40 605.0,594.40 606.0,594.40 607.0,594.40 608.0,594.40 609.0,594.40 610.0,594.40 611.0,594.40 612.0,594.40 613.0,594.40 L613.0,594.4 Z" fill="none" stroke="#3b4cc0" stroke-width="1.1" stroke-linejoin="round"/>
<path d="M444.0,594.4 L444.0,594.40 445.0,594.40 446.0,594.40 447.0,594.40 448.0,594.40 449.0,594.40 450.0,594.40 451.0,594.40 452.0,594.40 453.0,594.40 454.0,594.40 455.0,594.40 456.0,594.40 457.0,594.40 458.0,594.40 459.0,594.40 460.0,594.40 461.0,594.40 462.0,594.40 463.0,594.40 464.0,594.40 465.0,594.40 466.0,594.40 467.0,594.40 468.0,594.40 469.0,594.40 470.0,594.40 471.0,594.40 472.0,594.40 473.0,594.40 474.0,594.40 475.0,594.40 476.0,594.40 477.0,594.40 478.0,594.40 479.0,594.40 480.0,594.40 481.0,594.40 482.0,594.40 483.0,594.40 484.0,594.39 485.0,594.39 486.0,594.39 487.0,594.38 488.0,594.37 489.0,594.36 490.0,594.34 491.0,594.32 492.0,594.29 493.0,594.25 494.0,594.20 495.0,594.13 496.0,594.05 497.0,593.94 498.0,593.81 499.0,593.65 500.0,593.45 501.0,593.22 502.0,592.96 503.0,592.65 504.0,592.31 505.0,591.93 506.0,591.52 507.0,591.07 508.0,590.61 509.0,590.13 510.0,589.65 511.0,589.18 512.0,588.72 513.0,588.30 514.0,587.92 515.0,587.59 516.0,587.31 517.0,587.10 518.0,586.95 519.0,586.85 520.0,586.81 521.0,586.81 522.0,586.84 523.0,586.89 524.0,586.94 525.0,586.98 526.0,587.00 527.0,586.98 528.0,586.92 529.0,586.82 530.0,586.67 531.0,586.47 532.0,586.25 533.0,586.00 534.0,585.75 535.0,585.51 536.0,585.30 537.0,585.13 538.0,585.03 539.0,585.00 540.0,585.05 541.0,585.19 542.0,585.42 543.0,585.74 544.0,586.14 545.0,586.61 546.0,587.14 547.0,587.71 548.0,588.31 549.0,588.92 550.0,589.53 551.0,590.13 552.0,590.69 553.0,591.23 554.0,591.71 555.0,592.15 556.0,592.55 557.0,592.89 558.0,593.18 559.0,593.43 560.0,593.64 561.0,593.81 562.0,593.95 563.0,594.06 564.0,594.14 565.0,594.21 566.0,594.26 567.0,594.30 568.0,594.33 569.0,594.35 570.0,594.37 571.0,594.38 572.0,594.38 573.0,594.39 574.0,594.39 575.0,594.40 576.0,594.40 577.0,594.40 578.0,594.40 579.0,594.40 580.0,594.40 581.0,594.40 582.0,594.40 583.0,594.40 584.0,594.40 585.0,594.40 586.0,594.40 587.0,594.40 588.0,594.40 589.0,594.40 590.0,594.40 591.0,594.40 592.0,594.40 593.0,594.40 594.0,594.40 595.0,594.40 596.0,594.40 597.0,594.40 598.0,594.40 599.0,594.40 600.0,594.40 601.0,594.40 602.0,594.40 603.0,594.40 604.0,594.40 605.0,594.40 606.0,594.40 607.0,594.40 608.0,594.40 609.0,594.40 610.0,594.40 611.0,594.40 612.0,594.40 613.0,594.40 L613.0,594.4 Z" fill="#3b4cc0" fill-opacity="0.25" stroke="none"/>
<path d="M444.0,594.4 L444.0,594.40 445.0,594.40 446.0,594.40 447.0,594.40 448.0,594.40 449.0,594.40 450.0,594.40 451.0,594.40 452.0,594.40 453.0,594.40 454.0,594.40 455.0,594.40 456.0,594.40 457.0,594.40 458.0,594.40 459.0,594.40 460.0,594.40 461.0,594.40 462.0,594.40 463.0,594.40 464.0,594.40 465.0,594.40 466.0,594.40 467.0,594.40 468.0,594.40 469.0,594.40 470.0,594.40 471.0,594.40 472.0,594.40 473.0,594.40 474.0,594.40 475.0,594.40 476.0,594.40 477.0,594.40 478.0,594.40 479.0,594.40 480.0,594.40 481.0,594.40 482.0,594.40 483.0,594.40 484.0,594.39 485.0,594.39 486.0,594.39 487.0,594.38 488.0,594.37 489.0,594.36 490.0,594.34 491.0,594.32 492.0,594.29 493.0,594.25 494.0,594.20 495.0,594.13 496.0,594.05 497.0,593.94 498.0,593.81 499.0,593.65 500.0,593.45 501.0,593.22 502.0,592.96 503.0,592.65 504.0,592.31 505.0,591.93 506.0,591.52 507.0,591.07 508.0,590.61 509.0,590.13 510.0,589.65 511.0,589.18 512.0,588.72 513.0,588.30 514.0,587.92 515.0,587.59 516.0,587.31 517.0,587.10 518.0,586.95 519.0,586.85 520.0,586.81 521.0,586.81 522.0,586.84 523.0,586.89 524.0,586.94 525.0,586.98 526.0,587.00 527.0,586.98 528.0,586.92 529.0,586.82 530.0,586.67 531.0,586.47 532.0,586.25 533.0,586.00 534.0,585.75 535.0,585.51 536.0,585.30 537.0,585.13 538.0,585.03 539.0,585.00 540.0,585.05 541.0,585.19 542.0,585.42 543.0,585.74 544.0,586.14 545.0,586.61 546.0,587.14 547.0,587.71 548.0,588.31 549.0,588.92 550.0,589.53 551.0,590.13 552.0,590.69 553.0,591.23 554.0,591.71 555.0,592.15 556.0,592.55 557.0,592.89 558.0,593.18 559.0,593.43 560.0,593.64 561.0,593.81 562.0,593.95 563.0,594.06 564.0,594.14 565.0,594.21 566.0,594.26 567.0,594.30 568.0,594.33 569.0,594.35 570.0,594.37 571.0,594.38 572.0,594.38 573.0,594.39 574.0,594.39 575.0,594.40 576.0,594.40 577.0,594.40 578.0,594.40 579.0,594.40 580.0,594.40 581.0,594.40 582.0,594.40 583.0,594.40 584.0,594.40 585.0,594.40 586.0,594.40 587.0,594.40 588.0,594.40 589.0,594.40 590.0,594.40 591.0,594.40 592.0,594.40 593.0,594.40 594.0,594.40 595.0,594.40 596.0,594.40 597.0,594.40 598.0,594.40 599.0,594.40 600.0,594.40 601.0,594.40 602.0,594.40 603.0,594.40 604.0,594.40 605.0,594.40 606.0,594.40 607.0,594.40 608.0,594.40 609.0,594.40 610.0,594.40 611.0,594.40 612.0,594.40 613.0,594.40 L613.0,594.4 Z" fill="none" stroke="#3b4cc0" stroke-width="1.1" stroke-linejoin="round"/>
<path d="M444.0,594.4 L444.0,594.40 445.0,594.40 446.0,594.40 447.0,594.40 448.0,594.40 449.0,594.40 450.0,594.40 451.0,594.40 452.0,594.40 453.0,594.40 454.0,594.40 455.0,594.40 456.0,594.40 457.0,594.40 458.0,594.40 459.0,594.40 460.0,594.40 461.0,594.40 462.0,594.40 463.0,594.40 464.0,594.40 465.0,594.40 466.0,594.40 467.0,594.40 468.0,594.40 469.0,594.40 470.0,594.40 471.0,594.40 472.0,594.40 473.0,594.40 474.0,594.40 475.0,594.40 476.0,594.40 477.0,594.40 478.0,594.40 479.0,594.40 480.0,594.40 481.0,594.40 482.0,594.40 483.0,594.40 484.0,594.40 485.0,594.40 486.0,594.40 487.0,594.40 488.0,594.39 489.0,594.39 490.0,594.39 491.0,594.38 492.0,594.38 493.0,594.37 494.0,594.36 495.0,594.34 496.0,594.33 497.0,594.30 498.0,594.27 499.0,594.23 500.0,594.18 501.0,594.12 502.0,594.04 503.0,593.96 504.0,593.85 505.0,593.72 506.0,593.58 507.0,593.41 508.0,593.22 509.0,593.01 510.0,592.77 511.0,592.52 512.0,592.24 513.0,591.95 514.0,591.65 515.0,591.34 516.0,591.02 517.0,590.71 518.0,590.41 519.0,590.12 520.0,589.85 521.0,589.60 522.0,589.38 523.0,589.19 524.0,589.03 525.0,588.90 526.0,588.80 527.0,588.73 528.0,588.67 529.0,588.63 530.0,588.60 531.0,588.57 532.0,588.54 533.0,588.50 534.0,588.44 535.0,588.36 536.0,588.26 537.0,588.14 538.0,588.01 539.0,587.85 540.0,587.69 541.0,587.53 542.0,587.37 543.0,587.23 544.0,587.12 545.0,587.03 546.0,586.99 547.0,586.99 548.0,587.04 549.0,587.15 550.0,587.32 551.0,587.54 552.0,587.81 553.0,588.12 554.0,588.48 555.0,588.87 556.0,589.28 557.0,589.70 558.0,590.13 559.0,590.56 560.0,590.98 561.0,591.39 562.0,591.77 563.0,592.12 564.0,592.45 565.0,592.75 566.0,593.01 567.0,593.25 568.0,593.45 569.0,593.63 570.0,593.78 571.0,593.90 572.0,594.01 573.0,594.09 574.0,594.16 575.0,594.22 576.0,594.26 577.0,594.30 578.0,594.32 579.0,594.34 580.0,594.36 581.0,594.37 582.0,594.38 583.0,594.38 584.0,594.39 585.0,594.39 586.0,594.39 587.0,594.40 588.0,594.40 589.0,594.40 590.0,594.40 591.0,594.40 592.0,594.40 593.0,594.40 594.0,594.40 595.0,594.40 596.0,594.40 597.0,594.40 598.0,594.40 599.0,594.40 600.0,594.40 601.0,594.40 602.0,594.40 603.0,594.40 604.0,594.40 605.0,594.40 606.0,594.40 607.0,594.40 608.0,594.40 609.0,594.40 610.0,594.40 611.0,594.40 612.0,594.40 613.0,594.40 L613.0,594.4 Z" fill="#3b4cc0" fill-opacity="0.25" stroke="none"/>
<path d="M444.0,594.4 L444.0,594.40 445.0,594.40 446.0,594.40 447.0,594.40 448.0,594.40 449.0,594.40 450.0,594.40 451.0,594.40 452.0,594.40 453.0,594.40 454.0,594.40 455.0,594.40 456.0,594.40 457.0,594.40 458.0,594.40 459.0,594.40 460.0,594.40 461.0,594.40 462.0,594.40 463.0,594.40 464.0,594.40 465.0,594.40 466.0,594.40 467.0,594.40 468.0,594.40 469.0,594.40 470.0,594.40 471.0,594.40 472.0,594.40 473.0,594.40 474.0,594.40 475.0,594.40 476.0,594.40 477.0,594.40 478.0,594.40 479.0,594.40 480.0,594.40 481.0,594.40 482.0,594.40 483.0,594.40 484.0,594.40 485.0,594.40 486.0,594.40 487.0,594.40 488.0,594.39 489.0,594.39 490.0,594.39 491.0,594.38 492.0,594.38 493.0,594.37 494.0,594.36 495.0,594.34 496.0,594.33 497.0,594.30 498.0,594.27 499.0,594.23 500.0,594.18 501.0,594.12 502.0,594.04 503.0,593.96 504.0,593.85 505.0,593.72 506.0,593.58 507.0,593.41 508.0,593.22 509.0,593.01 510.0,592.77 511.0,592.52 512.0,592.24 513.0,591.95 514.0,591.65 515.0,591.34 516.0,591.02 517.0,590.71 518.0,590.41 519.0,590.12 520.0,589.85 521.0,589.60 522.0,589.38 523.0,589.19 524.0,589.03 525.0,588.90 526.0,588.80 527.0,588.73 528.0,588.67 529.0,588.63 530.0,588.60 531.0,588.57 532.0,588.54 533.0,588.50 534.0,588.44 535.0,588.36 536.0,588.26 537.0,588.14 538.0,588.01 539.0,587.85 540.0,587.69 541.0,587.53 542.0,587.37 543.0,587.23 544.0,587.12 545.0,587.03 546.0,586.99 547.0,586.99 548.0,587.04 549.0,587.15 550.0,587.32 551.0,587.54 552.0,587.81 553.0,588.12 554.0,588.48 555.0,588.87 556.0,589.28 557.0,589.70 558.0,590.13 559.0,590.56 560.0,590.98 561.0,591.39 562.0,591.77 563.0,592.12 564.0,592.45 565.0,592.75 566.0,593.01 567.0,593.25 568.0,593.45 569.0,593.63 570.0,593.78 571.0,593.90 572.0,594.01 573.0,594.09 574.0,594.16 575.0,594.22 576.0,594.26 577.0,594.30 578.0,594.32 579.0,594.34 580.0,594.36 581.0,594.37 582.0,594.38 583.0,594.38 584.0,594.39 585.0,594.39 586.0,594.39 587.0,594.40 588.0,594.40 589.0,594.40 590.0,594.40 591.0,594.40 592.0,594.40 593.0,594.40 594.0,594.40 595.0,594.40 596.0,594.40 597.0,594.40 598.0,594.40 599.0,594.40 600.0,594.40 601.0,594.40 602.0,594.40 603.0,594.40 604.0,594.40 605.0,594.40 606.0,594.40 607.0,594.40 608.0,594.40 609.0,594.40 610.0,594.40 611.0,594.40 612.0,594.40 613.0,594.40 L613.0,594.4 Z" fill="none" stroke="#3b4cc0" stroke-width="1.1" stroke-linejoin="round"/>
<path d="M444.0,594.4 L444.0,594.40 445.0,594.40 446.0,594.40 447.0,594.40 448.0,594.40 449.0,594.40 450.0,594.40 451.0,594.40 452.0,594.40 453.0,594.40 454.0,594.40 455.0,594.40 456.0,594.40 457.0,594.40 458.0,594.40 459.0,594.40 460.0,594.40 461.0,594.40 462.0,594.40 463.0,594.40 464.0,594.40 465.0,594.40 466.0,594.40 467.0,594.40 468.0,594.40 469.0,594.40 470.0,594.40 471.0,594.40 472.0,594.40 473.0,594.40 474.0,594.40 475.0,594.40 476.0,594.40 477.0,594.40 478.0,594.40 479.0,594.40 480.0,594.40 481.0,594.40 482.0,594.40 483.0,594.40 484.0,594.40 485.0,594.40 486.0,594.40 487.0,594.39 488.0,594.39 489.0,594.38 490.0,594.37 491.0,594.36 492.0,594.34 493.0,594.30 494.0,594.25 495.0,594.17 496.0,594.07 497.0,593.93 498.0,593.74 499.0,593.49 500.0,593.18 501.0,592.80 502.0,592.33 503.0,591.78 504.0,591.15 505.0,590.46 506.0,589.71 507.0,588.93 508.0,588.15 509.0,587.40 510.0,586.71 511.0,586.12 512.0,585.66 513.0,585.34 514.0,585.18 515.0,585.18 516.0,585.32 517.0,585.59 518.0,585.94 519.0,586.36 520.0,586.79 521.0,587.20 522.0,587.55 523.0,587.84 524.0,588.03 525.0,588.14 526.0,588.17 527.0,588.15 528.0,588.09 529.0,588.02 530.0,587.98 531.0,587.99 532.0,588.07 533.0,588.23 534.0,588.49 535.0,588.83 536.0,589.24 537.0,589.71 538.0,590.22 539.0,590.75 540.0,591.27 541.0,591.77 542.0,592.23 543.0,592.65 544.0,593.02 545.0,593.33 546.0,593.59 547.0,593.80 548.0,593.96 549.0,594.09 550.0,594.18 551.0,594.25 552.0,594.30 553.0,594.33 554.0,594.36 555.0,594.37 556.0,594.38 557.0,594.39 558.0,594.39 559.0,594.40 560.0,594.40 561.0,594.40 562.0,594.40 563.0,594.40 564.0,594.40 565.0,594.40 566.0,594.40 567.0,594.40 568.0,594.40 569.0,594.40 570.0,594.40 571.0,594.40 572.0,594.40 573.0,594.40 574.0,594.40 575.0,594.40 576.0,594.40 577.0,594.40 578.0,594.40 579.0,594.40 580.0,594.40 581.0,594.40 582.0,594.40 583.0,594.40 584.0,594.40 585.0,594.40 586.0,594.40 587.0,594.40 588.0,594.40 589.0,594.40 590.0,594.40 591.0,594.40 592.0,594.40 593.0,594.40 594.0,594.40 595.0,594.40 596.0,594.40 597.0,594.40 598.0,594.40 599.0,594.40 600.0,594.40 601.0,594.40 602.0,594.40 603.0,594.40 604.0,594.40 605.0,594.40 606.0,594.40 607.0,594.40 608.0,594.40 609.0,594.40 610.0,594.40 611.0,594.40 612.0,594.40 613.0,594.40 L613.0,594.4 Z" fill="#3b4cc0" fill-opacity="0.25" stroke="none"/>
<path d="M444.0,594.4 L444.0,594.40 445.0,594.40 446.0,594.40 447.0,594.40 448.0,594.40 449.0,594.40 450.0,594.40 451.0,594.40 452.0,594.40 453.0,594.40 454.0,594.40 455.0,594.40 456.0,594.40 457.0,594.40 458.0,594.40 459.0,594.40 460.0,594.40 461.0,594.40 462.0,594.40 463.0,594.40 464.0,594.40 465.0,594.40 466.0,594.40 467.0,594.40 468.0,594.40 469.0,594.40 470.0,594.40 471.0,594.40 472.0,594.40 473.0,594.40 474.0,594.40 475.0,594.40 476.0,594.40 477.0,594.40 478.0,594.40 479.0,594.40 480.0,594.40 481.0,594.40 482.0,594.40 483.0,594.40 484.0,594.40 485.0,594.40 486.0,594.40 487.0,594.39 488.0,594.39 489.0,594.38 490.0,594.37 491.0,594.36 492.0,594.34 493.0,594.30 494.0,594.25 495.0,594.17 496.0,594.07 497.0,593.93 498.0,593.74 499.0,593.49 500.0,593.18 501.0,592.80 502.0,592.33 503.0,591.78 504.0,591.15 505.0,590.46 506.0,589.71 507.0,588.93 508.0,588.15 509.0,587.40 510.0,586.71 511.0,586.12 512.0,585.66 513.0,585.34 514.0,585.18 515.0,585.18 516.0,585.32 517.0,585.59 518.0,585.94 519.0,586.36 520.0,586.79 521.0,587.20 522.0,587.55 523.0,587.84 524.0,588.03 525.0,588.14 526.0,588.17 527.0,588.15 528.0,588.09 529.0,588.02 530.0,587.98 531.0,587.99 532.0,588.07 533.0,588.23 534.0,588.49 535.0,588.83 536.0,589.24 537.0,589.71 538.0,590.22 539.0,590.75 540.0,591.27 541.0,591.77 542.0,592.23 543.0,592.65 544.0,593.02 545.0,593.33 546.0,593.59 547.0,593.80 548.0,593.96 549.0,594.09 550.0,594.18 551.0,594.25 552.0,594.30 553.0,594.33 554.0,594.36 555.0,594.37 556.0,594.38 557.0,594.39 558.0,594.39 559.0,594.40 560.0,594.40 561.0,594.40 562.0,594.40 563.0,594.40 564.0,594.40 565.0,594.40 566.0,594.40 567.0,594.40 568.0,594.40 569.0,594.40 570.0,594.40 571.0,594.40 572.0,594.40 573.0,594.40 574.0,594.40 575.0,594.40 576.0,594.40 577.0,594.40 578.0,594.40 579.0,594.40 580.0,594.40 581.0,594.40 582.0,594.40 583.0,594.40 584.0,594.40 585.0,594.40 586.0,594.40 587.0,594.40 588.0,594.40 589.0,594.40 590.0,594.40 591.0,594.40 592.0,594.40 593.0,594.40 594.0,594.40 595.0,594.40 596.0,594.40 597.0,594.40 598.0,594.40 599.0,594.40 600.0,594.40 601.0,594.40 602.0,594.40 603.0,594.40 604.0,594.40 605.0,594.40 606.0,594.40 607.0,594.40 608.0,594.40 609.0,594.40 610.0,594.40 611.0,594.40 612.0,594.40 613.0,594.40 L613.0,594.4 Z" fill="none" stroke="#3b4cc0" stroke-width="1.1" stroke-linejoin="round"/>
<path d="M444.0,594.4 L444.0,594.40 445.0,594.40 446.0,594.40 447.0,594.40 448.0,594.40 449.0,594.40 450.0,594.40 451.0,594.40 452.0,594.40 453.0,594.40 454.0,594.40 455.0,594.40 456.0,594.40 457.0,594.40 458.0,594.40 459.0,594.40 460.0,594.40 461.0,594.40 462.0,594.40 463.0,594.40 464.0,594.40 465.0,594.40 466.0,594.40 467.0,594.40 468.0,594.40 469.0,594.39 470.0,594.39 471.0,594.39 472.0,594.39 473.0,594.39 474.0,594.38 475.0,594.38 476.0,594.37 477.0,594.36 478.0,594.36 479.0,594.35 480.0,594.33 481.0,594.32 482.0,594.30 483.0,594.28 484.0,594.25 485.0,594.22 486.0,594.19 487.0,594.15 488.0,594.11 489.0,594.05 490.0,594.00 491.0,593.93 492.0,593.85 493.0,593.77 494.0,593.68 495.0,593.58 496.0,593.47 497.0,593.35 498.0,593.22 499.0,593.08 500.0,592.93 501.0,592.77 502.0,592.61 503.0,592.43 504.0,592.25 505.0,592.06 506.0,591.87 507.0,591.68 508.0,591.48 509.0,591.28 510.0,591.08 511.0,590.88 512.0,590.69 513.0,590.50 514.0,590.32 515.0,590.14 516.0,589.97 517.0,589.81 518.0,589.66 519.0,589.52 520.0,589.38 521.0,589.26 522.0,589.14 523.0,589.04 524.0,588.94 525.0,588.84 526.0,588.76 527.0,588.68 528.0,588.61 529.0,588.54 530.0,588.48 531.0,588.43 532.0,588.38 533.0,588.34 534.0,588.30 535.0,588.27 536.0,588.25 537.0,588.24 538.0,588.24 539.0,588.25 540.0,588.27 541.0,588.30 542.0,588.35 543.0,588.41 544.0,588.49 545.0,588.59 546.0,588.70 547.0,588.83 548.0,588.97 549.0,589.13 550.0,589.31 551.0,589.49 552.0,589.69 553.0,589.90 554.0,590.12 555.0,590.35 556.0,590.58 557.0,590.82 558.0,591.05 559.0,591.28 560.0,591.52 561.0,591.74 562.0,591.96 563.0,592.18 564.0,592.38 565.0,592.57 566.0,592.76 567.0,592.93 568.0,593.09 569.0,593.24 570.0,593.38 571.0,593.50 572.0,593.62 573.0,593.72 574.0,593.81 575.0,593.89 576.0,593.97 577.0,594.03 578.0,594.09 579.0,594.14 580.0,594.18 581.0,594.22 582.0,594.25 583.0,594.27 584.0,594.30 585.0,594.32 586.0,594.33 587.0,594.34 588.0,594.36 589.0,594.36 590.0,594.37 591.0,594.38 592.0,594.38 593.0,594.39 594.0,594.39 595.0,594.39 596.0,594.39 597.0,594.39 598.0,594.40 599.0,594.40 600.0,594.40 601.0,594.40 602.0,594.40 603.0,594.40 604.0,594.40 605.0,594.40 606.0,594.40 607.0,594.40 608.0,594.40 609.0,594.40 610.0,594.40 611.0,594.40 612.0,594.40 613.0,594.40 L613.0,594.4 Z" fill="#3b4cc0" fill-opacity="0.25" stroke="none"/>
<path d="M444.0,594.4 L444.0,594.40 445.0,594.40 446.0,594.40 447.0,594.40 448.0,594.40 449.0,594.40 450.0,594.40 451.0,594.40 452.0,594.40 453.0,594.40 454.0,594.40 455.0,594.40 456.0,594.40 457.0,594.40 458.0,594.40 459.0,594.40 460.0,594.40 461.0,594.40 462.0,594.40 463.0,594.40 464.0,594.40 465.0,594.40 466.0,594.40 467.0,594.40 468.0,594.40 469.0,594.39 470.0,594.39 471.0,594.39 472.0,594.39 473.0,594.39 474.0,594.38 475.0,594.38 476.0,594.37 477.0,594.36 478.0,594.36 479.0,594.35 480.0,594.33 481.0,594.32 482.0,594.30 483.0,594.28 484.0,594.25 485.0,594.22 486.0,594.19 487.0,594.15 488.0,594.11 489.0,594.05 490.0,594.00 491.0,593.93 492.0,593.85 493.0,593.77 494.0,593.68 495.0,593.58 496.0,593.47 497.0,593.35 498.0,593.22 499.0,593.08 500.0,592.93 501.0,592.77 502.0,592.61 503.0,592.43 504.0,592.25 505.0,592.06 506.0,591.87 507.0,591.68 508.0,591.48 509.0,591.28 510.0,591.08 511.0,590.88 512.0,590.69 513.0,590.50 514.0,590.32 515.0,590.14 516.0,589.97 517.0,589.81 518.0,589.66 519.0,589.52 520.0,589.38 521.0,589.26 522.0,589.14 523.0,589.04 524.0,588.94 525.0,588.84 526.0,588.76 527.0,588.68 528.0,588.61 529.0,588.54 530.0,588.48 531.0,588.43 532.0,588.38 533.0,588.34 534.0,588.30 535.0,588.27 536.0,588.25 537.0,588.24 538.0,588.24 539.0,588.25 540.0,588.27 541.0,588.30 542.0,588.35 543.0,588.41 544.0,588.49 545.0,588.59 546.0,588.70 547.0,588.83 548.0,588.97 549.0,589.13 550.0,589.31 551.0,589.49 552.0,589.69 553.0,589.90 554.0,590.12 555.0,590.35 556.0,590.58 557.0,590.82 558.0,591.05 559.0,591.28 560.0,591.52 561.0,591.74 562.0,591.96 563.0,592.18 564.0,592.38 565.0,592.57 566.0,592.76 567.0,592.93 568.0,593.09 569.0,593.24 570.0,593.38 571.0,593.50 572.0,593.62 573.0,593.72 574.0,593.81 575.0,593.89 576.0,593.97 577.0,594.03 578.0,594.09 579.0,594.14 580.0,594.18 581.0,594.22 582.0,594.25 583.0,594.27 584.0,594.30 585.0,594.32 586.0,594.33 587.0,594.34 588.0,594.36 589.0,594.36 590.0,594.37 591.0,594.38 592.0,594.38 593.0,594.39 594.0,594.39 595.0,594.39 596.0,594.39 597.0,594.39 598.0,594.40 599.0,594.40 600.0,594.40 601.0,594.40 602.0,594.40 603.0,594.40 604.0,594.40 605.0,594.40 606.0,594.40 607.0,594.40 608.0,594.40 609.0,594.40 610.0,594.40 611.0,594.40 612.0,594.40 613.0,594.40 L613.0,594.4 Z" fill="none" stroke="#3b4cc0" stroke-width="1.1" stroke-linejoin="round"/>
<path d="M444.0,594.4 L444.0,594.16 445.0,594.14 446.0,594.12 447.0,594.10 448.0,594.08 449.0,594.06 450.0,594.03 451.0,594.01 452.0,593.98 453.0,593.96 454.0,593.93 455.0,593.90 456.0,593.87 457.0,593.83 458.0,593.80 459.0,593.76 460.0,593.72 461.0,593.68 462.0,593.64 463.0,593.60 464.0,593.56 465.0,593.51 466.0,593.46 467.0,593.41 468.0,593.36 469.0,593.31 470.0,593.25 471.0,593.19 472.0,593.13 473.0,593.07 474.0,593.01 475.0,592.95 476.0,592.88 477.0,592.81 478.0,592.74 479.0,592.67 480.0,592.60 481.0,592.52 482.0,592.45 483.0,592.37 484.0,592.29 485.0,592.21 486.0,592.13 487.0,592.05 488.0,591.97 489.0,591.88 490.0,591.80 491.0,591.71 492.0,591.63 493.0,591.54 494.0,591.45 495.0,591.37 496.0,591.28 497.0,591.19 498.0,591.11 499.0,591.02 500.0,590.94 501.0,590.85 502.0,590.77 503.0,590.69 504.0,590.61 505.0,590.53 506.0,590.45 507.0,590.37 508.0,590.30 509.0,590.22 510.0,590.15 511.0,590.09 512.0,590.02 513.0,589.96 514.0,589.90 515.0,589.84 516.0,589.78 517.0,589.73 518.0,589.69 519.0,589.64 520.0,589.60 521.0,589.56 522.0,589.53 523.0,589.50 524.0,589.47 525.0,589.45 526.0,589.43 527.0,589.42 528.0,589.41 529.0,589.40 530.0,589.40 531.0,589.40 532.0,589.41 533.0,589.42 534.0,589.43 535.0,589.45 536.0,589.47 537.0,589.50 538.0,589.53 539.0,589.56 540.0,589.60 541.0,589.64 542.0,589.69 543.0,589.73 544.0,589.78 545.0,589.84 546.0,589.90 547.0,589.96 548.0,590.02 549.0,590.09 550.0,590.15 551.0,590.22 552.0,590.30 553.0,590.37 554.0,590.45 555.0,590.53 556.0,590.61 557.0,590.69 558.0,590.77 559.0,590.85 560.0,590.94 561.0,591.02 562.0,591.11 563.0,591.19 564.0,591.28 565.0,591.37 566.0,591.45 567.0,591.54 568.0,591.63 569.0,591.71 570.0,591.80 571.0,591.88 572.0,591.97 573.0,592.05 574.0,592.13 575.0,592.21 576.0,592.29 577.0,592.37 578.0,592.45 579.0,592.52 580.0,592.60 581.0,592.67 582.0,592.74 583.0,592.81 584.0,592.88 585.0,592.95 586.0,593.01 587.0,593.07 588.0,593.13 589.0,593.19 590.0,593.25 591.0,593.31 592.0,593.36 593.0,593.41 594.0,593.46 595.0,593.51 596.0,593.56 597.0,593.60 598.0,593.64 599.0,593.68 600.0,593.72 601.0,593.76 602.0,593.80 603.0,593.83 604.0,593.87 605.0,593.90 606.0,593.93 607.0,593.96 608.0,593.98 609.0,594.01 610.0,594.03 611.0,594.06 612.0,594.08 613.0,594.10 L613.0,594.4 Z" fill="#3b4cc0" fill-opacity="0.25" stroke="none"/>
<path d="M444.0,594.4 L444.0,594.16 445.0,594.14 446.0,594.12 447.0,594.10 448.0,594.08 449.0,594.06 450.0,594.03 451.0,594.01 452.0,593.98 453.0,593.96 454.0,593.93 455.0,593.90 456.0,593.87 457.0,593.83 458.0,593.80 459.0,593.76 460.0,593.72 461.0,593.68 462.0,593.64 463.0,593.60 464.0,593.56 465.0,593.51 466.0,593.46 467.0,593.41 468.0,593.36 469.0,593.31 470.0,593.25 471.0,593.19 472.0,593.13 473.0,593.07 474.0,593.01 475.0,592.95 476.0,592.88 477.0,592.81 478.0,592.74 479.0,592.67 480.0,592.60 481.0,592.52 482.0,592.45 483.0,592.37 484.0,592.29 485.0,592.21 486.0,592.13 487.0,592.05 488.0,591.97 489.0,591.88 490.0,591.80 491.0,591.71 492.0,591.63 493.0,591.54 494.0,591.45 495.0,591.37 496.0,591.28 497.0,591.19 498.0,591.11 499.0,591.02 500.0,590.94 501.0,590.85 502.0,590.77 503.0,590.69 504.0,590.61 505.0,590.53 506.0,590.45 507.0,590.37 508.0,590.30 509.0,590.22 510.0,590.15 511.0,590.09 512.0,590.02 513.0,589.96 514.0,589.90 515.0,589.84 516.0,589.78 517.0,589.73 518.0,589.69 519.0,589.64 520.0,589.60 521.0,589.56 522.0,589.53 523.0,589.50 524.0,589.47 525.0,589.45 526.0,589.43 527.0,589.42 528.0,589.41 529.0,589.40 530.0,589.40 531.0,589.40 532.0,589.41 533.0,589.42 534.0,589.43 535.0,589.45 536.0,589.47 537.0,589.50 538.0,589.53 539.0,589.56 540.0,589.60 541.0,589.64 542.0,589.69 543.0,589.73 544.0,589.78 545.0,589.84 546.0,589.90 547.0,589.96 548.0,590.02 549.0,590.09 550.0,590.15 551.0,590.22 552.0,590.30 553.0,590.37 554.0,590.45 555.0,590.53 556.0,590.61 557.0,590.69 558.0,590.77 559.0,590.85 560.0,590.94 561.0,591.02 562.0,591.11 563.0,591.19 564.0,591.28 565.0,591.37 566.0,591.45 567.0,591.54 568.0,591.63 569.0,591.71 570.0,591.80 571.0,591.88 572.0,591.97 573.0,592.05 574.0,592.13 575.0,592.21 576.0,592.29 577.0,592.37 578.0,592.45 579.0,592.52 580.0,592.60 581.0,592.67 582.0,592.74 583.0,592.81 584.0,592.88 585.0,592.95 586.0,593.01 587.0,593.07 588.0,593.13 589.0,593.19 590.0,593.25 591.0,593.31 592.0,593.36 593.0,593.41 594.0,593.46 595.0,593.51 596.0,593.56 597.0,593.60 598.0,593.64 599.0,593.68 600.0,593.72 601.0,593.76 602.0,593.80 603.0,593.83 604.0,593.87 605.0,593.90 606.0,593.93 607.0,593.96 608.0,593.98 609.0,594.01 610.0,594.03 611.0,594.06 612.0,594.08 613.0,594.10 L613.0,594.4 Z" fill="none" stroke="#3b4cc0" stroke-width="1.1" stroke-linejoin="round"/>
<path d="M444.0,594.4 L444.0,594.30 445.0,594.29 446.0,594.28 447.0,594.27 448.0,594.26 449.0,594.24 450.0,594.23 451.0,594.22 452.0,594.20 453.0,594.19 454.0,594.17 455.0,594.15 456.0,594.13 457.0,594.11 458.0,594.09 459.0,594.07 460.0,594.04 461.0,594.02 462.0,593.99 463.0,593.96 464.0,593.93 465.0,593.90 466.0,593.86 467.0,593.83 468.0,593.79 469.0,593.75 470.0,593.71 471.0,593.67 472.0,593.62 473.0,593.58 474.0,593.53 475.0,593.48 476.0,593.43 477.0,593.37 478.0,593.32 479.0,593.26 480.0,593.20 481.0,593.14 482.0,593.07 483.0,593.01 484.0,592.94 485.0,592.87 486.0,592.80 487.0,592.73 488.0,592.65 489.0,592.58 490.0,592.50 491.0,592.42 492.0,592.34 493.0,592.26 494.0,592.18 495.0,592.09 496.0,592.01 497.0,591.93 498.0,591.84 499.0,591.76 500.0,591.67 501.0,591.59 502.0,591.50 503.0,591.42 504.0,591.33 505.0,591.25 506.0,591.17 507.0,591.08 508.0,591.00 509.0,590.92 510.0,590.85 511.0,590.77 512.0,590.70 513.0,590.63 514.0,590.56 515.0,590.49 516.0,590.43 517.0,590.37 518.0,590.31 519.0,590.26 520.0,590.21 521.0,590.16 522.0,590.11 523.0,590.07 524.0,590.04 525.0,590.01 526.0,589.98 527.0,589.95 528.0,589.94 529.0,589.92 530.0,589.91 531.0,589.90 532.0,589.90 533.0,589.90 534.0,589.91 535.0,589.92 536.0,589.94 537.0,589.95 538.0,589.98 539.0,590.01 540.0,590.04 541.0,590.07 542.0,590.11 543.0,590.16 544.0,590.21 545.0,590.26 546.0,590.31 547.0,590.37 548.0,590.43 549.0,590.49 550.0,590.56 551.0,590.63 552.0,590.70 553.0,590.77 554.0,590.85 555.0,590.92 556.0,591.00 557.0,591.08 558.0,591.17 559.0,591.25 560.0,591.33 561.0,591.42 562.0,591.50 563.0,591.59 564.0,591.67 565.0,591.76 566.0,591.84 567.0,591.93 568.0,592.01 569.0,592.09 570.0,592.18 571.0,592.26 572.0,592.34 573.0,592.42 574.0,592.50 575.0,592.58 576.0,592.65 577.0,592.73 578.0,592.80 579.0,592.87 580.0,592.94 581.0,593.01 582.0,593.07 583.0,593.14 584.0,593.20 585.0,593.26 586.0,593.32 587.0,593.37 588.0,593.43 589.0,593.48 590.0,593.53 591.0,593.58 592.0,593.62 593.0,593.67 594.0,593.71 595.0,593.75 596.0,593.79 597.0,593.83 598.0,593.86 599.0,593.90 600.0,593.93 601.0,593.96 602.0,593.99 603.0,594.02 604.0,594.04 605.0,594.07 606.0,594.09 607.0,594.11 608.0,594.13 609.0,594.15 610.0,594.17 611.0,594.19 612.0,594.20 613.0,594.22 L613.0,594.4 Z" fill="#3b4cc0" fill-opacity="0.25" stroke="none"/>
<path d="M444.0,594.4 L444.0,594.30 445.0,594.29 446.0,594.28 447.0,594.27 448.0,594.26 449.0,594.24 450.0,594.23 451.0,594.22 452.0,594.20 453.0,594.19 454.0,594.17 455.0,594.15 456.0,594.13 457.0,594.11 458.0,594.09 459.0,594.07 460.0,594.04 461.0,594.02 462.0,593.99 463.0,593.96 464.0,593.93 465.0,593.90 466.0,593.86 467.0,593.83 468.0,593.79 469.0,593.75 470.0,593.71 471.0,593.67 472.0,593.62 473.0,593.58 474.0,593.53 475.0,593.48 476.0,593.43 477.0,593.37 478.0,593.32 479.0,593.26 480.0,593.20 481.0,593.14 482.0,593.07 483.0,593.01 484.0,592.94 485.0,592.87 486.0,592.80 487.0,592.73 488.0,592.65 489.0,592.58 490.0,592.50 491.0,592.42 492.0,592.34 493.0,592.26 494.0,592.18 495.0,592.09 496.0,592.01 497.0,591.93 498.0,591.84 499.0,591.76 500.0,591.67 501.0,591.59 502.0,591.50 503.0,591.42 504.0,591.33 505.0,591.25 506.0,591.17 507.0,591.08 508.0,591.00 509.0,590.92 510.0,590.85 511.0,590.77 512.0,590.70 513.0,590.63 514.0,590.56 515.0,590.49 516.0,590.43 517.0,590.37 518.0,590.31 519.0,590.26 520.0,590.21 521.0,590.16 522.0,590.11 523.0,590.07 524.0,590.04 525.0,590.01 526.0,589.98 527.0,589.95 528.0,589.94 529.0,589.92 530.0,589.91 531.0,589.90 532.0,589.90 533.0,589.90 534.0,589.91 535.0,589.92 536.0,589.94 537.0,589.95 538.0,589.98 539.0,590.01 540.0,590.04 541.0,590.07 542.0,590.11 543.0,590.16 544.0,590.21 545.0,590.26 546.0,590.31 547.0,590.37 548.0,590.43 549.0,590.49 550.0,590.56 551.0,590.63 552.0,590.70 553.0,590.77 554.0,590.85 555.0,590.92 556.0,591.00 557.0,591.08 558.0,591.17 559.0,591.25 560.0,591.33 561.0,591.42 562.0,591.50 563.0,591.59 564.0,591.67 565.0,591.76 566.0,591.84 567.0,591.93 568.0,592.01 569.0,592.09 570.0,592.18 571.0,592.26 572.0,592.34 573.0,592.42 574.0,592.50 575.0,592.58 576.0,592.65 577.0,592.73 578.0,592.80 579.0,592.87 580.0,592.94 581.0,593.01 582.0,593.07 583.0,593.14 584.0,593.20 585.0,593.26 586.0,593.32 587.0,593.37 588.0,593.43 589.0,593.48 590.0,593.53 591.0,593.58 592.0,593.62 593.0,593.67 594.0,593.71 595.0,593.75 596.0,593.79 597.0,593.83 598.0,593.86 599.0,593.90 600.0,593.93 601.0,593.96 602.0,593.99 603.0,594.02 604.0,594.04 605.0,594.07 606.0,594.09 607.0,594.11 608.0,594.13 609.0,594.15 610.0,594.17 611.0,594.19 612.0,594.20 613.0,594.22 L613.0,594.4 Z" fill="none" stroke="#3b4cc0" stroke-width="1.1" stroke-linejoin="round"/>
<path d="M444.0,594.4 L444.0,594.05 445.0,594.03 446.0,594.01 447.0,593.99 448.0,593.96 449.0,593.94 450.0,593.91 451.0,593.89 452.0,593.86 453.0,593.83 454.0,593.80 455.0,593.77 456.0,593.74 457.0,593.70 458.0,593.67 459.0,593.63 460.0,593.59 461.0,593.55 462.0,593.51 463.0,593.47 464.0,593.43 465.0,593.39 466.0,593.34 467.0,593.30 468.0,593.25 469.0,593.20 470.0,593.15 471.0,593.10 472.0,593.05 473.0,593.00 474.0,592.94 475.0,592.89 476.0,592.83 477.0,592.77 478.0,592.72 479.0,592.66 480.0,592.60 481.0,592.54 482.0,592.48 483.0,592.42 484.0,592.35 485.0,592.29 486.0,592.23 487.0,592.17 488.0,592.10 489.0,592.04 490.0,591.97 491.0,591.91 492.0,591.85 493.0,591.78 494.0,591.72 495.0,591.66 496.0,591.59 497.0,591.53 498.0,591.47 499.0,591.41 500.0,591.35 501.0,591.29 502.0,591.23 503.0,591.18 504.0,591.12 505.0,591.07 506.0,591.02 507.0,590.97 508.0,590.92 509.0,590.87 510.0,590.82 511.0,590.78 512.0,590.74 513.0,590.70 514.0,590.66 515.0,590.63 516.0,590.59 517.0,590.56 518.0,590.54 519.0,590.51 520.0,590.49 521.0,590.47 522.0,590.45 523.0,590.43 524.0,590.42 525.0,590.41 526.0,590.41 527.0,590.40 528.0,590.40 529.0,590.40 530.0,590.41 531.0,590.41 532.0,590.42 533.0,590.43 534.0,590.45 535.0,590.47 536.0,590.49 537.0,590.51 538.0,590.54 539.0,590.56 540.0,590.59 541.0,590.63 542.0,590.66 543.0,590.70 544.0,590.74 545.0,590.78 546.0,590.82 547.0,590.87 548.0,590.92 549.0,590.97 550.0,591.02 551.0,591.07 552.0,591.12 553.0,591.18 554.0,591.23 555.0,591.29 556.0,591.35 557.0,591.41 558.0,591.47 559.0,591.53 560.0,591.59 561.0,591.66 562.0,591.72 563.0,591.78 564.0,591.85 565.0,591.91 566.0,591.97 567.0,592.04 568.0,592.10 569.0,592.17 570.0,592.23 571.0,592.29 572.0,592.35 573.0,592.42 574.0,592.48 575.0,592.54 576.0,592.60 577.0,592.66 578.0,592.72 579.0,592.77 580.0,592.83 581.0,592.89 582.0,592.94 583.0,593.00 584.0,593.05 585.0,593.10 586.0,593.15 587.0,593.20 588.0,593.25 589.0,593.30 590.0,593.34 591.0,593.39 592.0,593.43 593.0,593.47 594.0,593.51 595.0,593.55 596.0,593.59 597.0,593.63 598.0,593.67 599.0,593.70 600.0,593.74 601.0,593.77 602.0,593.80 603.0,593.83 604.0,593.86 605.0,593.89 606.0,593.91 607.0,593.94 608.0,593.96 609.0,593.99 610.0,594.01 611.0,594.03 612.0,594.05 613.0,594.07 L613.0,594.4 Z" fill="#3b4cc0" fill-opacity="0.25" stroke="none"/>
<path d="M444.0,594.4 L444.0,594.05 445.0,594.03 446.0,594.01 447.0,593.99 448.0,593.96 449.0,593.94 450.0,593.91 451.0,593.89 452.0,593.86 453.0,593.83 454.0,593.80 455.0,593.77 456.0,593.74 457.0,593.70 458.0,593.67 459.0,593.63 460.0,593.59 461.0,593.55 462.0,593.51 463.0,593.47 464.0,593.43 465.0,593.39 466.0,593.34 467.0,593.30 468.0,593.25 469.0,593.20 470.0,593.15 471.0,593.10 472.0,593.05 473.0,593.00 474.0,592.94 475.0,592.89 476.0,592.83 477.0,592.77 478.0,592.72 479.0,592.66 480.0,592.60 481.0,592.54 482.0,592.48 483.0,592.42 484.0,592.35 485.0,592.29 486.0,592.23 487.0,592.17 488.0,592.10 489.0,592.04 490.0,591.97 491.0,591.91 492.0,591.85 493.0,591.78 494.0,591.72 495.0,591.66 496.0,591.59 497.0,591.53 498.0,591.47 499.0,591.41 500.0,591.35 501.0,591.29 502.0,591.23 503.0,591.18 504.0,591.12 505.0,591.07 506.0,591.02 507.0,590.97 508.0,590.92 509.0,590.87 510.0,590.82 511.0,590.78 512.0,590.74 513.0,590.70 514.0,590.66 515.0,590.63 516.0,590.59 517.0,590.56 518.0,590.54 519.0,590.51 520.0,590.49 521.0,590.47 522.0,590.45 523.0,590.43 524.0,590.42 525.0,590.41 526.0,590.41 527.0,590.40 528.0,590.40 529.0,590.40 530.0,590.41 531.0,590.41 532.0,590.42 533.0,590.43 534.0,590.45 535.0,590.47 536.0,590.49 537.0,590.51 538.0,590.54 539.0,590.56 540.0,590.59 541.0,590.63 542.0,590.66 543.0,590.70 544.0,590.74 545.0,590.78 546.0,590.82 547.0,590.87 548.0,590.92 549.0,590.97 550.0,591.02 551.0,591.07 552.0,591.12 553.0,591.18 554.0,591.23 555.0,591.29 556.0,591.35 557.0,591.41 558.0,591.47 559.0,591.53 560.0,591.59 561.0,591.66 562.0,591.72 563.0,591.78 564.0,591.85 565.0,591.91 566.0,591.97 567.0,592.04 568.0,592.10 569.0,592.17 570.0,592.23 571.0,592.29 572.0,592.35 573.0,592.42 574.0,592.48 575.0,592.54 576.0,592.60 577.0,592.66 578.0,592.72 579.0,592.77 580.0,592.83 581.0,592.89 582.0,592.94 583.0,593.00 584.0,593.05 585.0,593.10 586.0,593.15 587.0,593.20 588.0,593.25 589.0,593.30 590.0,593.34 591.0,593.39 592.0,593.43 593.0,593.47 594.0,593.51 595.0,593.55 596.0,593.59 597.0,593.63 598.0,593.67 599.0,593.70 600.0,593.74 601.0,593.77 602.0,593.80 603.0,593.83 604.0,593.86 605.0,593.89 606.0,593.91 607.0,593.94 608.0,593.96 609.0,593.99 610.0,594.01 611.0,594.03 612.0,594.05 613.0,594.07 L613.0,594.4 Z" fill="none" stroke="#3b4cc0" stroke-width="1.1" stroke-linejoin="round"/>
<path d="M444.0,594.4 L444.0,594.35 445.0,594.34 446.0,594.34 447.0,594.33 448.0,594.32 449.0,594.32 450.0,594.31 451.0,594.30 452.0,594.29 453.0,594.28 454.0,594.27 455.0,594.26 456.0,594.25 457.0,594.23 458.0,594.22 459.0,594.20 460.0,594.19 461.0,594.17 462.0,594.15 463.0,594.13 464.0,594.11 465.0,594.09 466.0,594.07 467.0,594.04 468.0,594.01 469.0,593.99 470.0,593.96 471.0,593.93 472.0,593.89 473.0,593.86 474.0,593.82 475.0,593.79 476.0,593.75 477.0,593.71 478.0,593.66 479.0,593.62 480.0,593.57 481.0,593.53 482.0,593.48 483.0,593.43 484.0,593.37 485.0,593.32 486.0,593.26 487.0,593.21 488.0,593.15 489.0,593.09 490.0,593.02 491.0,592.96 492.0,592.90 493.0,592.83 494.0,592.76 495.0,592.70 496.0,592.63 497.0,592.56 498.0,592.49 499.0,592.42 500.0,592.35 501.0,592.28 502.0,592.21 503.0,592.14 504.0,592.07 505.0,592.00 506.0,591.93 507.0,591.86 508.0,591.79 509.0,591.73 510.0,591.66 511.0,591.60 512.0,591.54 513.0,591.48 514.0,591.42 515.0,591.36 516.0,591.31 517.0,591.26 518.0,591.21 519.0,591.17 520.0,591.13 521.0,591.09 522.0,591.05 523.0,591.02 524.0,590.99 525.0,590.97 526.0,590.95 527.0,590.93 528.0,590.92 529.0,590.91 530.0,590.90 531.0,590.90 532.0,590.90 533.0,590.91 534.0,590.92 535.0,590.93 536.0,590.95 537.0,590.97 538.0,590.99 539.0,591.02 540.0,591.05 541.0,591.09 542.0,591.13 543.0,591.17 544.0,591.21 545.0,591.26 546.0,591.31 547.0,591.36 548.0,591.42 549.0,591.48 550.0,591.54 551.0,591.60 552.0,591.66 553.0,591.73 554.0,591.79 555.0,591.86 556.0,591.93 557.0,592.00 558.0,592.07 559.0,592.14 560.0,592.21 561.0,592.28 562.0,592.35 563.0,592.42 564.0,592.49 565.0,592.56 566.0,592.63 567.0,592.70 568.0,592.76 569.0,592.83 570.0,592.90 571.0,592.96 572.0,593.02 573.0,593.09 574.0,593.15 575.0,593.21 576.0,593.26 577.0,593.32 578.0,593.37 579.0,593.43 580.0,593.48 581.0,593.53 582.0,593.57 583.0,593.62 584.0,593.66 585.0,593.71 586.0,593.75 587.0,593.79 588.0,593.82 589.0,593.86 590.0,593.89 591.0,593.93 592.0,593.96 593.0,593.99 594.0,594.01 595.0,594.04 596.0,594.07 597.0,594.09 598.0,594.11 599.0,594.13 600.0,594.15 601.0,594.17 602.0,594.19 603.0,594.20 604.0,594.22 605.0,594.23 606.0,594.25 607.0,594.26 608.0,594.27 609.0,594.28 610.0,594.29 611.0,594.30 612.0,594.31 613.0,594.32 L613.0,594.4 Z" fill="#3b4cc0" fill-opacity="0.25" stroke="none"/>
<path d="M444.0,594.4 L444.0,594.35 445.0,594.34 446.0,594.34 447.0,594.33 448.0,594.32 449.0,594.32 450.0,594.31 451.0,594.30 452.0,594.29 453.0,594.28 454.0,594.27 455.0,594.26 456.0,594.25 457.0,594.23 458.0,594.22 459.0,594.20 460.0,594.19 461.0,594.17 462.0,594.15 463.0,594.13 464.0,594.11 465.0,594.09 466.0,594.07 467.0,594.04 468.0,594.01 469.0,593.99 470.0,593.96 471.0,593.93 472.0,593.89 473.0,593.86 474.0,593.82 475.0,593.79 476.0,593.75 477.0,593.71 478.0,593.66 479.0,593.62 480.0,593.57 481.0,593.53 482.0,593.48 483.0,593.43 484.0,593.37 485.0,593.32 486.0,593.26 487.0,593.21 488.0,593.15 489.0,593.09 490.0,593.02 491.0,592.96 492.0,592.90 493.0,592.83 494.0,592.76 495.0,592.70 496.0,592.63 497.0,592.56 498.0,592.49 499.0,592.42 500.0,592.35 501.0,592.28 502.0,592.21 503.0,592.14 504.0,592.07 505.0,592.00 506.0,591.93 507.0,591.86 508.0,591.79 509.0,591.73 510.0,591.66 511.0,591.60 512.0,591.54 513.0,591.48 514.0,591.42 515.0,591.36 516.0,591.31 517.0,591.26 518.0,591.21 519.0,591.17 520.0,591.13 521.0,591.09 522.0,591.05 523.0,591.02 524.0,590.99 525.0,590.97 526.0,590.95 527.0,590.93 528.0,590.92 529.0,590.91 530.0,590.90 531.0,590.90 532.0,590.90 533.0,590.91 534.0,590.92 535.0,590.93 536.0,590.95 537.0,590.97 538.0,590.99 539.0,591.02 540.0,591.05 541.0,591.09 542.0,591.13 543.0,591.17 544.0,591.21 545.0,591.26 546.0,591.31 547.0,591.36 548.0,591.42 549.0,591.48 550.0,591.54 551.0,591.60 552.0,591.66 553.0,591.73 554.0,591.79 555.0,591.86 556.0,591.93 557.0,592.00 558.0,592.07 559.0,592.14 560.0,592.21 561.0,592.28 562.0,592.35 563.0,592.42 564.0,592.49 565.0,592.56 566.0,592.63 567.0,592.70 568.0,592.76 569.0,592.83 570.0,592.90 571.0,592.96 572.0,593.02 573.0,593.09 574.0,593.15 575.0,593.21 576.0,593.26 577.0,593.32 578.0,593.37 579.0,593.43 580.0,593.48 581.0,593.53 582.0,593.57 583.0,593.62 584.0,593.66 585.0,593.71 586.0,593.75 587.0,593.79 588.0,593.82 589.0,593.86 590.0,593.89 591.0,593.93 592.0,593.96 593.0,593.99 594.0,594.01 595.0,594.04 596.0,594.07 597.0,594.09 598.0,594.11 599.0,594.13 600.0,594.15 601.0,594.17 602.0,594.19 603.0,594.20 604.0,594.22 605.0,594.23 606.0,594.25 607.0,594.26 608.0,594.27 609.0,594.28 610.0,594.29 611.0,594.30 612.0,594.31 613.0,594.32 L613.0,594.4 Z" fill="none" stroke="#3b4cc0" stroke-width="1.1" stroke-linejoin="round"/>
</g>
<text x="63.95" y="615.0" text-anchor="middle">-25</text>
<text x="110.40" y="615.0" text-anchor="middle">0</text>
<text x="155.45" y="615.0" text-anchor="middle">25</text>
<text x="200.50" y="615.0" text-anchor="middle">50</text>
<text x="247.10" y="615.0" text-anchor="middle">-2</text>
<text x="299.70" y="615.0" text-anchor="middle">0</text>
<text x="350.90" y="615.0" text-anchor="middle">2</text>
<text x="402.10" y="615.0" text-anchor="middle">4</text>
<text x="461.30" y="615.0" text-anchor="middle">0</text>
<text x="532.70" y="615.0" text-anchor="middle">2</text>
<text x="604.10" y="615.0" text-anchor="middle">4</text>
<text x="36.7" y="232.65" text-anchor="end">5</text>
<text x="36.7" y="201.64" text-anchor="end">10</text>
<text x="36.7" y="170.63" text-anchor="end">15</text>
<text x="36.7" y="139.62" text-anchor="end">20</text>
<text x="36.7" y="108.61" text-anchor="end">25</text>
<text x="36.7" y="77.60" text-anchor="end">30</text>
<text x="37.2" y="386.70" text-anchor="end">0.5</text>
<text x="37.2" y="343.53" text-anchor="end">1.0</text>
<text x="37.2" y="300.37" text-anchor="end">1.5</text>
<text x="37.2" y="257.20" text-anchor="end">2.0</text>
<text x="37.2" y="592.40" text-anchor="end">0.5</text>
<text x="37.2" y="553.58" text-anchor="end">1.0</text>
<text x="37.2" y="514.75" text-anchor="end">1.5</text>
<text x="37.2" y="475.93" text-anchor="end">2.0</text>
<text x="37.2" y="437.10" text-anchor="end">2.5</text>
<text x="124.6" y="629.7" font-style="italic" letter-spacing="0.6">COV</text>
<text x="316.0" y="629.7" font-style="italic" letter-spacing="0.9">SCLR</text>
<text x="517.7" y="629.7" font-style="italic" letter-spacing="1.0">FoS</text>
<text transform="translate(12.0,164.6) rotate(-90)" font-style="italic" letter-spacing="0.6">COV</text>
<text transform="translate(12.0,348.2) rotate(-90)" font-style="italic" letter-spacing="0.9">SCLR</text>
<text transform="translate(12.0,523.1) rotate(-90)" font-style="italic" letter-spacing="1.0">FoS</text>
<text x="647.2" y="272.2" font-style="italic" letter-spacing="1.0">PF</text>
<circle cx="644.6" cy="286.10" r="3.55" fill="#3b4cc0" stroke="#fff" stroke-width="0.6"/>
<text x="663.9" y="290.80">0.0</text>
<circle cx="644.6" cy="303.56" r="3.55" fill="#7b9ff9" stroke="#fff" stroke-width="0.6"/>
<text x="663.9" y="308.26">0.2</text>
<circle cx="644.6" cy="321.02" r="3.55" fill="#c0d4f5" stroke="#fff" stroke-width="0.6"/>
<text x="663.9" y="325.72">0.4</text>
<circle cx="644.6" cy="338.48" r="3.55" fill="#f2cbb7" stroke="#fff" stroke-width="0.6"/>
<text x="663.9" y="343.18">0.6</text>
<circle cx="644.6" cy="355.94" r="3.55" fill="#ee8468" stroke="#fff" stroke-width="0.6"/>
<text x="663.9" y="360.64">0.8</text>
<circle cx="644.6" cy="373.40" r="3.55" fill="#b40426" stroke="#fff" stroke-width="0.6"/>
<text x="663.9" y="378.10">1.0</text>
</svg>
</body></html>
